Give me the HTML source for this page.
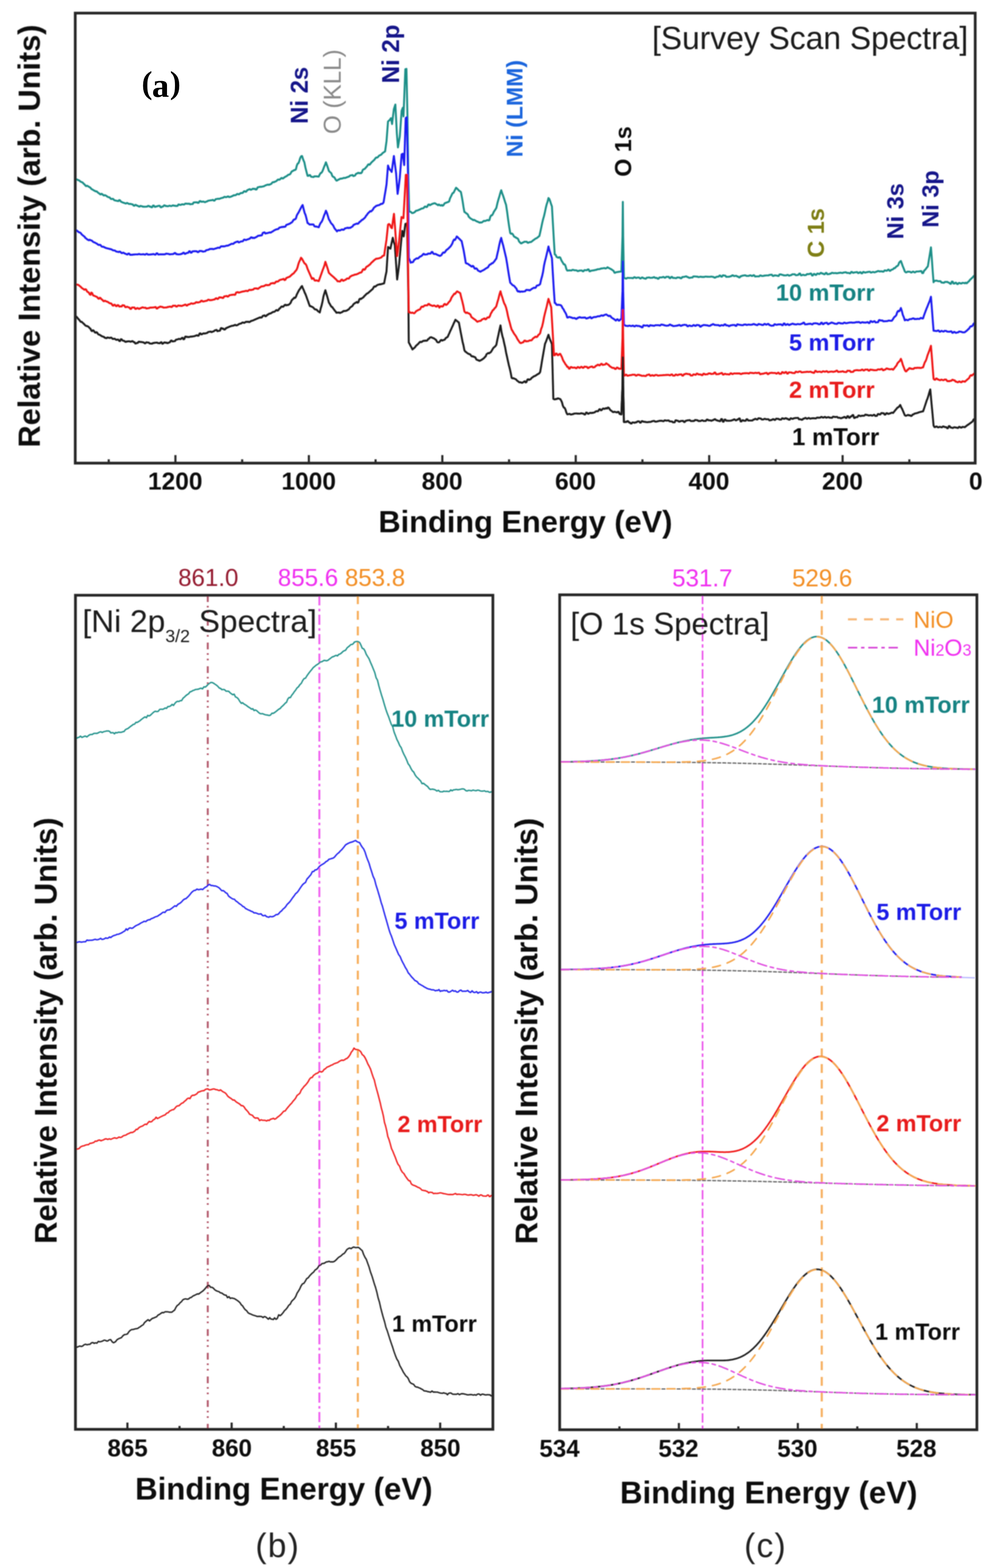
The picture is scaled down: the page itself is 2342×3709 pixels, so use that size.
<!DOCTYPE html>
<html><head><meta charset="utf-8"><title>XPS spectra</title>
<style>html,body{margin:0;padding:0;background:#fff;width:2342px;height:3709px;overflow:hidden}</style>
</head><body>
<svg width="2342" height="3709" viewBox="0 0 2342 3709" style="display:block">
<rect width="2342" height="3709" fill="#ffffff"/>
<defs><filter id="soft" x="0" y="0" width="2342" height="3709" filterUnits="userSpaceOnUse"><feGaussianBlur stdDeviation="0.9"/></filter></defs>
<g filter="url(#soft)">
<path d="M180.0 424.0 L182.0 424.5 L184.0 425.7 L186.0 426.2 L188.0 427.4 L190.0 429.2 L192.0 430.4 L194.0 431.0 L196.0 432.2 L198.0 434.8 L200.0 436.1 L202.0 439.0 L204.0 440.3 L206.0 439.2 L208.0 440.4 L210.0 441.7 L212.0 442.8 L214.0 444.1 L216.0 446.8 L218.0 448.0 L220.0 449.1 L222.0 450.4 L224.0 451.3 L226.0 452.6 L228.0 452.5 L230.0 453.8 L232.0 456.0 L234.0 457.0 L236.0 458.9 L238.0 459.9 L240.0 458.3 L242.0 459.3 L244.0 461.4 L246.0 462.4 L248.0 461.5 L250.0 462.5 L252.0 463.5 L254.0 465.3 L256.0 466.3 L258.0 466.6 L260.0 467.6 L262.0 470.3 L264.0 470.9 L266.0 470.2 L268.0 470.8 L270.0 473.4 L272.0 474.0 L274.0 474.4 L276.0 475.0 L278.0 475.2 L280.0 475.8 L282.0 473.3 L284.0 473.9 L286.0 477.1 L288.0 477.7 L290.0 478.9 L292.0 479.5 L294.0 480.1 L296.0 480.9 L298.0 481.5 L300.0 480.0 L302.0 480.4 L304.0 482.1 L306.0 482.5 L308.0 482.2 L310.0 482.6 L312.0 483.2 L314.0 483.5 L316.0 486.3 L318.0 486.7 L320.0 484.6 L322.0 485.0 L324.0 486.4 L326.0 486.7 L328.0 488.3 L330.0 488.7 L332.0 487.1 L334.0 487.5 L336.0 487.9 L338.0 488.9 L340.0 488.8 L342.0 489.0 L344.0 489.0 L346.0 488.8 L348.0 488.8 L350.0 487.0 L352.0 487.0 L354.0 488.6 L356.0 488.5 L358.0 490.1 L360.0 490.1 L362.0 486.2 L364.0 486.2 L366.0 489.2 L368.0 489.1 L370.0 488.1 L372.0 488.1 L374.0 487.0 L376.0 486.9 L378.0 486.9 L380.0 490.2 L382.0 490.2 L384.0 488.5 L386.0 488.4 L388.0 485.8 L390.0 485.8 L392.0 487.4 L394.0 487.3 L396.0 487.9 L398.0 487.8 L400.0 486.8 L402.0 486.6 L404.0 487.5 L406.0 487.3 L408.0 486.1 L410.0 485.9 L412.0 486.7 L414.0 486.5 L416.0 487.3 L418.0 487.1 L420.0 486.9 L422.0 483.9 L424.0 483.7 L426.0 484.7 L428.0 484.5 L430.0 483.4 L432.0 483.2 L434.0 483.8 L436.0 483.6 L438.0 481.7 L440.0 481.5 L442.0 482.0 L444.0 481.8 L446.0 482.1 L448.0 481.9 L450.0 483.2 L452.0 482.8 L454.0 482.8 L456.0 482.5 L458.0 479.0 L460.0 478.7 L462.0 478.4 L464.0 478.7 L466.0 478.4 L468.0 480.0 L470.0 479.6 L472.0 475.9 L474.0 475.6 L476.0 477.2 L478.0 476.9 L480.0 477.1 L482.0 476.8 L484.0 478.2 L486.0 477.9 L488.0 476.8 L490.0 476.5 L492.0 474.9 L494.0 474.5 L496.0 474.2 L498.0 473.8 L500.0 473.7 L502.0 473.2 L504.0 472.8 L506.0 474.7 L508.0 474.2 L510.0 471.2 L512.0 470.8 L514.0 470.5 L516.0 470.1 L518.0 470.5 L520.0 470.1 L522.0 469.0 L524.0 468.6 L526.0 468.0 L528.0 467.6 L530.0 466.0 L532.0 465.5 L534.0 466.5 L536.0 466.1 L538.0 465.1 L540.0 464.6 L542.0 466.3 L544.0 465.8 L546.0 465.4 L548.0 464.3 L550.0 463.8 L552.0 462.3 L554.1 461.7 L556.1 461.9 L558.2 461.3 L560.2 459.3 L562.3 458.7 L564.4 459.8 L566.4 459.2 L568.5 457.1 L570.5 456.5 L572.5 456.6 L574.6 456.0 L576.6 452.9 L578.7 452.2 L580.8 453.7 L582.8 453.1 L584.9 449.8 L586.9 449.1 L589.0 448.0 L591.0 447.4 L593.0 449.0 L595.1 448.4 L597.1 447.0 L599.2 446.3 L601.2 447.1 L603.2 446.5 L605.3 448.5 L607.3 447.9 L609.4 443.3 L611.4 442.7 L613.5 442.3 L615.5 441.7 L617.5 442.1 L619.6 441.5 L621.6 441.3 L623.7 440.6 L625.7 440.0 L627.8 438.5 L629.8 437.9 L631.8 437.2 L633.9 436.6 L635.9 437.2 L638.0 436.5 L640.0 435.7 L642.0 434.7 L644.1 431.7 L646.1 430.7 L648.2 430.9 L650.2 429.9 L652.3 429.0 L654.3 428.0 L656.4 425.6 L658.4 424.6 L660.5 425.3 L662.5 424.3 L664.5 421.9 L666.6 420.9 L668.6 422.3 L670.7 421.3 L672.7 419.3 L674.8 418.3 L676.8 417.1 L678.9 416.1 L680.9 414.2 L683.0 413.2 L685.0 412.8 L687.1 411.0 L689.3 406.7 L691.4 404.8 L693.6 404.1 L695.7 402.2 L697.9 402.3 L700.0 400.5 L702.0 392.2 L704.0 387.2 L706.0 386.1 L708.0 381.1 L710.2 373.7 L712.3 369.7 L714.5 369.0 L717.2 377.5 L720.0 383.9 L722.5 396.2 L725.1 406.5 L727.6 415.9 L729.6 416.0 L731.7 414.1 L733.7 414.2 L735.7 418.0 L737.8 418.2 L739.8 418.6 L741.8 418.8 L743.8 417.0 L745.9 417.2 L747.9 417.1 L749.9 417.3 L752.0 417.6 L754.0 417.8 L756.2 413.1 L758.4 409.5 L760.6 408.6 L762.8 405.0 L765.0 399.3 L767.0 394.0 L769.0 389.3 L771.0 383.9 L773.3 390.0 L775.7 397.0 L778.0 404.2 L780.0 406.5 L782.0 408.0 L784.0 410.3 L786.0 416.0 L788.0 418.3 L790.0 418.8 L792.0 421.1 L794.0 424.9 L796.0 427.3 L798.0 426.8 L800.0 425.0 L802.0 424.5 L804.0 423.1 L806.0 422.6 L808.0 422.6 L810.0 422.1 L812.0 421.3 L814.0 420.8 L816.0 421.0 L818.0 420.5 L820.0 419.5 L822.0 418.8 L824.0 418.2 L826.0 417.5 L828.0 415.4 L830.0 414.7 L832.0 414.7 L834.0 414.0 L836.0 416.5 L838.0 415.8 L840.0 415.1 L842.0 411.4 L844.0 410.7 L846.0 409.5 L848.0 408.7 L850.0 409.9 L852.0 409.1 L854.0 409.8 L856.0 407.9 L858.0 402.3 L860.0 400.4 L862.0 400.1 L864.0 398.2 L866.0 395.7 L868.0 393.8 L870.0 390.4 L872.0 388.5 L874.0 389.8 L876.0 387.9 L878.0 385.0 L880.0 383.1 L882.0 381.2 L884.0 379.4 L886.0 377.5 L888.0 374.5 L890.0 372.6 L892.1 372.8 L894.2 371.4 L896.3 368.7 L898.4 367.3 L900.5 366.5 L902.6 365.1 L904.7 362.4 L906.8 361.0 L908.9 359.5 L911.0 358.1 L914.4 333.5 L917.9 287.3 L920.2 285.5 L922.6 282.7 L924.9 279.5 L927.5 293.4 L929.6 275.4 L931.8 257.9 L935.3 247.3 L938.8 315.1 L941.4 348.8 L943.6 335.7 L945.8 322.8 L948.0 292.3 L950.1 262.0 L952.8 255.0 L954.5 275.5 L956.7 219.9 L958.9 163.6 L961.5 162.9 L964.0 280.5 L966.0 420.5 L968.0 499.3 L970.0 500.8 L972.0 501.2 L974.5 504.0 L977.0 503.8 L979.1 502.8 L981.2 501.7 L983.3 499.2 L985.4 498.2 L987.5 498.0 L989.6 496.9 L991.7 496.2 L993.8 495.1 L995.9 494.1 L998.0 493.1 L1000.0 493.0 L1002.1 492.1 L1004.2 489.3 L1006.3 488.4 L1008.5 490.0 L1010.6 489.1 L1012.7 484.5 L1014.8 483.6 L1016.9 485.4 L1019.0 484.4 L1021.1 483.0 L1023.3 482.1 L1025.4 481.6 L1027.5 480.7 L1029.6 481.0 L1031.8 482.7 L1034.0 483.8 L1036.2 485.5 L1038.3 483.7 L1040.5 485.4 L1042.7 486.3 L1044.9 484.8 L1047.1 486.6 L1049.3 485.2 L1051.5 481.3 L1053.7 479.8 L1055.9 479.7 L1058.1 478.2 L1060.3 477.9 L1062.5 476.4 L1064.5 469.3 L1066.6 465.3 L1068.7 460.8 L1070.7 456.9 L1072.8 456.1 L1074.8 452.2 L1076.9 448.0 L1078.9 444.1 L1081.2 446.0 L1083.5 448.3 L1085.8 451.0 L1088.1 452.2 L1090.4 454.5 L1092.5 465.1 L1094.5 476.6 L1096.5 489.9 L1098.6 501.4 L1100.6 502.4 L1102.7 504.4 L1104.8 505.6 L1106.8 507.7 L1108.8 512.5 L1110.9 514.6 L1113.0 516.6 L1115.0 517.9 L1117.2 519.0 L1119.4 520.8 L1121.6 520.0 L1123.8 521.2 L1126.0 522.7 L1128.2 523.8 L1130.4 524.5 L1132.6 525.6 L1134.8 526.8 L1136.9 525.9 L1139.0 526.4 L1141.1 525.5 L1143.2 523.3 L1145.3 522.4 L1147.3 523.0 L1149.4 522.1 L1151.5 521.2 L1153.6 520.3 L1155.7 521.5 L1157.8 520.6 L1159.8 512.9 L1161.9 509.6 L1164.0 509.3 L1166.0 506.1 L1168.0 501.5 L1170.1 498.2 L1172.2 495.1 L1174.2 491.8 L1176.5 481.4 L1178.8 472.8 L1181.1 465.5 L1183.4 457.0 L1185.7 450.0 L1188.0 457.2 L1190.3 463.3 L1192.6 470.5 L1194.9 477.9 L1197.2 484.6 L1199.7 501.1 L1202.1 519.5 L1204.5 536.0 L1207.0 551.0 L1209.1 553.1 L1211.2 552.3 L1213.3 554.4 L1215.4 558.5 L1217.5 560.6 L1219.5 561.0 L1221.6 563.1 L1223.7 563.5 L1225.8 565.6 L1227.9 571.2 L1230.0 573.3 L1232.0 575.6 L1234.1 575.5 L1236.1 573.7 L1238.1 573.5 L1240.2 571.8 L1242.2 571.7 L1244.2 571.9 L1246.2 571.7 L1248.3 574.3 L1250.3 574.2 L1252.3 572.8 L1254.4 572.6 L1256.4 572.4 L1258.6 570.7 L1260.8 568.9 L1262.9 567.3 L1265.1 565.8 L1267.3 564.1 L1269.5 563.5 L1271.6 561.8 L1273.8 559.9 L1276.0 558.2 L1278.2 548.5 L1280.3 539.1 L1282.5 528.2 L1284.7 518.9 L1286.8 511.6 L1289.0 502.3 L1291.1 492.1 L1293.2 483.4 L1295.4 477.1 L1297.5 468.4 L1299.5 470.7 L1301.6 476.1 L1303.7 482.9 L1305.7 488.3 L1307.9 526.8 L1310.1 565.2 L1312.3 601.8 L1314.5 602.9 L1316.7 607.9 L1318.8 608.6 L1321.0 609.7 L1323.2 608.3 L1325.4 609.4 L1327.5 614.7 L1329.5 618.4 L1331.6 621.6 L1333.7 625.3 L1335.7 625.2 L1337.8 628.9 L1339.8 636.3 L1341.9 640.0 L1343.9 640.0 L1345.9 639.6 L1348.0 639.6 L1350.0 639.8 L1352.0 639.8 L1354.0 638.3 L1356.1 638.3 L1358.1 639.3 L1360.1 639.3 L1362.1 639.5 L1364.2 639.5 L1366.2 641.2 L1368.2 641.2 L1370.2 640.1 L1372.2 640.1 L1374.3 639.7 L1376.3 639.7 L1378.3 641.7 L1380.3 641.7 L1382.4 639.0 L1384.4 639.0 L1386.4 639.2 L1388.4 639.2 L1390.5 637.3 L1392.5 637.3 L1394.5 641.7 L1396.6 641.4 L1398.6 640.3 L1400.7 640.0 L1402.7 639.7 L1404.8 639.4 L1406.8 639.1 L1408.9 638.4 L1411.0 638.1 L1413.0 637.1 L1415.1 636.8 L1417.1 636.6 L1419.2 636.3 L1421.2 635.4 L1423.3 635.1 L1425.3 634.8 L1427.4 634.5 L1429.9 634.0 L1432.3 635.1 L1434.8 634.3 L1437.2 632.2 L1439.2 633.7 L1441.3 634.3 L1443.3 635.7 L1445.4 636.5 L1447.5 637.9 L1449.5 639.3 L1451.5 640.7 L1453.6 645.1 L1455.6 645.1 L1457.7 643.7 L1459.8 643.7 L1461.8 643.1 L1463.8 643.1 L1465.9 642.5 L1468.0 642.5 L1470.0 642.5 L1472.6 558.6 L1473.4 477.6 L1474.2 558.6 L1476.0 657.7 L1478.0 657.7 L1480.0 658.9 L1482.0 658.9 L1484.0 657.3 L1486.0 657.3 L1488.0 657.5 L1490.0 657.5 L1492.0 657.5 L1494.0 657.5 L1496.0 657.9 L1498.0 657.9 L1500.0 655.7 L1502.0 655.7 L1504.0 657.4 L1506.0 657.4 L1508.0 656.5 L1510.0 656.5 L1512.0 656.5 L1514.0 658.7 L1516.0 658.7 L1518.0 656.5 L1520.0 656.4 L1522.0 658.1 L1524.0 658.1 L1526.0 659.3 L1528.0 659.3 L1530.0 656.8 L1532.0 656.8 L1534.0 656.4 L1536.0 656.3 L1538.0 657.3 L1540.0 657.3 L1542.0 657.0 L1544.0 657.0 L1546.0 655.7 L1548.0 655.6 L1550.0 657.5 L1552.0 657.4 L1554.0 657.4 L1556.0 659.4 L1558.0 659.3 L1560.0 656.4 L1562.0 656.3 L1564.0 656.3 L1566.0 656.3 L1568.0 655.2 L1570.0 655.1 L1572.0 656.9 L1574.0 656.8 L1576.0 654.8 L1578.0 654.7 L1580.0 654.9 L1582.0 654.8 L1584.0 657.9 L1586.0 657.9 L1588.0 655.0 L1590.0 655.0 L1592.0 657.5 L1594.0 657.5 L1596.0 657.4 L1598.0 658.0 L1600.0 657.9 L1602.0 656.2 L1604.0 656.2 L1606.0 656.6 L1608.0 656.5 L1610.0 658.3 L1612.0 658.3 L1614.0 655.4 L1616.0 655.4 L1618.0 654.8 L1620.0 654.8 L1622.0 653.8 L1624.0 653.7 L1626.0 655.5 L1628.0 655.5 L1630.0 657.3 L1632.0 657.3 L1634.0 656.6 L1636.0 656.5 L1638.0 656.5 L1640.0 654.0 L1642.0 653.9 L1644.0 654.0 L1646.0 654.0 L1648.0 654.4 L1650.0 654.4 L1652.0 655.4 L1654.0 655.3 L1656.0 654.6 L1658.0 654.6 L1660.0 655.1 L1662.0 655.1 L1664.0 655.1 L1666.0 655.1 L1668.0 654.3 L1670.0 654.3 L1672.0 654.6 L1674.0 654.5 L1676.0 654.8 L1678.0 654.8 L1680.0 654.7 L1682.0 654.3 L1684.0 654.3 L1686.0 655.0 L1688.0 655.0 L1690.0 656.7 L1692.0 656.7 L1694.0 655.0 L1696.0 654.9 L1698.0 654.2 L1700.0 654.2 L1702.0 651.9 L1704.0 651.8 L1706.0 654.5 L1708.0 654.4 L1710.0 651.4 L1712.0 651.3 L1714.0 652.0 L1716.0 652.0 L1718.0 654.9 L1720.0 654.8 L1722.0 654.8 L1724.0 654.6 L1726.0 654.5 L1728.0 653.4 L1730.0 653.3 L1732.0 651.3 L1734.0 651.2 L1736.0 652.9 L1738.0 652.9 L1740.0 652.5 L1742.0 652.4 L1744.0 654.1 L1746.0 654.1 L1748.0 656.1 L1750.0 656.1 L1752.0 653.4 L1754.0 653.4 L1756.0 652.0 L1758.0 652.0 L1760.0 651.4 L1762.0 651.4 L1764.0 651.4 L1766.0 652.8 L1768.0 652.7 L1770.0 652.6 L1772.0 652.5 L1774.0 651.2 L1776.0 651.2 L1778.0 652.8 L1780.0 652.8 L1782.0 651.1 L1784.0 651.0 L1786.0 653.9 L1788.0 653.9 L1790.0 653.8 L1792.0 653.8 L1794.0 653.8 L1796.0 653.7 L1798.0 651.6 L1800.0 651.6 L1802.0 652.9 L1804.0 652.8 L1806.0 652.8 L1808.0 651.9 L1810.0 651.9 L1812.0 651.5 L1814.0 651.5 L1816.0 651.5 L1818.0 651.5 L1820.0 650.2 L1822.0 650.1 L1824.0 649.9 L1826.0 649.9 L1828.0 652.7 L1830.0 652.7 L1832.0 651.4 L1834.0 651.3 L1836.0 651.8 L1838.0 651.8 L1840.0 652.8 L1842.0 652.8 L1844.0 649.2 L1846.0 649.1 L1848.0 649.1 L1850.0 650.3 L1852.0 650.2 L1854.1 651.4 L1856.1 651.3 L1858.1 651.5 L1860.1 651.4 L1862.2 650.3 L1864.2 650.2 L1866.2 652.0 L1868.2 651.9 L1870.3 650.8 L1872.3 650.7 L1874.3 648.7 L1876.3 648.7 L1878.4 648.9 L1880.4 648.9 L1882.4 651.0 L1884.4 651.0 L1886.5 650.4 L1888.5 650.4 L1890.5 647.2 L1892.6 647.1 L1894.6 651.3 L1896.6 651.2 L1898.6 650.1 L1900.7 650.0 L1902.7 650.9 L1904.7 650.8 L1906.7 650.8 L1908.8 648.4 L1910.8 648.4 L1912.8 648.4 L1914.8 648.3 L1916.9 647.1 L1918.9 647.1 L1920.9 651.7 L1922.9 651.7 L1925.0 648.1 L1927.0 648.0 L1929.0 650.2 L1931.0 650.1 L1933.0 647.2 L1935.1 647.1 L1937.1 648.1 L1939.1 648.0 L1941.1 645.6 L1943.1 645.5 L1945.1 647.1 L1947.1 647.0 L1949.2 648.7 L1951.2 648.7 L1953.2 645.7 L1955.2 645.6 L1957.2 648.6 L1959.2 648.5 L1961.2 648.5 L1963.3 647.4 L1965.3 647.4 L1967.3 645.5 L1969.3 645.4 L1971.3 646.1 L1973.3 646.0 L1975.3 646.0 L1977.4 645.9 L1979.4 646.4 L1981.4 646.3 L1983.4 645.6 L1985.4 645.6 L1987.4 645.1 L1989.4 645.1 L1991.5 645.7 L1993.5 645.6 L1995.5 644.6 L1997.5 644.5 L1999.5 644.1 L2001.5 644.1 L2003.6 645.6 L2005.6 645.5 L2007.6 645.5 L2009.6 646.6 L2011.6 646.5 L2013.6 643.3 L2015.6 643.3 L2017.7 645.2 L2019.7 645.1 L2021.7 644.2 L2023.7 644.2 L2025.7 643.7 L2027.7 643.6 L2029.7 645.9 L2031.8 645.8 L2033.8 644.0 L2035.8 643.9 L2037.8 646.5 L2039.8 646.4 L2041.8 643.4 L2043.8 643.3 L2045.9 644.8 L2047.9 644.7 L2049.9 643.8 L2051.9 643.8 L2053.9 643.0 L2055.9 643.0 L2057.9 642.9 L2060.0 644.6 L2062.0 644.5 L2064.0 643.5 L2066.0 643.4 L2068.0 644.2 L2070.1 644.0 L2072.1 642.9 L2074.1 642.7 L2076.2 641.2 L2078.2 641.0 L2080.2 642.1 L2082.2 641.9 L2084.3 641.9 L2086.3 641.7 L2088.3 642.6 L2090.4 642.4 L2092.4 639.8 L2094.4 639.6 L2096.5 640.5 L2098.5 640.3 L2100.5 638.0 L2102.5 637.8 L2104.6 640.6 L2106.6 640.4 L2108.6 638.0 L2110.7 637.8 L2112.7 636.7 L2114.8 634.4 L2116.8 634.4 L2118.9 632.2 L2120.9 629.9 L2123.0 629.2 L2125.0 627.0 L2127.1 621.3 L2129.1 619.1 L2131.2 617.4 L2133.5 623.6 L2135.8 630.2 L2138.2 635.9 L2140.5 642.1 L2142.6 644.1 L2144.6 644.1 L2146.7 642.6 L2148.7 642.6 L2150.8 642.7 L2152.8 642.7 L2154.9 644.4 L2157.0 644.4 L2159.0 642.6 L2161.1 642.6 L2163.1 644.2 L2165.2 644.2 L2167.2 642.3 L2169.3 642.3 L2171.4 642.3 L2173.4 642.0 L2175.5 642.0 L2177.5 641.2 L2179.6 641.2 L2181.6 646.0 L2183.7 646.0 L2186.0 640.5 L2188.2 638.5 L2190.5 635.8 L2192.7 632.7 L2195.0 630.0 L2197.4 615.2 L2199.9 600.1 L2202.3 585.0 L2204.4 611.7 L2206.4 640.9 L2208.5 667.7 L2210.6 664.1 L2212.6 664.3 L2214.7 663.8 L2216.7 664.1 L2218.8 665.0 L2220.8 665.2 L2222.9 665.0 L2225.0 665.2 L2227.0 668.1 L2229.1 668.4 L2231.1 668.7 L2233.2 668.9 L2235.2 666.8 L2237.3 667.0 L2239.4 666.7 L2241.4 666.9 L2243.5 668.5 L2245.5 668.7 L2247.6 671.2 L2249.6 671.4 L2251.7 666.1 L2253.8 666.2 L2255.8 670.7 L2257.9 670.8 L2259.9 668.8 L2262.0 668.9 L2264.1 671.8 L2266.1 671.9 L2268.2 669.3 L2270.2 669.4 L2272.3 670.5 L2274.4 670.6 L2276.4 669.1 L2278.5 669.2 L2280.5 669.3 L2282.6 670.1 L2284.6 668.6 L2286.7 670.1 L2288.7 668.6 L2290.7 666.3 L2292.8 664.7 L2294.8 661.6 L2296.9 660.1 L2298.9 657.9 L2300.9 656.4 L2303.0 653.5 L2305.0 651.9" fill="none" stroke="#1f8f88" stroke-width="4.6" stroke-linejoin="round" stroke-linecap="round" />
<path d="M180.5 544.6 L182.7 546.2 L184.8 547.9 L187.0 549.6 L189.2 550.0 L191.3 551.7 L193.5 554.8 L195.7 556.5 L197.8 558.2 L200.0 559.9 L202.0 562.9 L204.0 564.1 L206.0 566.0 L208.0 567.2 L210.0 568.4 L212.0 567.0 L214.0 568.2 L216.0 568.6 L218.0 569.8 L220.0 571.9 L222.0 573.1 L224.0 573.6 L226.0 574.8 L228.0 575.8 L230.0 577.0 L232.0 578.7 L234.0 579.5 L236.0 579.0 L238.0 579.8 L240.0 582.8 L242.0 583.6 L244.0 583.5 L246.0 584.3 L248.0 585.5 L250.0 586.3 L252.0 587.1 L254.0 587.4 L256.0 588.2 L258.0 588.3 L260.0 589.1 L262.1 589.4 L264.1 590.0 L266.2 591.6 L268.3 592.2 L270.4 592.4 L272.4 593.0 L274.5 594.7 L276.6 595.3 L278.7 595.6 L280.8 596.2 L282.8 595.1 L284.9 595.7 L287.0 598.2 L289.1 598.8 L291.1 597.6 L293.2 598.3 L295.3 599.8 L297.4 600.4 L299.4 601.5 L301.5 602.1 L303.5 599.8 L305.5 599.8 L307.6 602.6 L309.6 602.5 L311.6 602.6 L313.6 602.6 L315.6 602.1 L317.7 602.1 L319.7 601.8 L321.7 601.7 L323.7 601.8 L325.8 601.8 L327.8 601.0 L329.8 600.9 L331.8 601.8 L333.8 601.8 L335.9 601.8 L337.9 601.4 L339.9 601.4 L341.9 602.2 L343.9 602.2 L346.0 600.5 L348.0 600.5 L350.0 602.3 L352.0 602.3 L354.0 602.1 L356.1 602.0 L358.1 601.6 L360.1 601.6 L362.1 601.1 L364.2 601.1 L366.2 602.3 L368.2 602.3 L370.2 599.3 L372.3 599.3 L374.3 602.0 L376.3 602.0 L378.3 601.6 L380.4 601.6 L382.4 601.6 L384.4 601.5 L386.4 601.6 L388.5 601.6 L390.5 601.5 L392.5 600.1 L394.5 600.1 L396.6 600.5 L398.6 600.5 L400.6 601.6 L402.6 601.6 L404.7 601.2 L406.7 601.2 L408.7 600.9 L410.7 600.8 L412.8 598.5 L414.8 598.5 L416.8 601.1 L418.8 601.0 L420.9 601.8 L422.9 601.8 L424.9 601.5 L426.9 601.5 L429.0 600.4 L431.0 600.4 L433.0 598.0 L435.0 597.7 L437.1 600.6 L439.1 600.3 L441.1 598.6 L443.2 598.3 L445.2 598.0 L447.2 594.6 L449.2 594.3 L451.3 597.8 L453.3 597.5 L455.3 594.7 L457.4 594.4 L459.4 594.4 L461.4 594.1 L463.5 594.6 L465.5 594.3 L467.5 596.5 L469.5 596.2 L471.6 593.8 L473.6 593.5 L475.6 594.0 L477.7 593.7 L479.7 595.3 L481.7 595.0 L483.8 594.5 L485.8 594.2 L487.8 591.7 L489.8 591.4 L491.9 590.9 L493.9 590.6 L495.9 589.0 L498.0 588.7 L500.0 589.1 L502.0 588.6 L504.0 589.5 L506.1 588.9 L508.1 588.4 L510.1 587.8 L512.1 587.3 L514.2 586.4 L516.2 585.8 L518.2 586.4 L520.2 585.9 L522.2 583.1 L524.3 582.5 L526.3 582.9 L528.3 582.4 L530.3 582.9 L532.4 582.3 L534.4 581.6 L536.4 581.0 L538.4 581.1 L540.4 580.6 L542.5 579.2 L544.5 578.6 L546.5 577.2 L548.5 576.6 L550.6 577.0 L552.6 576.4 L554.6 574.1 L556.6 573.6 L558.6 572.2 L560.7 571.7 L562.7 571.1 L564.7 573.5 L566.7 572.9 L568.8 571.6 L570.8 571.0 L572.8 571.0 L574.8 570.4 L576.8 567.3 L578.9 566.7 L580.9 567.9 L582.9 567.4 L584.9 566.5 L587.0 566.0 L589.0 565.1 L591.0 564.6 L593.0 562.0 L595.1 561.3 L597.1 563.1 L599.2 562.3 L601.2 563.2 L603.2 562.4 L605.3 561.0 L607.3 560.3 L609.4 558.3 L611.4 557.5 L613.5 557.6 L615.5 556.8 L617.5 557.1 L619.6 556.4 L621.6 551.0 L623.7 550.3 L625.7 549.6 L627.8 552.3 L629.8 551.5 L631.8 551.7 L633.9 550.9 L635.9 550.4 L638.0 549.6 L640.0 550.2 L642.1 549.3 L644.1 547.7 L646.2 546.9 L648.3 545.0 L650.3 544.1 L652.4 543.2 L654.5 542.3 L656.5 542.1 L658.6 541.3 L660.7 538.7 L662.8 537.8 L664.8 537.6 L666.9 536.7 L669.0 537.1 L671.0 536.2 L673.1 536.7 L675.2 535.9 L677.2 532.2 L679.3 531.4 L681.4 530.7 L683.4 529.8 L685.5 529.3 L687.6 527.3 L689.6 526.7 L691.7 524.7 L693.8 521.0 L695.9 519.0 L697.9 518.9 L700.0 516.9 L702.0 509.9 L704.0 506.0 L706.0 503.1 L708.0 499.3 L710.0 495.4 L712.0 491.5 L714.0 487.6 L716.0 485.0 L718.3 494.4 L720.6 503.4 L723.0 509.0 L725.3 518.0 L727.6 527.8 L729.6 528.4 L731.7 530.7 L733.7 531.3 L735.7 530.6 L737.8 531.2 L739.8 530.7 L741.8 531.3 L743.8 535.3 L745.9 535.9 L747.9 535.8 L749.9 536.4 L752.0 537.0 L754.0 537.6 L756.2 532.0 L758.4 527.6 L760.6 525.1 L762.8 520.7 L765.0 514.7 L767.0 508.7 L769.0 504.4 L771.0 498.4 L773.3 503.5 L775.7 511.1 L778.0 518.9 L780.1 521.9 L782.2 526.3 L784.3 529.3 L786.4 531.1 L788.6 534.1 L790.7 538.9 L792.8 541.9 L794.9 544.3 L797.0 547.3 L799.1 545.2 L801.2 544.5 L803.3 545.2 L805.4 544.5 L807.5 543.4 L809.5 542.7 L811.6 543.7 L813.7 543.1 L815.8 540.5 L817.9 539.8 L820.0 539.4 L822.0 538.5 L824.0 539.6 L826.0 538.7 L828.0 539.1 L830.0 538.1 L832.0 536.8 L834.0 535.8 L836.0 532.4 L838.0 531.4 L840.0 530.4 L842.0 529.7 L844.0 528.7 L846.0 529.5 L848.0 528.5 L850.0 525.4 L852.0 524.4 L854.0 522.3 L856.0 520.3 L858.0 519.7 L860.0 517.7 L862.0 516.1 L864.0 514.0 L866.0 510.3 L868.0 508.3 L870.0 505.2 L872.0 503.2 L874.0 501.4 L876.0 499.4 L878.0 500.1 L880.0 498.0 L882.0 496.0 L884.0 492.1 L886.0 490.1 L888.0 488.8 L890.0 486.8 L892.2 486.4 L894.4 485.5 L896.5 485.2 L898.7 484.3 L900.9 482.2 L903.0 482.4 L905.2 481.5 L907.4 478.8 L909.7 464.3 L912.1 450.5 L914.4 435.9 L917.9 391.5 L920.1 397.7 L922.2 401.2 L924.4 403.2 L926.6 406.7 L929.2 387.4 L931.8 369.0 L934.4 389.6 L937.0 409.9 L940.6 458.7 L943.2 441.6 L945.8 420.3 L948.0 392.4 L950.1 365.3 L952.8 363.7 L956.2 390.5 L959.7 279.3 L962.5 277.2 L965.0 402.7 L967.0 609.9 L969.2 615.1 L971.4 621.4 L973.5 620.1 L975.5 620.6 L977.6 619.3 L979.7 615.0 L981.8 613.7 L983.9 612.2 L985.9 610.9 L988.0 611.7 L990.1 610.4 L992.1 608.1 L994.2 606.8 L996.3 605.8 L998.4 604.5 L1000.5 601.6 L1002.5 600.3 L1004.6 602.2 L1006.6 602.1 L1008.7 601.7 L1010.7 601.6 L1012.8 599.9 L1014.8 599.8 L1016.9 599.9 L1018.9 599.7 L1021.0 596.1 L1023.0 596.0 L1025.2 600.1 L1027.4 600.9 L1029.6 600.5 L1031.8 601.2 L1033.9 602.7 L1036.1 603.4 L1038.3 604.5 L1040.5 605.2 L1042.7 604.6 L1044.8 602.6 L1046.9 598.9 L1049.0 597.0 L1051.1 597.8 L1053.2 595.8 L1055.2 592.5 L1057.3 590.5 L1059.4 589.2 L1061.5 587.2 L1063.6 584.9 L1065.7 583.0 L1067.8 579.8 L1069.9 576.3 L1072.0 570.2 L1074.2 566.6 L1076.3 567.7 L1078.4 564.1 L1080.5 559.3 L1082.8 561.0 L1085.1 563.8 L1087.4 565.5 L1089.7 568.3 L1092.0 570.0 L1094.5 581.4 L1097.0 593.0 L1099.4 607.0 L1101.9 622.1 L1104.0 623.2 L1106.0 623.8 L1108.0 624.8 L1110.1 626.7 L1112.2 627.8 L1114.2 629.6 L1116.2 630.6 L1118.3 628.9 L1120.3 630.2 L1122.3 634.5 L1124.3 635.8 L1126.3 634.6 L1128.4 635.9 L1130.4 639.6 L1132.4 640.8 L1134.4 641.6 L1136.4 642.9 L1138.4 641.5 L1140.4 640.4 L1142.4 639.6 L1144.4 638.5 L1146.5 637.3 L1148.5 635.6 L1150.5 634.5 L1152.5 633.3 L1154.5 632.2 L1156.7 628.3 L1158.9 625.7 L1161.1 625.3 L1163.3 622.7 L1165.4 622.6 L1167.6 620.2 L1169.8 617.7 L1172.0 614.3 L1174.2 611.7 L1176.5 601.1 L1178.8 591.2 L1181.1 579.6 L1183.4 569.8 L1185.7 562.7 L1188.0 572.5 L1190.3 580.4 L1192.6 590.2 L1194.9 600.1 L1197.2 609.6 L1199.7 624.4 L1202.1 639.8 L1204.5 654.6 L1207.0 668.7 L1209.1 670.7 L1211.2 673.1 L1213.3 675.0 L1215.4 675.6 L1217.5 677.6 L1219.5 680.4 L1221.6 682.4 L1223.7 687.8 L1225.8 689.7 L1227.9 688.6 L1230.0 690.5 L1232.1 689.8 L1234.2 689.4 L1236.3 690.0 L1238.4 689.5 L1240.5 689.3 L1242.5 688.8 L1244.6 686.0 L1246.7 685.6 L1248.8 686.3 L1250.9 685.9 L1253.0 686.9 L1255.1 685.8 L1257.1 683.9 L1259.2 682.8 L1261.3 681.5 L1263.3 680.4 L1265.4 681.2 L1267.5 680.1 L1269.5 676.1 L1271.6 675.0 L1273.7 674.9 L1275.7 673.8 L1277.8 671.9 L1280.1 661.4 L1282.4 653.5 L1284.7 643.0 L1287.0 628.0 L1289.3 617.5 L1291.3 610.1 L1293.4 601.0 L1295.5 592.2 L1297.5 583.1 L1299.5 591.2 L1301.6 597.8 L1303.7 604.2 L1305.7 610.8 L1307.9 648.0 L1310.1 684.2 L1312.3 716.6 L1314.3 717.2 L1316.4 720.8 L1318.5 721.4 L1320.5 720.7 L1322.5 721.3 L1324.6 721.4 L1326.7 722.0 L1328.7 724.2 L1330.9 728.9 L1333.1 731.6 L1335.3 736.3 L1337.5 739.5 L1339.7 744.1 L1341.9 751.0 L1343.9 751.1 L1345.9 749.7 L1348.0 749.7 L1350.0 750.9 L1352.0 750.9 L1354.0 752.3 L1356.1 752.4 L1358.1 752.4 L1360.1 752.4 L1362.1 754.1 L1364.2 754.2 L1366.2 751.9 L1368.2 752.0 L1370.2 750.3 L1372.2 750.4 L1374.3 751.4 L1376.3 751.5 L1378.3 751.3 L1380.3 751.4 L1382.4 751.1 L1384.4 751.1 L1386.4 753.3 L1388.4 753.4 L1390.5 752.0 L1392.5 752.1 L1394.5 750.4 L1396.6 749.9 L1398.7 752.9 L1400.7 752.4 L1402.8 750.8 L1404.9 750.3 L1407.0 749.8 L1409.1 749.9 L1411.1 749.4 L1413.2 748.5 L1415.3 748.0 L1417.4 748.2 L1419.4 747.7 L1421.5 746.4 L1423.6 745.9 L1425.7 746.9 L1427.8 746.4 L1429.8 744.9 L1431.9 744.4 L1434.0 743.8 L1436.1 745.1 L1438.2 746.5 L1440.3 747.8 L1442.4 746.8 L1444.5 748.1 L1446.5 751.1 L1448.6 752.4 L1450.7 753.7 L1452.8 755.0 L1454.9 756.9 L1457.0 758.3 L1459.2 755.7 L1461.3 755.2 L1463.5 758.5 L1465.7 758.0 L1467.8 755.5 L1470.0 754.9 L1472.6 688.4 L1473.4 618.4 L1474.2 688.4 L1476.0 769.0 L1478.0 769.0 L1480.0 770.8 L1482.0 770.8 L1484.0 771.1 L1486.0 771.1 L1488.0 770.3 L1490.0 770.3 L1492.0 771.3 L1494.0 771.3 L1496.0 770.4 L1498.0 770.4 L1500.0 771.9 L1502.0 771.9 L1504.0 770.2 L1506.0 770.2 L1508.0 771.1 L1510.0 771.0 L1512.0 771.0 L1514.0 772.3 L1516.0 772.3 L1518.0 774.3 L1520.0 774.3 L1522.0 769.6 L1524.0 769.6 L1526.0 770.3 L1528.0 770.3 L1530.0 769.8 L1532.0 769.7 L1534.0 771.8 L1536.0 771.8 L1538.0 769.3 L1540.0 769.3 L1542.0 770.1 L1544.0 770.1 L1546.0 770.6 L1548.0 770.6 L1550.0 769.4 L1552.0 769.3 L1554.0 769.3 L1556.0 769.3 L1558.0 769.3 L1560.0 769.9 L1562.0 769.9 L1564.0 767.7 L1566.0 767.7 L1568.0 768.5 L1570.0 768.5 L1572.0 769.8 L1574.0 769.8 L1576.0 770.5 L1578.0 770.5 L1580.0 770.0 L1582.0 770.0 L1584.0 767.9 L1586.0 767.9 L1588.0 769.6 L1590.0 769.6 L1592.0 771.2 L1594.0 771.2 L1596.0 771.1 L1598.0 770.8 L1600.0 770.8 L1602.0 769.9 L1604.0 769.9 L1606.0 768.8 L1608.0 768.8 L1610.0 770.8 L1612.0 770.7 L1614.0 769.1 L1616.0 769.1 L1618.0 768.3 L1620.0 768.3 L1622.0 768.8 L1624.0 768.7 L1626.0 771.6 L1628.0 771.6 L1630.0 770.0 L1632.0 770.0 L1634.0 771.2 L1636.0 771.2 L1638.0 771.1 L1640.0 769.0 L1642.0 769.0 L1644.0 770.8 L1646.0 770.8 L1648.0 768.7 L1650.0 768.7 L1652.0 769.3 L1654.0 769.2 L1656.0 772.6 L1658.0 772.6 L1660.0 770.4 L1662.0 770.3 L1664.0 768.7 L1666.0 768.7 L1668.0 769.2 L1670.0 769.1 L1672.0 769.7 L1674.0 769.6 L1676.0 770.8 L1678.0 770.7 L1680.0 770.7 L1682.0 768.5 L1684.0 768.5 L1686.0 766.8 L1688.0 766.8 L1690.0 768.7 L1692.0 768.6 L1694.0 769.0 L1696.0 769.0 L1698.0 769.1 L1700.0 769.1 L1702.0 770.6 L1704.0 770.6 L1706.0 769.3 L1708.0 769.2 L1710.0 769.9 L1712.0 769.8 L1714.0 767.3 L1716.0 767.3 L1718.0 769.8 L1720.0 769.8 L1722.0 769.8 L1724.0 771.4 L1726.0 771.3 L1728.0 769.6 L1730.0 769.6 L1732.0 768.9 L1734.0 768.9 L1736.0 768.7 L1738.0 768.7 L1740.0 770.8 L1742.0 770.8 L1744.0 767.2 L1746.0 767.2 L1748.0 768.2 L1750.0 768.2 L1752.0 768.9 L1754.0 768.9 L1756.0 769.2 L1758.0 769.2 L1760.0 767.7 L1762.0 767.6 L1764.0 767.6 L1766.0 768.6 L1768.0 768.5 L1770.0 767.8 L1772.0 767.7 L1774.0 768.2 L1776.0 768.2 L1778.0 767.9 L1780.0 767.8 L1782.0 766.5 L1784.0 766.5 L1786.0 767.9 L1788.0 767.9 L1790.0 769.0 L1792.0 769.0 L1794.0 766.6 L1796.0 766.6 L1798.0 767.5 L1800.0 767.5 L1802.0 768.6 L1804.0 768.6 L1806.0 768.6 L1808.0 766.3 L1810.0 766.3 L1812.0 767.9 L1814.0 767.8 L1816.0 766.2 L1818.0 766.2 L1820.0 769.0 L1822.0 769.0 L1824.0 770.5 L1826.0 770.5 L1828.0 770.1 L1830.0 770.1 L1832.0 767.1 L1834.0 767.1 L1836.0 768.3 L1838.0 768.3 L1840.0 767.5 L1842.0 767.4 L1844.0 767.4 L1846.0 767.4 L1848.0 767.4 L1850.0 769.2 L1852.0 769.2 L1854.0 765.4 L1856.0 765.4 L1858.0 768.4 L1860.0 768.4 L1862.0 766.9 L1864.0 766.8 L1866.1 768.7 L1868.1 768.7 L1870.1 767.0 L1872.1 767.0 L1874.1 765.8 L1876.1 765.8 L1878.1 767.0 L1880.1 766.9 L1882.1 767.5 L1884.1 767.5 L1886.1 766.5 L1888.1 766.5 L1890.1 767.0 L1892.1 767.0 L1894.1 766.9 L1896.1 765.6 L1898.2 765.5 L1900.2 763.4 L1902.2 763.3 L1904.2 767.2 L1906.2 767.2 L1908.2 766.9 L1910.2 766.9 L1912.2 766.1 L1914.2 766.1 L1916.2 765.9 L1918.2 765.9 L1920.2 767.1 L1922.2 767.1 L1924.2 765.1 L1926.2 765.0 L1928.3 764.7 L1930.3 764.6 L1932.3 765.3 L1934.3 765.2 L1936.3 767.0 L1938.3 766.9 L1940.3 766.9 L1942.3 763.5 L1944.3 763.4 L1946.3 766.8 L1948.3 766.7 L1950.3 764.3 L1952.3 764.2 L1954.3 763.6 L1956.3 763.6 L1958.4 766.6 L1960.4 766.6 L1962.4 764.7 L1964.4 764.7 L1966.4 763.1 L1968.4 763.1 L1970.4 764.2 L1972.4 764.2 L1974.4 765.8 L1976.4 765.8 L1978.4 766.1 L1980.4 766.0 L1982.4 763.9 L1984.4 763.9 L1986.4 763.8 L1988.4 764.9 L1990.5 764.8 L1992.5 765.2 L1994.5 765.1 L1996.5 763.3 L1998.5 763.3 L2000.5 764.5 L2002.5 764.5 L2004.5 764.0 L2006.5 763.8 L2008.5 763.1 L2010.6 763.0 L2012.6 762.9 L2014.6 762.8 L2016.6 763.4 L2018.6 763.3 L2020.7 763.1 L2022.7 763.0 L2024.7 762.1 L2026.7 762.0 L2028.8 762.1 L2030.8 761.9 L2032.8 761.8 L2034.8 763.7 L2036.8 763.6 L2038.9 762.3 L2040.9 762.2 L2042.9 763.0 L2044.9 762.8 L2046.9 763.1 L2049.0 763.0 L2051.0 762.1 L2053.0 762.0 L2055.0 764.1 L2057.1 764.0 L2059.1 759.8 L2061.1 759.7 L2063.1 761.7 L2065.1 761.6 L2067.2 760.0 L2069.2 759.9 L2071.2 762.6 L2073.2 762.5 L2075.2 762.2 L2077.3 762.1 L2079.3 757.2 L2081.3 757.1 L2083.3 758.2 L2085.3 758.1 L2087.4 758.0 L2089.4 760.0 L2091.4 759.9 L2093.4 759.9 L2095.5 759.8 L2097.5 759.6 L2099.5 759.5 L2101.5 758.4 L2103.5 758.3 L2105.6 758.8 L2107.6 758.7 L2109.6 758.8 L2111.8 756.0 L2113.9 752.3 L2116.1 749.5 L2118.2 748.1 L2120.4 745.3 L2122.6 738.3 L2124.7 735.5 L2126.9 736.4 L2129.0 733.6 L2131.2 728.7 L2133.5 735.7 L2135.8 745.2 L2138.2 750.7 L2140.5 757.7 L2142.6 756.5 L2144.6 756.2 L2146.7 757.6 L2148.7 757.3 L2150.8 755.3 L2152.8 755.0 L2154.9 754.7 L2157.0 754.4 L2159.0 753.3 L2161.1 753.0 L2163.1 754.7 L2165.2 754.4 L2167.2 754.7 L2169.3 754.4 L2171.4 754.1 L2173.4 754.5 L2175.5 754.2 L2177.5 752.4 L2179.6 752.1 L2181.6 753.4 L2183.7 753.1 L2185.8 746.2 L2187.8 740.7 L2189.9 735.1 L2192.0 729.6 L2194.0 725.0 L2196.1 719.5 L2198.2 714.7 L2200.2 709.2 L2202.3 701.9 L2204.4 728.6 L2206.4 755.5 L2208.5 782.3 L2210.5 782.5 L2212.5 782.6 L2214.5 783.0 L2216.5 783.0 L2218.5 781.8 L2220.5 781.9 L2222.5 784.5 L2224.5 784.6 L2226.5 782.8 L2228.5 782.9 L2230.5 784.1 L2232.5 784.2 L2234.5 782.6 L2236.5 782.7 L2238.5 782.8 L2240.5 784.4 L2242.5 784.5 L2244.5 784.6 L2246.6 784.7 L2248.6 783.7 L2250.6 783.8 L2252.6 787.1 L2254.6 787.2 L2256.6 785.1 L2258.6 785.2 L2260.6 787.1 L2262.6 787.2 L2264.6 786.2 L2266.6 786.3 L2268.6 784.3 L2270.6 784.3 L2272.6 784.8 L2274.6 784.9 L2276.6 786.0 L2278.6 786.1 L2280.6 786.2 L2282.6 785.8 L2284.6 784.1 L2286.7 782.4 L2288.7 780.7 L2290.7 778.6 L2292.8 776.9 L2294.8 773.3 L2296.9 771.6 L2298.9 772.0 L2300.9 770.3 L2303.0 766.0 L2305.0 764.3" fill="none" stroke="#1f1ff0" stroke-width="4.6" stroke-linejoin="round" stroke-linecap="round" />
<path d="M180.5 748.9 L182.7 751.1 L184.8 754.0 L187.0 756.2 L189.2 759.1 L191.3 761.4 L193.5 761.4 L195.7 763.6 L197.8 765.5 L200.0 767.7 L202.0 769.9 L204.0 771.1 L206.0 771.1 L208.0 772.3 L210.0 773.6 L212.0 776.2 L214.0 777.5 L216.0 782.1 L218.0 783.3 L220.0 781.1 L222.0 782.4 L224.0 785.8 L226.0 787.1 L228.0 785.7 L230.0 787.0 L232.0 790.4 L234.0 791.6 L236.0 792.1 L238.0 793.3 L240.0 794.9 L242.0 795.4 L244.0 796.6 L246.0 797.0 L248.0 799.0 L250.0 799.4 L252.0 799.9 L254.0 798.3 L256.0 798.7 L258.0 799.1 L260.0 799.5 L262.0 798.5 L264.0 798.9 L266.0 801.4 L268.0 801.8 L270.0 801.2 L272.0 801.6 L274.0 803.4 L276.0 803.9 L278.0 803.2 L280.0 803.6 L282.0 806.4 L284.0 806.8 L286.0 802.4 L288.0 802.8 L290.0 805.4 L292.0 805.9 L294.0 806.3 L296.0 808.3 L298.0 808.7 L300.0 807.5 L302.0 807.7 L304.0 807.2 L306.0 807.3 L308.0 808.2 L310.0 808.3 L312.0 807.0 L314.0 807.1 L316.0 809.2 L318.0 809.3 L320.0 812.4 L322.0 812.5 L324.0 811.0 L326.0 811.1 L328.0 808.3 L330.0 808.4 L332.0 808.9 L334.0 809.0 L336.0 809.1 L338.0 809.8 L340.0 810.0 L342.0 811.9 L344.0 812.1 L346.0 809.8 L348.0 809.9 L350.0 810.2 L352.0 810.4 L354.0 812.5 L356.0 812.7 L358.0 812.7 L360.0 812.9 L362.0 811.4 L364.0 811.5 L366.0 810.7 L368.0 810.8 L370.0 810.4 L372.0 810.5 L374.0 811.7 L376.0 811.8 L378.0 812.0 L380.0 810.1 L382.0 809.6 L384.0 813.1 L386.0 812.6 L388.0 810.3 L390.0 809.9 L392.0 810.9 L394.0 810.4 L396.0 811.7 L398.0 811.3 L400.0 809.9 L402.0 809.5 L404.0 806.0 L406.0 805.5 L408.0 807.7 L410.0 807.2 L412.0 807.1 L414.0 806.7 L416.0 803.7 L418.0 803.3 L420.0 802.8 L422.0 802.1 L424.0 801.6 L426.0 802.3 L428.0 801.8 L430.0 799.4 L432.0 799.0 L434.0 802.5 L436.0 802.0 L438.0 796.5 L440.0 796.1 L442.0 797.3 L444.0 796.8 L446.0 797.5 L448.0 797.0 L450.0 796.6 L452.0 796.1 L454.0 796.2 L456.0 795.7 L458.0 795.4 L460.0 795.0 L462.0 794.5 L464.0 793.4 L466.0 792.9 L468.0 794.2 L470.0 793.8 L472.0 789.1 L474.0 788.6 L476.0 790.9 L478.0 790.5 L480.0 789.1 L482.0 788.5 L484.0 789.1 L486.1 788.5 L488.1 788.1 L490.1 787.6 L492.1 785.5 L494.1 785.0 L496.1 784.8 L498.2 784.3 L500.2 785.6 L502.2 785.0 L504.2 783.9 L506.2 783.4 L508.3 781.5 L510.3 780.9 L512.3 780.4 L514.3 783.4 L516.3 782.8 L518.3 782.6 L520.4 782.1 L522.4 776.6 L524.4 776.1 L526.4 777.8 L528.4 777.3 L530.5 779.6 L532.5 779.1 L534.5 776.3 L536.5 775.7 L538.5 774.5 L540.5 773.9 L542.6 772.8 L544.6 772.3 L546.6 771.3 L548.6 770.8 L550.6 770.6 L552.7 770.1 L554.7 769.1 L556.7 768.6 L558.7 769.7 L560.7 769.2 L562.7 768.6 L564.8 766.6 L566.8 766.0 L568.8 765.4 L570.8 764.9 L572.8 763.3 L574.9 762.8 L576.9 763.8 L578.9 763.2 L580.9 761.6 L582.9 761.0 L584.9 761.4 L587.0 760.9 L589.0 761.9 L591.0 761.4 L593.0 759.7 L595.1 759.0 L597.1 758.4 L599.2 757.7 L601.2 756.7 L603.2 756.0 L605.3 754.8 L607.3 754.1 L609.4 753.1 L611.4 752.3 L613.5 751.3 L615.5 750.6 L617.5 751.2 L619.6 750.5 L621.6 747.3 L623.7 746.6 L625.7 745.8 L627.8 748.2 L629.8 747.5 L631.8 745.0 L633.9 744.3 L635.9 742.5 L638.0 741.8 L640.0 741.4 L642.1 740.3 L644.1 738.9 L646.2 737.8 L648.3 737.8 L650.3 736.8 L652.4 734.5 L654.5 733.4 L656.5 734.8 L658.6 733.7 L660.7 730.1 L662.8 729.0 L664.8 726.0 L666.9 724.9 L669.0 725.8 L671.0 724.7 L673.1 721.9 L675.2 720.8 L677.2 722.3 L679.3 721.2 L681.4 721.6 L683.4 720.5 L685.5 718.8 L687.6 716.3 L689.6 711.1 L691.7 708.5 L693.8 706.7 L695.9 704.2 L697.9 704.9 L700.0 702.3 L702.1 696.6 L704.1 692.8 L706.2 688.6 L708.3 684.9 L710.4 682.4 L712.4 678.7 L714.5 676.7 L716.6 682.2 L718.6 686.3 L720.7 691.9 L722.7 695.9 L724.8 701.5 L726.8 707.3 L728.9 712.8 L730.9 718.7 L733.0 724.3 L735.1 724.1 L737.3 725.5 L739.4 726.4 L741.5 727.8 L743.7 730.6 L745.8 732.0 L748.0 732.1 L750.1 733.5 L752.2 736.1 L754.4 737.5 L756.5 739.1 L758.7 729.5 L760.8 722.7 L763.0 713.0 L765.2 701.1 L767.5 693.4 L769.7 686.5 L771.8 693.6 L773.9 700.6 L775.9 707.7 L778.0 715.6 L780.0 718.6 L782.0 722.4 L784.0 725.4 L786.0 726.4 L788.0 729.4 L790.0 731.9 L792.0 734.9 L794.0 736.9 L796.0 739.9 L798.0 739.3 L800.0 739.6 L802.0 739.0 L804.0 740.4 L806.0 739.8 L808.0 738.6 L810.0 738.0 L812.0 736.0 L814.0 735.4 L816.0 735.7 L818.0 735.1 L820.0 735.0 L822.0 733.4 L824.0 732.4 L826.0 730.8 L828.0 727.8 L830.0 726.2 L832.0 725.0 L834.0 723.4 L836.0 719.8 L838.0 718.2 L840.0 716.6 L842.0 715.8 L844.0 714.2 L846.0 716.2 L848.0 714.6 L850.0 708.1 L852.0 706.5 L854.0 707.3 L856.0 705.5 L858.0 704.5 L860.0 702.8 L862.0 700.3 L864.0 698.5 L866.0 696.2 L868.0 694.5 L870.0 693.7 L872.0 692.0 L874.0 690.3 L876.0 688.6 L878.0 686.7 L880.0 685.0 L882.0 683.2 L884.0 679.2 L886.0 677.4 L888.0 677.9 L890.0 676.2 L892.1 674.5 L894.2 673.6 L896.2 673.2 L898.3 672.4 L900.4 672.6 L902.5 671.8 L904.5 671.5 L906.6 670.7 L908.7 670.2 L911.5 655.3 L914.3 642.2 L918.0 584.2 L920.8 586.4 L923.6 588.2 L926.4 575.1 L929.2 562.4 L931.6 572.1 L934.0 579.8 L936.8 620.5 L939.5 661.2 L941.9 643.8 L944.2 625.1 L946.7 596.1 L949.1 570.0 L951.6 546.0 L955.0 559.3 L957.0 544.3 L959.0 529.5 L961.0 529.5 L963.0 527.7 L966.0 697.7 L967.0 810.3 L969.2 813.8 L971.4 818.4 L973.5 821.9 L975.7 826.6 L977.7 824.8 L979.8 823.2 L981.8 821.4 L983.8 818.3 L985.9 816.5 L987.9 814.6 L989.9 812.9 L992.0 810.3 L994.0 808.5 L996.1 809.3 L998.2 808.5 L1000.2 806.8 L1002.3 806.0 L1004.4 806.3 L1006.5 805.5 L1008.5 806.2 L1010.6 805.4 L1012.7 802.2 L1014.8 801.4 L1016.8 798.7 L1018.9 797.9 L1021.0 797.9 L1023.1 799.2 L1025.2 799.7 L1027.4 801.0 L1029.5 802.7 L1031.6 804.0 L1033.8 808.6 L1035.9 809.9 L1038.0 809.8 L1040.1 808.6 L1042.1 805.2 L1044.2 804.0 L1046.2 805.7 L1048.3 804.5 L1050.3 804.1 L1052.4 803.0 L1054.4 799.7 L1056.5 798.5 L1059.2 796.6 L1061.2 791.9 L1063.2 787.6 L1065.2 782.8 L1067.2 778.9 L1069.3 774.1 L1071.3 769.9 L1073.3 765.1 L1075.3 761.1 L1077.3 756.3 L1079.3 758.0 L1081.4 759.6 L1083.5 761.3 L1085.5 762.8 L1087.7 774.4 L1089.9 786.1 L1092.0 796.7 L1094.2 808.2 L1096.4 816.9 L1098.6 828.4 L1100.6 831.5 L1102.6 832.8 L1104.6 834.6 L1106.6 835.9 L1108.7 837.2 L1110.7 837.6 L1112.7 838.8 L1114.7 841.8 L1116.7 843.1 L1118.7 842.7 L1120.7 844.0 L1122.7 844.5 L1124.7 845.8 L1126.8 850.2 L1128.8 851.4 L1130.8 851.7 L1132.8 853.0 L1134.8 853.7 L1136.8 852.2 L1138.8 851.6 L1140.8 850.0 L1142.9 848.7 L1144.9 847.2 L1146.9 844.7 L1148.9 843.2 L1150.9 838.0 L1152.9 836.5 L1155.0 835.0 L1157.0 835.8 L1159.0 834.2 L1161.0 833.0 L1163.2 829.7 L1165.4 825.8 L1167.6 822.5 L1169.8 820.8 L1172.0 818.8 L1174.2 815.5 L1176.7 802.7 L1179.1 792.0 L1181.5 780.4 L1184.0 769.7 L1186.2 784.2 L1188.4 794.6 L1190.6 801.8 L1192.8 812.2 L1195.0 821.6 L1197.2 833.9 L1199.4 843.8 L1201.6 853.9 L1203.8 863.8 L1206.0 872.2 L1208.2 882.0 L1210.4 893.8 L1212.5 895.0 L1214.6 894.6 L1216.7 895.8 L1218.8 896.4 L1220.9 897.6 L1222.9 900.2 L1225.0 901.4 L1227.1 903.4 L1229.2 904.6 L1231.3 904.0 L1233.4 905.2 L1235.4 905.4 L1237.4 904.4 L1239.5 902.8 L1241.5 901.8 L1243.5 904.6 L1245.5 903.6 L1247.6 898.0 L1249.6 897.0 L1251.6 898.7 L1253.6 897.6 L1255.7 896.6 L1257.7 893.7 L1259.7 892.7 L1261.7 891.2 L1263.7 889.7 L1265.7 889.4 L1267.7 887.9 L1269.8 886.7 L1271.8 885.2 L1273.8 884.3 L1275.8 882.8 L1277.8 880.1 L1280.1 867.0 L1282.4 852.6 L1284.7 839.5 L1287.0 826.4 L1289.3 813.3 L1291.3 808.9 L1293.4 803.2 L1295.5 797.5 L1297.5 791.8 L1299.5 798.6 L1301.6 804.3 L1303.7 808.8 L1305.7 814.5 L1309.0 943.4 L1311.0 944.4 L1313.1 944.8 L1315.2 943.5 L1317.2 943.9 L1319.2 942.2 L1321.3 942.6 L1323.4 943.4 L1325.4 943.9 L1327.5 947.6 L1329.5 951.8 L1331.6 959.8 L1333.7 963.9 L1335.7 964.9 L1337.8 969.0 L1339.8 975.8 L1341.9 979.9 L1343.9 979.9 L1345.9 979.1 L1348.0 979.1 L1350.0 980.5 L1352.0 980.5 L1354.0 979.6 L1356.1 979.6 L1358.1 978.2 L1360.1 978.2 L1362.1 978.0 L1364.2 978.0 L1366.2 978.4 L1368.2 978.4 L1370.2 978.5 L1372.2 978.5 L1374.3 977.6 L1376.3 977.6 L1378.3 978.3 L1380.3 978.3 L1382.4 980.4 L1384.4 980.4 L1386.4 976.1 L1388.4 976.1 L1390.5 978.6 L1392.5 978.6 L1394.5 977.1 L1396.6 976.4 L1398.7 977.1 L1400.7 976.4 L1402.8 976.6 L1404.9 975.9 L1407.0 975.2 L1409.1 973.3 L1411.1 972.6 L1413.2 973.0 L1415.3 972.3 L1417.4 968.5 L1419.4 967.8 L1421.5 970.6 L1423.6 969.9 L1425.7 967.0 L1427.8 966.3 L1429.8 967.2 L1431.9 966.5 L1434.0 965.2 L1436.2 966.4 L1438.3 963.9 L1440.5 965.0 L1442.7 968.5 L1444.8 970.9 L1447.0 972.0 L1449.1 974.3 L1451.2 974.9 L1453.3 973.9 L1455.4 974.5 L1457.5 975.0 L1459.5 975.6 L1461.6 974.1 L1463.7 974.7 L1465.8 979.0 L1467.9 979.6 L1470.0 980.2 L1472.6 912.3 L1473.4 845.3 L1474.2 912.3 L1476.0 998.3 L1478.0 998.3 L1480.0 998.0 L1482.0 998.0 L1484.0 996.2 L1486.0 996.2 L1488.0 999.4 L1490.0 999.4 L1492.0 1001.8 L1494.0 1001.8 L1496.0 999.2 L1498.0 999.2 L1500.0 999.9 L1502.0 999.9 L1504.0 998.9 L1506.0 998.9 L1508.0 996.9 L1510.0 996.8 L1512.0 996.8 L1514.0 999.8 L1516.0 999.7 L1518.0 996.3 L1520.0 996.3 L1522.0 997.6 L1524.0 997.5 L1526.0 998.1 L1528.0 998.1 L1530.0 998.8 L1532.0 998.8 L1534.0 998.2 L1536.0 998.1 L1538.0 998.0 L1540.0 998.0 L1542.0 996.5 L1544.0 996.4 L1546.0 995.7 L1548.0 995.7 L1550.0 997.4 L1552.0 997.3 L1554.0 997.3 L1556.0 996.2 L1558.0 996.2 L1560.0 995.4 L1562.0 995.3 L1564.0 995.4 L1566.0 995.3 L1568.0 996.3 L1570.0 996.2 L1572.0 994.4 L1574.0 994.4 L1576.0 995.0 L1578.0 995.0 L1580.0 994.6 L1582.0 994.5 L1584.0 996.8 L1586.0 996.8 L1588.0 997.0 L1590.0 997.0 L1592.0 999.0 L1594.0 999.0 L1596.0 999.0 L1598.0 994.4 L1600.0 994.3 L1602.0 995.3 L1604.0 995.3 L1606.0 997.3 L1608.0 997.3 L1610.0 995.8 L1612.0 995.7 L1614.0 995.6 L1616.0 995.5 L1618.0 998.1 L1620.0 998.1 L1622.0 995.4 L1624.0 995.3 L1626.0 994.2 L1628.0 994.2 L1630.0 994.0 L1632.0 993.9 L1634.0 996.0 L1636.0 996.0 L1638.0 995.9 L1640.0 995.9 L1642.0 995.8 L1644.0 993.6 L1646.0 993.6 L1648.0 994.0 L1650.0 994.0 L1652.0 995.9 L1654.0 995.9 L1656.0 995.9 L1658.0 995.8 L1660.0 994.2 L1662.0 994.2 L1664.0 995.8 L1666.0 995.7 L1668.0 995.6 L1670.0 995.6 L1672.0 992.5 L1674.0 992.5 L1676.0 994.3 L1678.0 994.3 L1680.0 994.2 L1682.0 995.1 L1684.0 995.1 L1686.0 993.8 L1688.0 993.7 L1690.0 991.7 L1692.0 991.6 L1694.0 994.0 L1696.0 994.0 L1698.0 995.3 L1700.0 995.2 L1702.0 996.3 L1704.0 996.2 L1706.0 991.3 L1708.0 991.2 L1710.0 997.4 L1712.0 997.4 L1714.0 992.5 L1716.0 992.5 L1718.0 995.1 L1720.0 995.1 L1722.0 995.0 L1724.0 995.4 L1726.0 995.3 L1728.0 995.0 L1730.0 994.9 L1732.0 993.8 L1734.0 993.7 L1736.0 992.0 L1738.0 992.0 L1740.0 994.2 L1742.0 994.2 L1744.0 992.4 L1746.0 992.4 L1748.0 990.0 L1750.0 989.9 L1752.0 996.9 L1754.0 996.8 L1756.0 994.0 L1758.0 994.0 L1760.0 995.4 L1762.0 995.3 L1764.0 995.3 L1766.0 991.7 L1768.0 991.7 L1770.0 994.7 L1772.0 994.7 L1774.0 994.8 L1776.0 994.8 L1778.0 994.7 L1780.0 994.6 L1782.0 992.6 L1784.0 992.5 L1786.0 990.9 L1788.0 990.9 L1790.0 992.2 L1792.0 992.1 L1794.0 989.5 L1796.0 989.4 L1798.0 990.0 L1800.0 990.0 L1802.0 992.3 L1804.0 992.3 L1806.0 992.2 L1808.0 990.8 L1810.0 990.7 L1812.0 991.8 L1814.0 991.7 L1816.0 991.7 L1818.0 991.7 L1820.0 994.3 L1822.0 994.3 L1824.0 993.4 L1826.0 993.4 L1828.0 991.6 L1830.0 991.5 L1832.0 993.1 L1834.0 993.1 L1836.0 990.5 L1838.0 990.4 L1840.0 991.0 L1842.0 990.9 L1844.0 992.5 L1846.0 992.5 L1848.0 992.4 L1850.0 989.6 L1852.0 989.5 L1854.0 990.7 L1856.0 990.7 L1858.0 989.2 L1860.0 989.2 L1862.0 991.0 L1864.0 990.9 L1866.1 992.8 L1868.1 992.8 L1870.1 989.6 L1872.1 989.6 L1874.1 990.8 L1876.1 990.7 L1878.1 989.2 L1880.1 989.1 L1882.1 988.7 L1884.1 988.7 L1886.1 988.5 L1888.1 988.5 L1890.1 991.9 L1892.1 991.8 L1894.1 991.8 L1896.1 992.9 L1898.2 992.8 L1900.2 990.3 L1902.2 990.3 L1904.2 988.7 L1906.2 988.6 L1908.2 990.4 L1910.2 990.3 L1912.2 988.9 L1914.2 988.9 L1916.2 990.3 L1918.2 990.2 L1920.2 989.5 L1922.2 989.4 L1924.2 989.4 L1926.2 989.3 L1928.3 989.7 L1930.3 989.6 L1932.3 988.0 L1934.3 987.9 L1936.3 988.1 L1938.3 988.0 L1940.3 988.0 L1942.3 986.2 L1944.3 986.2 L1946.3 987.8 L1948.3 987.7 L1950.3 986.4 L1952.3 986.3 L1954.3 987.9 L1956.3 987.8 L1958.4 986.7 L1960.4 986.7 L1962.4 988.0 L1964.4 987.9 L1966.4 988.3 L1968.4 988.3 L1970.4 985.8 L1972.4 985.7 L1974.4 986.4 L1976.4 986.4 L1978.4 986.2 L1980.4 986.1 L1982.4 988.2 L1984.4 988.2 L1986.4 988.1 L1988.4 989.3 L1990.5 989.2 L1992.5 988.1 L1994.5 988.0 L1996.5 986.4 L1998.5 986.3 L2000.5 988.6 L2002.5 988.6 L2004.5 984.6 L2006.5 984.5 L2008.5 988.2 L2010.5 988.0 L2012.5 985.1 L2014.5 984.9 L2016.5 982.0 L2018.5 981.8 L2020.5 988.7 L2022.5 988.5 L2024.5 986.9 L2026.5 986.8 L2028.5 986.6 L2030.5 983.0 L2032.6 982.8 L2034.6 984.2 L2036.6 984.1 L2038.6 983.4 L2040.6 983.2 L2042.6 983.5 L2044.6 983.3 L2046.6 981.1 L2048.6 980.9 L2050.6 981.8 L2052.6 981.6 L2054.6 982.9 L2056.6 982.7 L2058.6 982.2 L2060.6 982.1 L2062.6 983.2 L2064.6 983.0 L2066.6 981.4 L2068.6 981.2 L2070.6 984.0 L2072.6 983.8 L2074.6 983.6 L2076.6 979.5 L2078.6 979.3 L2080.6 980.4 L2082.6 980.2 L2084.6 977.2 L2086.7 977.0 L2088.7 977.7 L2090.7 977.6 L2092.7 980.7 L2094.7 980.6 L2096.7 977.5 L2098.7 977.3 L2100.7 979.0 L2102.7 978.9 L2104.7 977.9 L2106.7 977.7 L2108.7 976.3 L2110.7 976.1 L2112.7 976.8 L2114.8 974.3 L2116.9 971.6 L2119.1 969.1 L2121.2 966.6 L2123.3 964.1 L2125.4 963.2 L2127.6 960.7 L2129.7 958.0 L2131.9 963.3 L2134.0 967.0 L2136.2 972.2 L2138.3 977.1 L2140.5 982.3 L2142.6 983.4 L2144.6 983.0 L2146.7 982.0 L2148.7 981.6 L2150.8 982.6 L2152.8 982.2 L2154.9 983.9 L2157.0 983.4 L2159.0 980.6 L2161.1 980.2 L2163.1 978.6 L2165.2 978.1 L2167.2 977.5 L2169.3 977.1 L2171.4 976.6 L2173.4 975.3 L2175.5 974.9 L2177.5 974.3 L2179.6 973.9 L2181.6 973.3 L2183.7 972.9 L2185.8 967.1 L2187.9 960.6 L2190.1 954.0 L2192.2 947.4 L2194.3 942.4 L2196.4 935.8 L2198.6 927.7 L2200.7 921.2 L2203.3 950.2 L2205.9 977.6 L2208.5 1006.4 L2210.5 1010.2 L2212.5 1010.3 L2214.5 1008.9 L2216.5 1009.0 L2218.5 1010.8 L2220.5 1010.9 L2222.5 1009.7 L2224.5 1009.7 L2226.5 1010.7 L2228.5 1010.8 L2230.5 1008.7 L2232.5 1008.7 L2234.5 1010.1 L2236.5 1010.2 L2238.5 1010.3 L2240.5 1012.9 L2242.5 1013.0 L2244.5 1008.0 L2246.6 1008.1 L2248.6 1011.3 L2250.6 1011.4 L2252.6 1012.2 L2254.6 1012.3 L2256.6 1010.7 L2258.6 1010.8 L2260.6 1011.3 L2262.6 1011.4 L2264.6 1012.2 L2266.6 1012.3 L2268.6 1009.8 L2270.6 1009.9 L2272.6 1011.4 L2274.6 1011.5 L2276.6 1009.9 L2278.6 1010.0 L2280.6 1010.1 L2282.6 1010.4 L2284.6 1008.7 L2286.7 1007.1 L2288.7 1005.4 L2290.7 1004.4 L2292.8 1002.7 L2294.8 1001.4 L2296.9 999.7 L2298.9 998.4 L2300.9 996.8 L2303.0 992.6 L2305.0 990.9" fill="none" stroke="#1a1a1a" stroke-width="4.6" stroke-linejoin="round" stroke-linecap="round" />
<path d="M180.5 672.5 L182.7 673.5 L184.8 673.6 L187.0 675.2 L189.2 677.1 L191.3 678.7 L193.5 681.1 L195.7 682.6 L197.8 684.0 L200.0 685.5 L202.0 684.0 L204.0 685.2 L206.0 689.6 L208.0 690.8 L210.0 692.0 L212.0 696.1 L214.0 697.3 L216.0 692.1 L218.0 693.3 L220.0 698.3 L222.0 699.5 L224.0 699.9 L226.0 701.1 L228.0 701.7 L230.0 702.9 L232.0 705.8 L234.0 706.7 L236.0 704.3 L238.0 705.2 L240.0 708.0 L242.0 708.9 L244.0 711.6 L246.0 712.6 L248.0 711.3 L250.0 712.2 L252.0 713.2 L254.0 713.8 L256.0 714.8 L258.0 716.5 L260.0 717.4 L262.0 717.6 L264.0 718.6 L266.0 722.2 L268.0 723.1 L270.0 720.8 L272.0 721.1 L274.0 723.8 L276.0 724.2 L278.0 721.7 L280.0 722.0 L282.0 724.9 L284.0 725.2 L286.0 724.5 L288.0 724.9 L290.0 721.9 L292.0 722.2 L294.0 722.5 L296.0 726.3 L298.0 726.7 L300.0 725.6 L302.0 725.9 L304.0 727.1 L306.0 727.4 L308.0 730.4 L310.0 730.7 L312.0 727.5 L314.0 727.4 L316.0 727.5 L318.0 727.4 L320.1 730.7 L322.1 730.6 L324.1 728.8 L326.1 728.7 L328.1 730.5 L330.1 730.5 L332.1 728.8 L334.2 728.7 L336.2 727.1 L338.2 727.0 L340.2 728.0 L342.2 728.0 L344.2 727.9 L346.3 729.6 L348.3 729.5 L350.3 729.0 L352.3 729.0 L354.3 727.7 L356.3 727.6 L358.3 727.6 L360.4 727.5 L362.4 727.3 L364.4 727.2 L366.4 726.5 L368.4 726.4 L370.4 729.7 L372.4 729.7 L374.5 727.0 L376.5 727.0 L378.5 725.4 L380.5 725.3 L382.5 726.1 L384.5 726.1 L386.6 727.6 L388.6 727.5 L390.6 727.5 L392.6 727.3 L394.6 727.2 L396.6 726.1 L398.6 726.1 L400.7 725.3 L402.7 725.2 L404.7 726.1 L406.7 726.0 L408.7 723.4 L410.8 723.1 L412.8 723.2 L414.8 722.9 L416.8 725.3 L418.9 725.0 L420.9 722.9 L422.9 722.6 L425.0 723.4 L427.0 723.0 L429.0 723.8 L431.0 723.5 L433.1 722.3 L435.1 722.0 L437.1 720.8 L439.2 720.5 L441.2 722.9 L443.2 722.6 L445.2 720.3 L447.3 719.9 L449.3 719.6 L451.3 717.9 L453.4 717.5 L455.4 718.6 L457.4 718.3 L459.4 717.5 L461.5 717.2 L463.5 715.1 L465.5 714.8 L467.5 715.7 L469.6 715.3 L471.6 714.6 L473.6 714.3 L475.7 711.5 L477.7 711.2 L479.7 713.2 L481.7 712.9 L483.8 712.4 L485.8 712.1 L487.8 711.5 L489.9 711.2 L491.9 709.2 L493.9 708.8 L495.9 710.2 L498.0 709.9 L500.0 709.9 L502.0 709.4 L504.0 709.1 L506.1 708.6 L508.1 708.1 L510.1 705.9 L512.1 705.4 L514.2 707.2 L516.2 706.7 L518.2 703.7 L520.2 703.2 L522.2 704.0 L524.3 703.5 L526.3 705.0 L528.3 704.5 L530.3 701.3 L532.4 700.8 L534.4 700.5 L536.4 700.0 L538.4 701.6 L540.4 701.1 L542.5 698.6 L544.5 698.1 L546.5 697.7 L548.5 697.2 L550.6 697.4 L552.6 696.8 L554.6 697.4 L556.6 696.9 L558.6 692.0 L560.7 691.5 L562.7 691.0 L564.7 692.3 L566.7 691.8 L568.8 691.1 L570.8 690.5 L572.8 689.9 L574.8 689.4 L576.8 689.2 L578.9 688.7 L580.9 688.2 L582.9 687.7 L584.9 688.7 L587.0 688.1 L589.0 686.0 L591.0 685.5 L593.0 686.3 L595.1 685.6 L597.1 685.4 L599.2 684.8 L601.2 682.7 L603.2 682.1 L605.3 682.6 L607.3 682.0 L609.4 683.4 L611.4 682.8 L613.5 680.4 L615.5 679.8 L617.5 677.9 L619.6 677.3 L621.6 677.4 L623.7 676.8 L625.7 676.2 L627.8 674.5 L629.8 673.8 L631.8 674.8 L633.9 674.2 L635.9 674.4 L638.0 673.8 L640.0 670.9 L642.1 670.1 L644.1 670.2 L646.2 669.4 L648.3 670.4 L650.3 669.6 L652.4 666.7 L654.5 665.9 L656.5 666.1 L658.6 665.3 L660.7 662.9 L662.8 662.1 L664.8 661.6 L666.9 660.9 L669.0 660.5 L671.0 659.7 L673.1 662.5 L675.2 661.7 L677.2 657.6 L679.3 656.8 L681.4 655.9 L683.4 655.1 L685.5 654.3 L687.6 652.1 L689.6 650.5 L691.7 648.4 L693.8 647.3 L695.9 645.1 L697.9 642.4 L700.0 640.2 L702.0 637.3 L704.0 631.9 L706.0 624.2 L708.0 618.8 L710.0 615.0 L712.0 609.7 L714.2 611.9 L716.3 615.6 L718.5 619.7 L720.7 623.4 L722.8 624.4 L725.0 628.1 L727.2 634.8 L729.3 639.8 L731.5 644.9 L733.7 649.9 L735.8 654.7 L738.0 659.7 L740.0 657.9 L742.0 658.6 L744.0 663.2 L746.0 663.9 L748.0 663.0 L750.0 663.7 L752.0 664.3 L754.0 665.0 L756.2 658.9 L758.5 652.5 L760.8 646.1 L763.0 639.7 L765.2 634.2 L767.5 627.9 L769.7 619.3 L771.8 625.3 L773.9 631.8 L775.9 637.8 L778.0 645.4 L780.1 647.4 L782.1 649.3 L784.2 651.4 L786.2 652.8 L788.3 654.8 L790.4 656.6 L792.4 658.7 L794.5 660.4 L796.5 662.5 L798.6 665.5 L800.7 665.0 L802.9 666.0 L805.0 665.5 L807.2 662.0 L809.3 661.4 L811.4 664.2 L813.6 663.7 L815.7 662.2 L817.9 661.7 L820.0 659.4 L822.0 658.5 L824.0 659.2 L826.0 658.3 L828.0 654.5 L830.0 653.6 L832.0 652.3 L834.0 651.4 L836.0 651.1 L838.0 650.2 L840.0 649.3 L842.0 649.5 L844.0 648.6 L846.0 647.8 L848.0 646.9 L850.0 645.7 L852.0 644.8 L854.0 644.7 L856.0 643.0 L858.0 638.3 L860.0 636.6 L862.0 638.2 L864.0 636.5 L866.0 632.2 L868.0 630.5 L870.0 629.7 L872.0 627.9 L874.0 626.5 L876.0 624.8 L878.0 622.0 L880.0 620.3 L882.0 618.5 L884.0 616.5 L886.0 614.7 L888.0 613.4 L890.0 611.7 L892.1 612.1 L894.2 611.3 L896.2 611.2 L898.3 610.4 L900.4 609.5 L902.5 608.7 L904.5 605.8 L906.6 605.0 L908.7 604.4 L911.5 585.5 L914.3 566.8 L918.0 531.3 L920.3 529.9 L922.6 531.8 L925.0 537.9 L927.3 539.8 L929.6 521.7 L932.0 505.8 L934.4 536.2 L936.7 568.4 L939.5 605.8 L941.9 588.0 L944.2 569.3 L947.0 540.4 L949.8 513.4 L952.1 515.3 L954.4 516.0 L958.0 451.6 L960.0 413.6 L963.0 413.6 L965.0 601.6 L967.0 737.9 L969.1 737.9 L971.1 740.0 L973.2 740.1 L975.4 739.3 L977.5 740.3 L979.7 741.1 L981.8 739.5 L983.9 736.6 L985.9 735.1 L988.0 734.3 L990.1 732.7 L992.2 732.5 L994.2 730.9 L996.3 726.6 L998.4 725.0 L1000.5 726.0 L1002.5 724.4 L1004.6 722.5 L1006.8 722.4 L1008.9 722.3 L1011.1 722.3 L1013.2 719.1 L1015.4 719.1 L1017.5 721.8 L1019.7 721.8 L1021.9 723.3 L1024.1 723.8 L1026.3 722.5 L1028.5 723.1 L1030.6 724.7 L1032.8 725.3 L1035.0 722.6 L1037.2 723.2 L1039.4 727.7 L1041.6 725.0 L1043.8 724.1 L1046.0 725.2 L1048.2 724.3 L1050.4 719.8 L1052.6 718.9 L1054.8 721.3 L1057.0 720.4 L1059.2 718.3 L1061.4 715.0 L1063.6 713.1 L1065.8 709.8 L1068.0 704.2 L1070.1 701.0 L1072.3 698.1 L1074.5 694.8 L1076.7 695.2 L1078.9 691.9 L1081.4 689.2 L1083.8 690.6 L1086.3 691.8 L1088.8 693.6 L1091.2 703.9 L1093.7 713.2 L1096.1 723.4 L1098.6 736.5 L1100.7 738.9 L1102.7 740.5 L1104.8 739.0 L1106.8 740.7 L1108.9 741.0 L1110.9 742.6 L1113.0 744.3 L1115.0 749.7 L1117.1 751.3 L1119.2 752.9 L1121.2 754.5 L1123.3 755.8 L1125.3 757.4 L1127.4 759.5 L1129.4 761.2 L1131.5 760.2 L1133.6 759.3 L1135.7 759.3 L1137.8 758.4 L1139.9 755.9 L1142.0 755.0 L1144.0 754.1 L1146.1 753.2 L1148.2 755.4 L1150.3 754.6 L1152.4 751.5 L1154.5 750.6 L1156.7 751.2 L1158.9 747.9 L1161.1 741.7 L1163.3 738.4 L1165.4 734.2 L1167.6 732.8 L1169.8 729.5 L1172.0 727.5 L1174.2 724.2 L1176.7 714.7 L1179.1 706.9 L1181.5 696.8 L1184.0 689.0 L1186.2 697.4 L1188.4 703.7 L1190.6 711.3 L1192.8 717.7 L1195.0 721.5 L1197.2 727.5 L1199.4 736.2 L1201.6 747.3 L1203.8 756.1 L1206.0 763.7 L1208.2 772.4 L1210.4 779.6 L1212.6 782.9 L1214.8 787.1 L1216.9 790.4 L1219.1 793.2 L1221.3 796.5 L1223.5 801.1 L1225.6 804.4 L1227.8 807.5 L1230.0 810.7 L1232.0 811.6 L1234.1 811.1 L1236.1 810.0 L1238.1 809.5 L1240.2 806.0 L1242.2 805.5 L1244.2 807.6 L1246.2 807.1 L1248.3 807.2 L1250.3 806.7 L1252.3 805.6 L1254.4 805.1 L1256.4 805.3 L1258.5 804.0 L1260.7 800.7 L1262.8 799.4 L1265.0 797.6 L1267.1 796.3 L1269.2 797.4 L1271.4 796.1 L1273.5 792.2 L1275.7 790.9 L1277.8 788.2 L1280.1 778.3 L1282.4 772.6 L1284.7 762.7 L1287.0 750.5 L1289.3 740.7 L1291.3 733.0 L1293.4 724.8 L1295.5 715.1 L1297.5 706.9 L1299.7 713.6 L1301.8 720.2 L1304.0 727.0 L1306.2 764.2 L1308.4 802.4 L1310.6 840.5 L1312.7 840.3 L1314.8 836.6 L1316.9 836.4 L1319.1 840.2 L1321.2 840.0 L1323.3 837.3 L1325.4 837.1 L1327.5 841.1 L1329.5 845.0 L1331.6 851.2 L1333.7 855.1 L1335.7 858.0 L1337.8 861.9 L1339.8 863.9 L1341.9 867.8 L1343.9 867.7 L1345.9 872.1 L1348.0 872.0 L1350.0 868.4 L1352.0 868.3 L1354.0 869.7 L1356.1 869.6 L1358.1 869.5 L1360.1 869.4 L1362.1 870.9 L1364.2 870.9 L1366.2 868.4 L1368.2 868.3 L1370.2 870.1 L1372.2 870.1 L1374.3 867.7 L1376.3 867.7 L1378.3 870.0 L1380.3 869.9 L1382.4 867.4 L1384.4 867.4 L1386.4 867.8 L1388.4 867.7 L1390.5 870.6 L1392.5 870.5 L1394.5 868.4 L1396.6 868.0 L1398.7 867.3 L1400.7 866.9 L1402.8 869.2 L1404.9 868.8 L1407.0 868.4 L1409.1 865.5 L1411.1 865.1 L1413.2 863.1 L1415.3 862.7 L1417.4 864.3 L1419.4 863.9 L1421.5 861.0 L1423.6 860.6 L1425.7 863.2 L1427.8 862.7 L1429.8 862.4 L1431.9 862.0 L1434.0 859.3 L1436.0 860.7 L1438.1 862.1 L1440.2 863.5 L1442.2 866.0 L1444.2 867.4 L1446.3 868.6 L1448.4 870.1 L1450.4 870.2 L1452.6 870.4 L1454.8 872.6 L1456.9 872.7 L1459.1 869.5 L1461.3 869.7 L1463.5 871.9 L1465.6 872.1 L1467.8 872.3 L1470.0 872.5 L1472.6 799.6 L1473.4 733.6 L1474.2 799.6 L1476.0 888.4 L1478.0 888.4 L1480.0 886.4 L1482.0 886.4 L1484.0 888.8 L1486.0 888.8 L1488.0 887.8 L1490.0 887.8 L1492.0 887.2 L1494.0 887.2 L1496.0 886.2 L1498.0 886.2 L1500.0 886.5 L1502.0 886.4 L1504.0 888.4 L1506.0 888.4 L1508.0 886.6 L1510.0 886.6 L1512.0 886.5 L1514.0 887.8 L1516.0 887.8 L1518.0 889.0 L1520.0 889.0 L1522.0 888.9 L1524.0 888.9 L1526.0 889.5 L1528.0 889.5 L1530.0 887.1 L1532.0 887.0 L1534.0 886.0 L1536.0 885.9 L1538.0 888.6 L1540.0 888.6 L1542.0 887.6 L1544.0 887.6 L1546.0 888.6 L1548.0 888.6 L1550.0 887.1 L1552.0 887.0 L1554.0 887.0 L1556.0 888.5 L1558.0 888.5 L1560.0 888.0 L1562.0 887.9 L1564.0 887.7 L1566.0 887.7 L1568.0 887.4 L1570.0 887.4 L1572.0 887.2 L1574.0 887.1 L1576.0 886.9 L1578.0 886.9 L1580.0 886.8 L1582.0 886.8 L1584.0 887.7 L1586.0 887.7 L1588.0 885.7 L1590.0 885.7 L1592.0 888.5 L1594.0 888.5 L1596.0 888.5 L1598.0 886.0 L1600.0 886.0 L1602.0 887.4 L1604.0 887.3 L1606.0 885.9 L1608.0 885.9 L1610.0 885.6 L1612.0 885.6 L1614.0 888.5 L1616.0 888.5 L1618.0 885.4 L1620.0 885.4 L1622.0 884.1 L1624.0 884.0 L1626.0 884.7 L1628.0 884.7 L1630.0 885.2 L1632.0 885.1 L1634.0 888.3 L1636.0 888.3 L1638.0 888.2 L1640.0 885.7 L1642.0 885.6 L1644.0 886.5 L1646.0 886.5 L1648.0 883.9 L1650.0 883.9 L1652.0 885.6 L1654.0 885.6 L1656.0 886.0 L1658.0 885.9 L1660.0 887.4 L1662.0 887.3 L1664.0 884.0 L1666.0 884.0 L1668.0 885.7 L1670.0 885.6 L1672.0 885.2 L1674.0 885.2 L1676.0 883.4 L1678.0 883.4 L1680.0 883.3 L1682.0 884.6 L1684.0 884.6 L1686.0 884.2 L1688.0 884.2 L1690.0 881.4 L1692.0 881.4 L1694.0 885.2 L1696.0 885.1 L1698.0 885.0 L1700.0 885.0 L1702.0 883.7 L1704.0 883.6 L1706.0 882.4 L1708.0 882.4 L1710.0 886.0 L1712.0 886.0 L1714.0 884.4 L1716.0 884.3 L1718.0 885.3 L1720.0 885.2 L1722.0 885.2 L1724.0 885.7 L1726.0 885.6 L1728.0 883.1 L1730.0 883.1 L1732.0 884.7 L1734.0 884.7 L1736.0 883.3 L1738.0 883.3 L1740.0 883.5 L1742.0 883.4 L1744.0 883.4 L1746.0 883.3 L1748.0 883.4 L1750.0 883.4 L1752.0 884.8 L1754.0 884.7 L1756.0 883.4 L1758.0 883.4 L1760.0 883.0 L1762.0 882.9 L1764.0 882.9 L1766.0 882.7 L1768.0 882.7 L1770.0 883.4 L1772.0 883.4 L1774.0 881.7 L1776.0 881.7 L1778.0 882.2 L1780.0 882.1 L1782.0 882.7 L1784.0 882.7 L1786.0 882.0 L1788.0 881.9 L1790.0 882.5 L1792.0 882.4 L1794.0 881.7 L1796.0 881.7 L1798.0 885.1 L1800.0 885.0 L1802.0 884.1 L1804.0 884.1 L1806.0 884.0 L1808.0 882.9 L1810.0 882.8 L1812.0 882.1 L1814.0 882.1 L1816.0 885.0 L1818.0 884.9 L1820.0 882.5 L1822.0 882.4 L1824.0 881.9 L1826.0 881.8 L1828.0 882.3 L1830.0 882.3 L1832.0 882.2 L1834.0 882.2 L1836.0 883.6 L1838.0 883.6 L1840.0 881.7 L1842.0 881.6 L1844.0 884.3 L1846.0 884.3 L1848.0 884.3 L1850.0 880.4 L1852.0 880.3 L1854.0 882.3 L1856.0 882.3 L1858.0 880.0 L1860.0 880.0 L1862.0 883.6 L1864.0 883.6 L1866.1 880.7 L1868.1 880.7 L1870.1 881.0 L1872.1 881.0 L1874.1 882.2 L1876.1 882.2 L1878.1 882.6 L1880.1 882.5 L1882.1 879.4 L1884.1 879.4 L1886.1 880.3 L1888.1 880.3 L1890.1 878.9 L1892.1 878.8 L1894.1 878.8 L1896.1 880.8 L1898.2 880.7 L1900.2 880.4 L1902.2 880.3 L1904.2 880.0 L1906.2 879.9 L1908.2 879.4 L1910.2 879.4 L1912.2 879.8 L1914.2 879.7 L1916.2 879.2 L1918.2 879.2 L1920.2 880.8 L1922.2 880.7 L1924.2 882.0 L1926.2 881.9 L1928.3 877.4 L1930.3 877.4 L1932.3 879.7 L1934.3 879.7 L1936.3 879.2 L1938.3 879.2 L1940.3 879.1 L1942.3 880.3 L1944.3 880.2 L1946.3 878.3 L1948.3 878.3 L1950.3 879.3 L1952.3 879.3 L1954.3 878.1 L1956.3 878.0 L1958.4 880.2 L1960.4 880.2 L1962.4 879.4 L1964.4 879.3 L1966.4 879.0 L1968.4 878.9 L1970.4 879.6 L1972.4 879.5 L1974.4 878.7 L1976.4 878.6 L1978.4 876.9 L1980.4 876.9 L1982.4 879.6 L1984.4 879.6 L1986.4 879.5 L1988.4 879.1 L1990.5 879.1 L1992.5 878.4 L1994.5 878.4 L1996.5 879.8 L1998.5 879.8 L2000.5 880.1 L2002.5 880.0 L2004.5 877.0 L2006.5 876.9 L2008.5 877.2 L2010.5 877.0 L2012.5 880.0 L2014.5 879.8 L2016.5 879.6 L2018.5 879.4 L2020.5 876.5 L2022.5 876.4 L2024.5 875.7 L2026.5 875.6 L2028.5 875.5 L2030.5 876.1 L2032.6 876.0 L2034.6 876.0 L2036.6 875.9 L2038.6 874.4 L2040.6 874.3 L2042.6 876.3 L2044.6 876.1 L2046.6 874.3 L2048.6 874.2 L2050.6 874.2 L2052.6 874.1 L2054.6 876.7 L2056.6 876.6 L2058.6 874.4 L2060.6 874.3 L2062.6 875.0 L2064.6 874.9 L2066.6 875.7 L2068.6 875.5 L2070.6 875.7 L2072.6 875.6 L2074.6 875.4 L2076.6 873.8 L2078.6 873.7 L2080.6 874.1 L2082.6 874.0 L2084.6 872.7 L2086.7 872.6 L2088.7 875.8 L2090.7 875.7 L2092.7 874.2 L2094.7 874.1 L2096.7 871.7 L2098.7 871.6 L2100.7 872.9 L2102.7 872.8 L2104.7 873.6 L2106.7 873.5 L2108.7 873.1 L2110.7 872.9 L2112.7 874.6 L2114.8 872.2 L2116.8 869.2 L2118.9 866.8 L2120.9 864.4 L2123.0 859.5 L2125.0 857.1 L2127.1 855.3 L2129.1 852.9 L2131.2 848.9 L2133.5 855.1 L2135.8 863.3 L2138.2 869.3 L2140.5 875.5 L2142.6 878.5 L2144.6 878.2 L2146.7 874.6 L2148.7 874.3 L2150.8 871.1 L2152.8 870.8 L2154.9 872.4 L2157.0 872.1 L2159.0 872.8 L2161.1 872.5 L2163.1 870.5 L2165.2 870.2 L2167.2 870.4 L2169.3 870.1 L2171.4 869.8 L2173.4 870.2 L2175.5 869.9 L2177.5 870.5 L2179.6 870.2 L2181.6 869.3 L2183.7 869.0 L2185.8 862.5 L2187.8 857.0 L2189.9 853.7 L2192.0 848.2 L2194.0 841.0 L2196.1 835.5 L2198.2 830.1 L2200.2 824.6 L2202.3 817.9 L2204.4 843.7 L2206.4 870.2 L2208.5 896.0 L2210.5 898.0 L2212.5 898.2 L2214.5 895.4 L2216.5 895.6 L2218.5 897.7 L2220.5 897.9 L2222.5 899.1 L2224.5 899.3 L2226.5 898.0 L2228.5 898.2 L2230.5 899.2 L2232.5 899.3 L2234.5 897.7 L2236.5 897.9 L2238.5 898.1 L2240.5 901.4 L2242.5 901.6 L2244.5 901.4 L2246.6 901.6 L2248.6 900.7 L2250.6 900.8 L2252.6 898.4 L2254.6 898.6 L2256.6 899.7 L2258.6 899.8 L2260.6 902.6 L2262.6 902.8 L2264.6 903.9 L2266.6 904.1 L2268.6 902.4 L2270.6 902.6 L2272.6 904.0 L2274.6 904.2 L2276.6 901.9 L2278.6 902.1 L2280.6 902.2 L2282.6 903.0 L2284.6 901.0 L2286.7 899.3 L2288.7 897.3 L2290.7 895.9 L2292.8 893.9 L2294.8 889.4 L2296.9 887.4 L2298.9 888.6 L2300.9 886.7 L2303.0 885.2 L2305.0 883.2" fill="none" stroke="#f01818" stroke-width="4.6" stroke-linejoin="round" stroke-linecap="round" />
<path d="M1463.7 974.7 L1465.8 979.0 L1467.9 979.6 L1470.0 980.2 L1472.6 912.3 L1473.4 845.3 L1474.2 912.3 L1476.0 998.3 L1478.0 998.3 L1480.0 998.0 L1482.0 998.0 L1484.0 996.2" fill="none" stroke="#1a1a1a" stroke-width="4.6" stroke-linejoin="round" stroke-linecap="round" />
<rect x="178.0" y="31.0" width="2129.0" height="1064.5" fill="none" stroke="#262626" stroke-width="6.5"/>
<line x1="2151.2" y1="1095.5" x2="2151.2" y2="1086.5" stroke="#262626" stroke-width="5"/>
<line x1="1993.3" y1="1095.5" x2="1993.3" y2="1076.5" stroke="#262626" stroke-width="5"/>
<line x1="1835.5" y1="1095.5" x2="1835.5" y2="1086.5" stroke="#262626" stroke-width="5"/>
<line x1="1677.7" y1="1095.5" x2="1677.7" y2="1076.5" stroke="#262626" stroke-width="5"/>
<line x1="1519.8" y1="1095.5" x2="1519.8" y2="1086.5" stroke="#262626" stroke-width="5"/>
<line x1="1362.0" y1="1095.5" x2="1362.0" y2="1076.5" stroke="#262626" stroke-width="5"/>
<line x1="1204.2" y1="1095.5" x2="1204.2" y2="1086.5" stroke="#262626" stroke-width="5"/>
<line x1="1046.4" y1="1095.5" x2="1046.4" y2="1076.5" stroke="#262626" stroke-width="5"/>
<line x1="888.5" y1="1095.5" x2="888.5" y2="1086.5" stroke="#262626" stroke-width="5"/>
<line x1="730.7" y1="1095.5" x2="730.7" y2="1076.5" stroke="#262626" stroke-width="5"/>
<line x1="572.9" y1="1095.5" x2="572.9" y2="1086.5" stroke="#262626" stroke-width="5"/>
<line x1="415.0" y1="1095.5" x2="415.0" y2="1076.5" stroke="#262626" stroke-width="5"/>
<line x1="257.2" y1="1095.5" x2="257.2" y2="1086.5" stroke="#262626" stroke-width="5"/>
<text x="2308.5" y="1158.0" font-family="'Liberation Sans', Arial, Helvetica, sans-serif" font-size="58" font-weight="bold" fill="#111" text-anchor="middle" >0</text>
<text x="1992.8" y="1158.0" font-family="'Liberation Sans', Arial, Helvetica, sans-serif" font-size="58" font-weight="bold" fill="#111" text-anchor="middle" >200</text>
<text x="1677.2" y="1158.0" font-family="'Liberation Sans', Arial, Helvetica, sans-serif" font-size="58" font-weight="bold" fill="#111" text-anchor="middle" >400</text>
<text x="1361.5" y="1158.0" font-family="'Liberation Sans', Arial, Helvetica, sans-serif" font-size="58" font-weight="bold" fill="#111" text-anchor="middle" >600</text>
<text x="1045.9" y="1158.0" font-family="'Liberation Sans', Arial, Helvetica, sans-serif" font-size="58" font-weight="bold" fill="#111" text-anchor="middle" >800</text>
<text x="730.2" y="1158.0" font-family="'Liberation Sans', Arial, Helvetica, sans-serif" font-size="58" font-weight="bold" fill="#111" text-anchor="middle" >1000</text>
<text x="414.5" y="1158.0" font-family="'Liberation Sans', Arial, Helvetica, sans-serif" font-size="58" font-weight="bold" fill="#111" text-anchor="middle" >1200</text>
<text x="1243.0" y="1259.0" font-family="'Liberation Sans', Arial, Helvetica, sans-serif" font-size="72.8" font-weight="bold" fill="#111" text-anchor="middle" >Binding Energy (eV)</text>
<text x="94.5" y="558.3" font-family="'Liberation Sans', Arial, Helvetica, sans-serif" font-size="72.6" font-weight="bold" fill="#111" text-anchor="middle" transform="rotate(-90 94.5 558.3)" >Relative Intensity (arb. Units)</text>
<text x="2290.5" y="116.0" font-family="'Liberation Sans', Arial, Helvetica, sans-serif" font-size="75.2" font-weight="normal" fill="#1a1a1a" text-anchor="end" >[Survey Scan Spectra]</text>
<text x="727.5" y="293.0" font-family="'Liberation Sans', Arial, Helvetica, sans-serif" font-size="56.5" font-weight="bold" fill="#16168a" text-anchor="start" transform="rotate(-90 727.5 293.0)" >Ni 2s</text>
<text x="805.5" y="317.0" font-family="'Liberation Sans', Arial, Helvetica, sans-serif" font-size="57.2" font-weight="normal" fill="#8a8a8a" text-anchor="start" transform="rotate(-90 805.5 317.0)" >O (KLL)</text>
<text x="943.5" y="197.0" font-family="'Liberation Sans', Arial, Helvetica, sans-serif" font-size="56.8" font-weight="bold" fill="#16168a" text-anchor="start" transform="rotate(-90 943.5 197.0)" >Ni 2p</text>
<text x="1236.0" y="372.0" font-family="'Liberation Sans', Arial, Helvetica, sans-serif" font-size="54.5" font-weight="bold" fill="#1f66dd" text-anchor="start" transform="rotate(-90 1236.0 372.0)" >Ni (LMM)</text>
<text x="1493.0" y="418.0" font-family="'Liberation Sans', Arial, Helvetica, sans-serif" font-size="55" font-weight="bold" fill="#111" text-anchor="start" transform="rotate(-90 1493.0 418.0)" >O 1s</text>
<text x="1949.0" y="609.5" font-family="'Liberation Sans', Arial, Helvetica, sans-serif" font-size="55.5" font-weight="bold" fill="#7f7f12" text-anchor="start" transform="rotate(-90 1949.0 609.5)" >C 1s</text>
<text x="2137.0" y="566.0" font-family="'Liberation Sans', Arial, Helvetica, sans-serif" font-size="55.5" font-weight="bold" fill="#16168a" text-anchor="start" transform="rotate(-90 2137.0 566.0)" >Ni 3s</text>
<text x="2219.5" y="538.5" font-family="'Liberation Sans', Arial, Helvetica, sans-serif" font-size="55.5" font-weight="bold" fill="#16168a" text-anchor="start" transform="rotate(-90 2219.5 538.5)" >Ni 3p</text>
<text x="2069.0" y="711.3" font-family="'Liberation Sans', Arial, Helvetica, sans-serif" font-size="55.5" font-weight="bold" fill="#138383" text-anchor="end" >10 mTorr</text>
<text x="2069.0" y="829.3" font-family="'Liberation Sans', Arial, Helvetica, sans-serif" font-size="55.5" font-weight="bold" fill="#1a1ae6" text-anchor="end" >5 mTorr</text>
<text x="2069.0" y="941.0" font-family="'Liberation Sans', Arial, Helvetica, sans-serif" font-size="55.5" font-weight="bold" fill="#e81c1c" text-anchor="end" >2 mTorr</text>
<text x="2080.0" y="1053.3" font-family="'Liberation Sans', Arial, Helvetica, sans-serif" font-size="56.5" font-weight="bold" fill="#111" text-anchor="end" >1 mTorr</text>
<line x1="491.5" y1="1408" x2="491.5" y2="3381" stroke="#b45a6c" stroke-width="4.5" stroke-dasharray="16 9 4 9 4 14"/>
<line x1="755.5" y1="1408" x2="755.5" y2="3381" stroke="#f060f0" stroke-width="4.5" stroke-dasharray="24 8 6 8"/>
<line x1="846.5" y1="1408" x2="846.5" y2="3381" stroke="#f7b060" stroke-width="5" stroke-dasharray="21 16"/>
<path d="M179.9 1744.7 L181.8 1746.3 L184.2 1744.6 L187.1 1744.0 L190.3 1741.2 L193.8 1744.3 L197.5 1742.7 L201.4 1741.0 L205.4 1743.2 L209.4 1739.9 L212.1 1738.1 L215.1 1737.3 L218.2 1737.4 L221.5 1735.1 L224.9 1734.5 L228.4 1734.9 L231.8 1733.9 L235.2 1731.8 L238.6 1731.0 L241.7 1732.7 L244.8 1731.0 L247.5 1730.3 L250.0 1729.8 L252.2 1729.1 L257.3 1729.2 L260.0 1730.7 L262.0 1733.7 L265.3 1733.0 L267.9 1733.2 L270.7 1735.8 L273.6 1732.7 L276.8 1733.6 L280.2 1731.9 L284.1 1732.3 L288.3 1731.8 L290.8 1730.7 L293.5 1730.4 L296.3 1726.3 L299.2 1724.5 L302.3 1723.4 L305.4 1720.9 L308.6 1718.4 L311.9 1716.2 L315.1 1713.5 L318.4 1712.9 L321.6 1708.6 L324.7 1708.8 L327.8 1706.9 L330.9 1705.0 L333.9 1702.3 L337.0 1700.0 L340.1 1697.6 L343.3 1695.7 L346.4 1697.8 L349.5 1692.1 L352.5 1693.7 L355.6 1692.0 L358.6 1689.1 L361.5 1686.3 L364.4 1683.9 L367.2 1682.4 L370.8 1683.3 L374.3 1682.6 L377.8 1678.0 L381.1 1677.5 L384.5 1677.9 L387.7 1676.7 L390.9 1674.7 L394.0 1675.6 L397.1 1671.3 L400.1 1671.4 L403.7 1669.8 L407.1 1666.1 L410.4 1668.7 L413.7 1663.8 L416.8 1660.5 L420.0 1658.8 L423.2 1659.5 L426.4 1657.3 L429.7 1657.3 L433.0 1651.6 L436.3 1648.9 L439.5 1645.6 L442.8 1643.1 L446.1 1641.2 L449.4 1636.6 L452.7 1635.7 L456.0 1633.6 L459.4 1632.5 L462.7 1630.8 L466.1 1630.7 L469.4 1630.2 L472.7 1628.6 L475.9 1627.9 L479.0 1629.5 L482.5 1624.5 L485.8 1625.3 L489.1 1622.4 L492.3 1618.6 L495.5 1616.5 L498.7 1614.3 L502.0 1614.5 L505.3 1616.2 L508.7 1618.5 L512.0 1620.6 L515.4 1623.6 L518.7 1627.6 L521.9 1628.4 L525.0 1631.5 L528.4 1630.8 L531.6 1631.6 L534.7 1635.0 L537.8 1634.9 L541.2 1635.4 L544.8 1639.2 L547.7 1641.3 L550.7 1643.3 L553.9 1642.0 L557.1 1648.5 L560.4 1649.9 L563.8 1653.2 L567.4 1659.3 L571.0 1663.8 L573.8 1662.1 L576.6 1664.8 L579.6 1666.7 L582.6 1668.3 L585.7 1670.9 L588.9 1673.1 L592.0 1674.9 L595.1 1677.4 L598.1 1676.3 L601.1 1680.9 L604.0 1679.4 L607.4 1681.2 L610.8 1684.4 L614.1 1687.3 L617.4 1688.5 L620.6 1688.0 L623.8 1689.3 L627.0 1690.5 L630.2 1691.2 L633.5 1691.6 L636.8 1692.5 L640.0 1691.4 L643.2 1687.1 L646.4 1687.4 L649.6 1685.5 L652.9 1683.0 L656.2 1680.3 L659.6 1677.5 L663.0 1675.8 L665.9 1672.0 L668.8 1669.7 L671.8 1666.7 L674.8 1663.2 L677.8 1661.3 L680.8 1653.5 L683.9 1649.9 L686.9 1650.2 L690.0 1644.7 L693.0 1641.1 L696.0 1636.6 L699.3 1632.5 L702.7 1627.2 L706.1 1624.5 L709.4 1619.5 L712.8 1616.4 L716.2 1609.5 L719.4 1605.1 L722.7 1604.3 L725.8 1599.0 L728.8 1594.7 L732.3 1590.0 L735.4 1586.3 L738.3 1582.7 L741.1 1579.1 L744.1 1576.8 L747.3 1573.9 L750.9 1571.7 L755.1 1568.6 L757.6 1565.6 L760.3 1565.6 L763.2 1564.3 L766.1 1562.2 L769.2 1562.3 L772.4 1563.1 L775.7 1561.9 L779.0 1559.3 L782.3 1556.9 L785.6 1554.1 L788.9 1553.1 L792.1 1551.5 L795.2 1550.1 L798.3 1551.5 L801.2 1548.1 L804.5 1547.0 L807.8 1544.6 L811.2 1541.1 L814.5 1539.2 L817.7 1537.9 L821.0 1532.5 L824.1 1530.1 L827.2 1527.5 L830.1 1524.5 L833.0 1524.3 L835.7 1522.6 L838.2 1519.0 L840.6 1518.0 L844.9 1517.4 L848.4 1518.3 L851.3 1520.6 L854.0 1526.3 L856.9 1533.4 L860.3 1534.7 L863.3 1539.6 L866.4 1547.6 L869.7 1553.0 L873.0 1558.2 L876.4 1566.6 L879.9 1574.5 L883.3 1582.9 L886.6 1591.0 L889.8 1603.4 L893.0 1608.8 L896.2 1622.1 L899.3 1633.1 L902.6 1644.3 L905.9 1654.5 L909.3 1666.5 L912.9 1678.3 L915.9 1686.9 L919.1 1694.8 L922.3 1704.0 L925.6 1713.2 L928.9 1718.7 L932.3 1731.7 L935.7 1740.3 L939.1 1749.6 L942.5 1756.1 L945.8 1763.9 L949.1 1768.5 L952.4 1777.5 L955.7 1784.8 L959.0 1791.0 L962.2 1798.2 L965.5 1806.7 L968.8 1810.8 L972.1 1817.6 L975.4 1823.2 L978.7 1826.2 L982.0 1833.0 L985.3 1837.6 L988.6 1840.6 L991.9 1844.2 L995.2 1847.5 L998.4 1853.7 L1001.7 1852.7 L1005.0 1855.5 L1008.3 1858.1 L1011.6 1860.3 L1014.8 1864.7 L1018.0 1867.5 L1021.0 1866.8 L1024.1 1866.7 L1027.2 1867.6 L1030.3 1868.8 L1033.6 1871.2 L1037.0 1869.3 L1040.6 1872.6 L1044.4 1872.9 L1047.0 1873.0 L1049.7 1871.4 L1052.3 1872.0 L1055.0 1871.8 L1057.8 1871.7 L1060.6 1872.3 L1063.4 1871.9 L1066.4 1868.4 L1069.5 1870.7 L1072.6 1868.4 L1075.9 1868.1 L1079.3 1867.3 L1082.8 1868.1 L1086.5 1867.6 L1090.4 1866.7 L1093.0 1866.0 L1095.7 1866.1 L1098.7 1867.1 L1101.8 1870.1 L1105.0 1870.9 L1108.4 1869.5 L1111.8 1869.8 L1115.3 1870.6 L1118.9 1868.9 L1122.4 1869.7 L1126.0 1870.4 L1129.6 1869.0 L1133.1 1869.4 L1136.5 1871.0 L1139.9 1871.3 L1143.2 1871.1 L1146.3 1870.5 L1149.3 1872.5 L1152.2 1872.0 L1154.8 1872.2 L1157.2 1874.0 L1159.4 1874.1 L1161.3 1873.1 L1163.0 1873.2" fill="none" stroke="#1f8f88" stroke-width="3.2" stroke-linejoin="round" stroke-linecap="round" />
<path d="M179.9 2229.8 L181.6 2229.1 L183.8 2228.8 L186.3 2227.8 L189.1 2227.7 L192.1 2228.6 L195.4 2228.1 L198.8 2227.5 L202.3 2227.7 L205.8 2223.6 L209.4 2224.6 L212.9 2224.0 L216.3 2224.2 L219.6 2223.7 L222.6 2222.5 L225.7 2221.9 L228.8 2223.0 L231.9 2222.6 L235.0 2221.5 L238.0 2219.5 L241.0 2222.1 L244.0 2221.7 L247.0 2220.8 L250.0 2218.5 L253.0 2219.6 L256.0 2219.0 L259.0 2216.3 L262.0 2217.8 L265.0 2215.2 L268.1 2213.5 L271.1 2212.4 L274.1 2211.7 L277.2 2210.0 L280.2 2209.9 L283.3 2208.6 L286.3 2207.2 L289.3 2205.7 L292.4 2203.5 L295.4 2202.1 L298.5 2197.0 L301.5 2200.1 L304.6 2196.3 L307.7 2194.8 L310.9 2195.8 L314.1 2195.3 L317.3 2192.6 L320.5 2190.2 L323.7 2188.6 L326.8 2187.2 L329.8 2185.7 L332.8 2183.7 L335.7 2182.2 L338.4 2180.8 L341.0 2179.2 L344.9 2180.0 L348.3 2177.0 L351.5 2175.7 L354.5 2175.7 L357.5 2173.1 L360.5 2172.2 L363.7 2170.8 L367.2 2168.8 L370.2 2168.0 L373.4 2166.8 L376.6 2164.4 L379.9 2162.5 L383.2 2159.6 L386.6 2157.5 L390.0 2158.5 L393.4 2154.2 L396.8 2152.3 L400.1 2152.5 L403.4 2150.6 L406.8 2148.2 L410.2 2145.6 L413.6 2142.6 L417.0 2144.0 L420.3 2139.7 L423.6 2137.7 L426.8 2135.8 L430.0 2132.9 L433.0 2129.3 L436.6 2126.6 L440.0 2125.6 L443.3 2122.5 L446.6 2119.3 L449.7 2115.4 L452.9 2111.4 L456.1 2108.5 L459.3 2106.3 L462.6 2105.8 L466.0 2103.0 L469.3 2104.6 L472.7 2103.9 L476.0 2103.1 L479.3 2104.3 L482.5 2101.2 L485.6 2098.7 L489.1 2097.3 L492.5 2093.1 L495.9 2092.1 L499.1 2094.6 L502.4 2094.5 L505.5 2095.6 L508.6 2095.5 L512.0 2096.6 L515.0 2098.2 L518.0 2099.9 L521.1 2103.0 L524.5 2106.8 L528.3 2106.7 L531.1 2108.8 L534.1 2111.9 L537.3 2113.3 L540.6 2119.5 L544.0 2122.2 L547.4 2124.5 L550.9 2126.6 L554.4 2127.0 L557.9 2131.2 L561.1 2133.1 L564.3 2135.9 L567.5 2138.4 L570.8 2140.5 L574.1 2143.9 L577.5 2145.2 L580.8 2149.0 L584.2 2150.5 L587.5 2152.5 L590.8 2153.6 L594.1 2155.5 L597.6 2156.6 L601.0 2159.4 L604.5 2159.3 L607.9 2160.4 L611.3 2162.1 L614.6 2162.2 L617.8 2161.7 L620.8 2165.4 L623.6 2166.2 L627.2 2165.0 L630.4 2168.2 L633.3 2168.9 L636.0 2169.8 L638.7 2167.7 L641.6 2168.5 L644.7 2168.4 L647.6 2167.3 L650.5 2165.5 L653.4 2163.3 L656.5 2163.5 L659.6 2161.0 L662.8 2157.0 L666.2 2154.6 L669.7 2150.2 L672.7 2148.0 L675.8 2144.6 L679.0 2139.6 L682.3 2136.5 L685.6 2133.2 L689.0 2128.3 L692.4 2123.4 L695.8 2119.1 L699.2 2114.1 L702.5 2111.4 L705.8 2107.4 L709.2 2102.2 L712.6 2097.1 L716.0 2092.5 L719.4 2089.5 L722.7 2087.3 L726.0 2079.6 L729.2 2076.2 L732.4 2072.4 L735.4 2069.0 L739.0 2061.6 L742.3 2061.5 L745.5 2057.6 L748.5 2057.4 L751.6 2054.9 L754.8 2050.5 L758.1 2047.3 L761.7 2045.2 L764.8 2043.4 L768.0 2041.2 L771.3 2038.0 L774.7 2036.4 L778.1 2032.6 L781.6 2031.7 L785.0 2030.6 L788.3 2029.7 L791.5 2027.3 L794.6 2023.3 L798.2 2019.5 L801.6 2017.0 L804.9 2013.1 L808.2 2010.1 L811.3 2006.5 L814.5 2002.5 L817.7 1998.3 L820.9 1996.5 L824.2 1994.7 L827.6 1993.1 L831.0 1992.1 L834.5 1991.1 L837.8 1989.5 L841.1 1988.1 L844.2 1990.6 L847.2 1992.1 L850.8 1993.3 L854.0 1999.5 L857.1 2004.2 L860.2 2008.0 L863.4 2015.1 L867.0 2026.5 L869.9 2034.2 L872.9 2041.5 L876.1 2052.5 L879.3 2062.2 L882.6 2072.8 L886.0 2080.0 L889.6 2094.1 L893.2 2105.1 L895.9 2114.2 L898.8 2124.0 L901.7 2134.9 L904.7 2143.6 L907.7 2154.6 L910.8 2165.7 L913.9 2176.3 L916.9 2187.0 L920.0 2197.9 L923.1 2207.5 L926.1 2214.7 L929.4 2224.2 L932.8 2234.7 L936.2 2242.1 L939.6 2250.0 L943.0 2257.9 L946.3 2262.2 L949.6 2270.2 L952.8 2276.7 L956.0 2282.6 L959.0 2288.7 L962.5 2294.1 L965.7 2301.1 L968.8 2304.4 L971.7 2308.4 L974.8 2312.0 L978.0 2315.2 L981.4 2319.2 L985.3 2321.0 L987.8 2323.0 L990.4 2326.9 L993.0 2327.9 L995.6 2329.7 L998.3 2331.1 L1001.1 2332.6 L1004.0 2334.7 L1007.0 2336.1 L1010.2 2338.1 L1013.5 2339.3 L1017.1 2339.8 L1020.8 2341.4 L1024.7 2341.4 L1027.3 2342.0 L1029.9 2343.8 L1032.6 2342.6 L1035.5 2342.9 L1038.4 2340.7 L1041.4 2345.0 L1044.4 2343.7 L1047.5 2343.9 L1050.7 2342.5 L1053.9 2343.7 L1057.1 2342.9 L1060.4 2346.6 L1063.7 2346.6 L1067.0 2344.7 L1070.4 2342.2 L1073.7 2344.8 L1077.1 2343.7 L1080.4 2346.6 L1083.8 2346.6 L1087.1 2343.2 L1090.4 2341.9 L1093.4 2344.8 L1096.4 2344.5 L1099.6 2344.6 L1102.9 2344.7 L1106.3 2342.8 L1109.8 2346.0 L1113.3 2347.7 L1116.8 2343.6 L1120.3 2347.4 L1123.8 2347.6 L1127.3 2345.7 L1130.8 2349.3 L1134.2 2347.2 L1137.5 2346.6 L1140.8 2348.3 L1143.9 2348.4 L1146.9 2347.9 L1149.8 2346.7 L1152.5 2348.4 L1155.0 2348.5 L1157.4 2347.1 L1159.5 2347.2 L1161.4 2345.8 L1163.0 2345.9" fill="none" stroke="#1f1ff0" stroke-width="3.2" stroke-linejoin="round" stroke-linecap="round" />
<path d="M179.9 2719.0 L181.9 2717.8 L184.5 2717.7 L187.7 2716.2 L191.2 2712.4 L194.9 2710.9 L198.7 2710.2 L202.5 2708.5 L206.1 2707.7 L209.4 2707.6 L212.8 2704.4 L216.0 2704.3 L219.2 2703.2 L222.3 2702.2 L225.5 2699.1 L228.7 2699.7 L232.1 2697.4 L235.7 2696.6 L238.7 2698.4 L241.9 2697.2 L245.1 2696.2 L248.4 2694.2 L251.7 2693.9 L255.1 2695.3 L258.5 2693.8 L261.9 2695.1 L265.3 2693.6 L268.6 2692.1 L271.9 2691.4 L275.1 2692.8 L278.3 2691.8 L281.4 2689.5 L284.6 2690.7 L287.9 2689.8 L291.1 2687.0 L294.5 2685.8 L297.9 2685.0 L301.5 2682.4 L304.3 2681.4 L307.1 2680.0 L310.0 2678.7 L313.0 2679.0 L315.9 2677.3 L318.9 2675.4 L322.0 2671.4 L325.0 2671.7 L328.2 2667.8 L331.3 2665.8 L334.5 2664.4 L337.7 2663.2 L341.0 2660.7 L343.9 2659.1 L346.9 2660.1 L350.0 2655.9 L353.1 2652.6 L356.3 2654.0 L359.6 2652.5 L362.8 2648.8 L366.0 2647.4 L369.2 2642.6 L372.4 2645.9 L375.5 2644.3 L378.5 2642.6 L381.5 2641.1 L384.3 2639.8 L387.0 2638.4 L390.8 2637.1 L394.4 2633.0 L397.8 2632.3 L401.1 2628.3 L404.2 2626.9 L407.3 2625.0 L410.4 2624.8 L413.4 2622.1 L416.6 2618.0 L419.8 2615.9 L423.1 2615.7 L426.4 2612.8 L429.7 2609.7 L433.0 2608.7 L436.2 2605.3 L439.5 2602.9 L442.8 2599.1 L446.1 2597.4 L449.4 2598.7 L452.7 2592.7 L456.0 2590.7 L459.2 2590.8 L462.5 2589.2 L465.7 2587.3 L468.9 2583.3 L472.2 2582.6 L475.5 2581.0 L478.8 2580.2 L482.2 2579.9 L485.6 2577.2 L488.5 2576.0 L491.6 2575.6 L494.7 2577.9 L497.9 2577.8 L501.1 2576.9 L504.3 2575.8 L507.4 2576.0 L510.5 2577.5 L513.5 2577.6 L516.4 2579.0 L519.1 2579.6 L521.7 2577.9 L525.7 2581.3 L529.2 2583.3 L532.3 2584.9 L535.4 2587.8 L538.4 2592.5 L541.5 2595.2 L544.8 2597.3 L547.9 2599.4 L551.0 2602.2 L554.1 2601.8 L557.3 2605.2 L560.5 2607.7 L563.9 2609.7 L567.4 2611.9 L571.0 2615.5 L574.0 2615.3 L577.2 2617.9 L580.4 2623.2 L583.7 2626.5 L587.0 2630.2 L590.4 2635.6 L593.8 2637.0 L597.2 2638.2 L600.6 2642.7 L603.9 2644.8 L607.2 2644.4 L610.6 2644.9 L614.0 2650.8 L617.4 2648.8 L620.8 2649.8 L624.1 2650.0 L627.4 2650.1 L630.6 2651.6 L633.8 2649.6 L636.8 2650.5 L640.3 2647.3 L643.7 2646.6 L646.8 2645.2 L649.9 2647.4 L653.0 2645.9 L656.1 2642.9 L659.4 2640.6 L663.0 2637.5 L665.7 2635.0 L668.6 2631.4 L671.5 2628.4 L674.5 2628.0 L677.6 2623.6 L680.6 2619.9 L683.7 2616.3 L686.8 2612.5 L689.9 2609.6 L693.0 2605.2 L696.0 2601.9 L699.3 2597.8 L702.7 2591.2 L706.1 2588.7 L709.4 2586.1 L712.8 2578.2 L716.2 2574.1 L719.4 2569.7 L722.7 2566.8 L725.8 2563.0 L728.8 2559.0 L732.3 2552.5 L735.5 2549.1 L738.6 2548.7 L741.5 2543.9 L744.6 2541.8 L747.7 2539.4 L751.2 2538.5 L755.1 2534.9 L757.7 2534.6 L760.6 2535.8 L763.6 2534.2 L766.7 2529.7 L769.9 2528.0 L773.2 2524.5 L776.5 2523.3 L779.8 2521.8 L783.0 2519.8 L786.1 2519.0 L789.1 2516.9 L792.0 2515.6 L794.6 2514.8 L798.6 2513.5 L802.3 2510.9 L805.7 2508.9 L809.0 2507.6 L812.1 2508.4 L815.1 2506.9 L818.0 2504.6 L820.9 2503.7 L824.6 2500.0 L828.0 2495.2 L831.2 2488.5 L834.3 2485.1 L837.4 2479.2 L840.6 2482.1 L843.9 2482.7 L847.2 2483.5 L850.5 2485.1 L853.7 2488.2 L857.0 2494.7 L860.3 2497.0 L863.6 2502.0 L866.9 2508.7 L870.1 2516.5 L873.4 2522.4 L876.7 2529.3 L880.0 2539.7 L882.8 2548.1 L885.5 2554.7 L888.1 2566.0 L890.9 2576.3 L893.7 2586.4 L896.6 2597.6 L899.8 2610.0 L902.1 2620.9 L904.5 2629.3 L907.0 2640.1 L909.5 2654.8 L912.1 2663.2 L914.8 2674.5 L917.5 2688.7 L920.3 2695.7 L923.2 2705.6 L926.1 2716.7 L929.1 2722.9 L932.2 2730.6 L935.3 2738.1 L938.5 2747.0 L941.7 2754.3 L945.1 2758.3 L948.4 2767.2 L951.9 2772.9 L955.4 2775.9 L959.0 2782.1 L961.8 2786.0 L964.5 2789.7 L967.2 2792.9 L970.0 2793.1 L972.8 2800.0 L975.6 2802.6 L978.5 2803.7 L981.5 2804.8 L984.6 2806.2 L987.8 2808.2 L991.2 2809.3 L994.7 2811.5 L998.4 2815.5 L1001.0 2815.5 L1003.6 2816.4 L1006.2 2816.3 L1008.8 2817.9 L1011.4 2818.6 L1014.1 2821.7 L1016.8 2820.0 L1019.6 2820.5 L1022.4 2820.6 L1025.4 2823.4 L1028.4 2822.7 L1031.5 2823.0 L1034.8 2822.8 L1038.2 2822.3 L1041.8 2821.5 L1045.5 2822.2 L1049.3 2823.4 L1053.4 2824.0 L1057.6 2825.0 L1060.0 2825.4 L1062.6 2825.6 L1065.3 2825.4 L1068.2 2825.6 L1071.2 2825.7 L1074.2 2824.4 L1077.4 2823.2 L1080.7 2825.3 L1084.0 2824.9 L1087.4 2825.0 L1090.9 2825.5 L1094.4 2826.0 L1097.9 2825.0 L1101.5 2825.3 L1105.1 2826.6 L1108.6 2826.9 L1112.2 2826.1 L1115.8 2826.2 L1119.3 2827.6 L1122.8 2826.9 L1126.2 2826.0 L1129.6 2827.3 L1132.9 2829.6 L1136.1 2826.6 L1139.2 2826.7 L1142.2 2828.9 L1145.1 2829.2 L1147.9 2829.3 L1150.6 2829.5 L1153.1 2826.8 L1155.4 2826.8 L1157.6 2830.3 L1159.6 2830.3 L1161.4 2828.1 L1163.0 2828.1" fill="none" stroke="#f01818" stroke-width="3.2" stroke-linejoin="round" stroke-linecap="round" />
<path d="M179.9 3186.0 L181.6 3186.6 L183.8 3186.1 L186.3 3184.8 L189.1 3183.9 L192.1 3184.9 L195.4 3184.1 L198.8 3180.9 L202.3 3179.7 L205.8 3181.0 L209.4 3180.1 L212.9 3179.8 L216.3 3176.4 L219.6 3175.7 L222.6 3177.7 L225.8 3176.3 L229.2 3177.2 L232.6 3172.9 L236.0 3174.0 L239.5 3173.3 L242.9 3172.1 L246.2 3170.0 L249.4 3170.5 L252.4 3172.2 L255.2 3171.8 L257.8 3169.6 L260.1 3169.0 L262.0 3168.9 L265.7 3174.4 L268.6 3176.2 L270.8 3175.1 L273.5 3173.5 L276.5 3169.4 L279.9 3167.1 L283.4 3165.5 L287.1 3164.2 L290.8 3159.6 L294.5 3156.9 L298.1 3156.5 L301.5 3155.3 L304.9 3150.2 L308.4 3146.6 L312.0 3144.9 L315.6 3144.6 L319.2 3143.5 L322.7 3142.9 L326.0 3142.3 L329.1 3139.8 L331.9 3138.3 L334.4 3136.2 L338.9 3133.5 L341.8 3128.6 L344.2 3126.5 L347.5 3123.7 L350.4 3121.6 L353.6 3124.6 L356.9 3121.5 L360.4 3118.6 L363.8 3117.6 L367.2 3116.0 L370.5 3114.7 L373.8 3110.8 L377.1 3109.3 L380.4 3106.8 L383.7 3104.6 L387.0 3105.1 L390.3 3103.0 L393.6 3102.9 L396.9 3103.0 L400.1 3103.8 L403.4 3103.8 L406.7 3103.9 L409.9 3101.1 L413.0 3099.0 L416.1 3092.6 L419.3 3088.0 L422.7 3085.8 L426.4 3081.3 L429.4 3078.9 L432.5 3074.6 L435.8 3073.0 L439.1 3072.3 L442.5 3073.3 L446.0 3072.7 L449.4 3069.8 L452.7 3068.9 L456.1 3065.9 L459.6 3064.2 L463.1 3062.6 L466.7 3060.6 L470.1 3060.9 L473.3 3058.5 L476.3 3056.2 L479.0 3054.5 L483.1 3050.6 L486.0 3047.4 L488.8 3043.7 L492.2 3040.6 L495.0 3040.8 L498.0 3045.0 L501.2 3045.0 L504.6 3046.9 L508.2 3051.0 L511.9 3053.3 L514.9 3054.5 L518.0 3055.2 L521.3 3058.1 L524.6 3058.5 L528.0 3061.2 L531.5 3063.4 L534.9 3063.5 L538.2 3069.5 L541.5 3067.1 L544.8 3071.3 L548.1 3070.3 L551.4 3071.1 L554.6 3071.8 L557.9 3073.9 L561.2 3076.0 L564.5 3078.5 L567.7 3081.4 L570.8 3086.4 L573.8 3088.8 L576.8 3093.7 L580.0 3097.9 L583.3 3100.2 L586.9 3105.4 L590.8 3107.6 L593.5 3108.3 L596.4 3109.9 L599.5 3111.0 L602.7 3112.0 L606.0 3113.1 L609.4 3114.1 L612.8 3113.6 L616.1 3113.9 L619.3 3114.4 L622.4 3116.7 L625.3 3114.2 L627.9 3114.7 L630.2 3116.5 L634.9 3120.5 L638.1 3116.7 L640.7 3120.1 L643.4 3120.4 L646.7 3121.3 L649.6 3117.3 L652.7 3120.8 L655.9 3118.8 L659.3 3110.1 L662.7 3112.2 L666.2 3109.3 L669.7 3105.1 L672.9 3100.4 L676.2 3097.4 L679.6 3093.3 L683.1 3087.5 L686.5 3085.2 L689.8 3078.4 L693.0 3075.1 L696.0 3072.4 L699.6 3066.9 L702.8 3058.8 L705.9 3054.1 L708.9 3049.2 L712.1 3042.0 L715.7 3036.7 L718.7 3035.8 L722.0 3030.9 L725.4 3024.7 L728.9 3022.7 L732.3 3018.1 L735.7 3014.5 L739.0 3011.2 L742.0 3008.9 L745.6 3003.9 L748.8 3002.1 L751.9 2998.6 L754.9 2993.4 L758.1 2992.6 L761.7 2988.9 L764.7 2988.6 L768.0 2987.6 L771.4 2985.2 L774.9 2984.7 L778.3 2983.5 L781.7 2985.0 L785.0 2984.7 L788.0 2985.0 L791.7 2983.3 L795.1 2980.3 L798.3 2976.8 L801.4 2973.9 L804.5 2972.2 L807.7 2969.8 L810.9 2966.5 L814.1 2965.1 L817.2 2961.2 L820.4 2956.0 L823.8 2953.5 L827.5 2952.1 L830.5 2953.6 L833.6 2951.3 L836.9 2949.8 L840.2 2951.0 L843.7 2951.2 L847.1 2950.3 L850.5 2952.5 L853.8 2955.6 L857.0 2958.4 L860.2 2967.4 L863.3 2973.8 L866.5 2978.8 L869.7 2987.8 L873.0 2996.8 L876.4 3008.6 L880.0 3018.5 L882.7 3027.3 L885.6 3037.1 L888.5 3045.6 L891.5 3056.6 L894.5 3070.0 L897.6 3080.0 L900.7 3093.9 L903.7 3105.5 L906.8 3116.8 L909.9 3127.0 L912.9 3139.5 L916.2 3148.1 L919.4 3158.4 L922.6 3168.5 L925.7 3177.8 L928.9 3186.9 L932.2 3197.5 L935.4 3206.3 L938.8 3214.9 L942.2 3220.0 L945.8 3230.3 L948.6 3235.1 L951.4 3240.3 L954.2 3245.8 L957.0 3249.9 L959.9 3254.5 L962.8 3256.7 L965.8 3260.8 L968.9 3268.2 L972.0 3271.8 L975.2 3273.3 L978.4 3274.4 L981.8 3279.4 L985.3 3281.2 L988.0 3281.2 L990.9 3282.8 L993.8 3283.7 L996.8 3285.7 L999.8 3286.8 L1002.9 3289.9 L1006.0 3290.3 L1009.1 3290.7 L1012.3 3291.9 L1015.5 3292.4 L1018.7 3293.2 L1022.0 3290.3 L1025.2 3292.9 L1028.4 3292.6 L1031.5 3293.0 L1034.7 3292.9 L1037.8 3294.1 L1040.9 3295.1 L1043.9 3295.5 L1046.8 3295.7 L1049.7 3294.5 L1052.7 3295.9 L1055.6 3296.1 L1058.5 3299.3 L1061.4 3295.8 L1064.3 3295.1 L1067.3 3295.2 L1070.4 3297.7 L1073.5 3298.2 L1076.6 3298.1 L1079.9 3298.2 L1083.3 3296.4 L1086.8 3299.1 L1090.4 3297.1 L1093.1 3296.7 L1096.0 3296.9 L1099.0 3297.6 L1102.2 3298.3 L1105.5 3299.4 L1108.8 3299.4 L1112.3 3298.7 L1115.8 3298.8 L1119.4 3300.0 L1122.9 3299.1 L1126.5 3300.2 L1130.0 3297.5 L1133.5 3297.4 L1136.9 3300.3 L1140.2 3297.8 L1143.4 3297.9 L1146.5 3299.2 L1149.5 3299.6 L1152.3 3299.1 L1154.9 3299.2 L1157.3 3299.3 L1159.4 3299.4 L1161.3 3301.6 L1163.0 3301.7" fill="none" stroke="#1a1a1a" stroke-width="3.2" stroke-linejoin="round" stroke-linecap="round" />
<rect x="178.5" y="1408.0" width="987.5" height="1973.0" fill="none" stroke="#262626" stroke-width="6.5"/>
<line x1="301.4" y1="3381" x2="301.4" y2="3365" stroke="#262626" stroke-width="5"/>
<line x1="424.7" y1="3381" x2="424.7" y2="3373" stroke="#262626" stroke-width="5"/>
<line x1="548.0" y1="3381" x2="548.0" y2="3365" stroke="#262626" stroke-width="5"/>
<line x1="671.3" y1="3381" x2="671.3" y2="3373" stroke="#262626" stroke-width="5"/>
<line x1="794.6" y1="3381" x2="794.6" y2="3365" stroke="#262626" stroke-width="5"/>
<line x1="918.0" y1="3381" x2="918.0" y2="3373" stroke="#262626" stroke-width="5"/>
<line x1="1041.3" y1="3381" x2="1041.3" y2="3365" stroke="#262626" stroke-width="5"/>
<text x="301.9" y="3445.0" font-family="'Liberation Sans', Arial, Helvetica, sans-serif" font-size="57" font-weight="bold" fill="#111" text-anchor="middle" >865</text>
<text x="548.5" y="3445.0" font-family="'Liberation Sans', Arial, Helvetica, sans-serif" font-size="57" font-weight="bold" fill="#111" text-anchor="middle" >860</text>
<text x="795.1" y="3445.0" font-family="'Liberation Sans', Arial, Helvetica, sans-serif" font-size="57" font-weight="bold" fill="#111" text-anchor="middle" >855</text>
<text x="1041.8" y="3445.0" font-family="'Liberation Sans', Arial, Helvetica, sans-serif" font-size="57" font-weight="bold" fill="#111" text-anchor="middle" >850</text>
<text x="671.5" y="3547.0" font-family="'Liberation Sans', Arial, Helvetica, sans-serif" font-size="73.6" font-weight="bold" fill="#111" text-anchor="middle" >Binding Energy (eV)</text>
<text x="134.0" y="2438.0" font-family="'Liberation Sans', Arial, Helvetica, sans-serif" font-size="73.2" font-weight="bold" fill="#111" text-anchor="middle" transform="rotate(-90 134.0 2438.0)" >Relative Intensity (arb. Units)</text>
<text x="657.0" y="3683.0" font-family="'Liberation Sans', Arial, Helvetica, sans-serif" font-size="79" font-weight="normal" fill="#222" text-anchor="middle" letter-spacing="3">(b)</text>
<text x="492.7" y="1386.0" font-family="'Liberation Sans', Arial, Helvetica, sans-serif" font-size="57" font-weight="normal" fill="#951f30" text-anchor="middle" >861.0</text>
<text x="728.6" y="1386.0" font-family="'Liberation Sans', Arial, Helvetica, sans-serif" font-size="57" font-weight="normal" fill="#f030f0" text-anchor="middle" >855.6</text>
<text x="887.2" y="1386.0" font-family="'Liberation Sans', Arial, Helvetica, sans-serif" font-size="57" font-weight="normal" fill="#f39028" text-anchor="middle" >853.8</text>
<text x="195" y="1494.5" font-family="'Liberation Sans', Arial, Helvetica, sans-serif" font-size="75" fill="#1a1a1a">[Ni 2p<tspan font-size="42" dy="24">3/2</tspan><tspan dy="-24"> Spectra]</tspan></text>
<text x="1157.0" y="1719.0" font-family="'Liberation Sans', Arial, Helvetica, sans-serif" font-size="55" font-weight="bold" fill="#138383" text-anchor="end" >10 mTorr</text>
<text x="1134.0" y="2197.0" font-family="'Liberation Sans', Arial, Helvetica, sans-serif" font-size="55" font-weight="bold" fill="#1a1ae6" text-anchor="end" >5 mTorr</text>
<text x="1141.0" y="2678.0" font-family="'Liberation Sans', Arial, Helvetica, sans-serif" font-size="55" font-weight="bold" fill="#e81c1c" text-anchor="end" >2 mTorr</text>
<text x="1128.0" y="3150.0" font-family="'Liberation Sans', Arial, Helvetica, sans-serif" font-size="55" font-weight="bold" fill="#111" text-anchor="end" >1 mTorr</text>
<line x1="1662" y1="1407" x2="1662" y2="3382" stroke="#ec5cec" stroke-width="4" stroke-dasharray="22 7 8 7"/>
<line x1="1944" y1="1407" x2="1944" y2="3382" stroke="#f7b060" stroke-width="5" stroke-dasharray="21 16"/>
<path d="M1326.0 1802.1 L1328.0 1802.1 L1330.0 1802.0 L1332.0 1802.0 L1334.0 1802.0 L1336.0 1802.0 L1338.0 1801.9 L1340.0 1801.9 L1342.0 1801.9 L1344.0 1801.9 L1346.0 1801.8 L1348.0 1801.8 L1350.0 1801.8 L1352.0 1801.7 L1354.0 1801.7 L1356.0 1801.6 L1358.0 1801.6 L1360.0 1801.5 L1362.0 1801.5 L1364.0 1801.4 L1366.0 1801.4 L1368.0 1801.3 L1370.0 1801.3 L1372.0 1801.2 L1374.0 1801.1 L1376.0 1801.1 L1378.0 1801.0 L1380.0 1800.9 L1382.0 1800.8 L1384.0 1800.8 L1386.0 1800.7 L1388.0 1800.6 L1390.0 1800.5 L1392.0 1800.4 L1394.0 1800.3 L1396.0 1800.2 L1398.0 1800.1 L1400.0 1800.0 L1402.0 1799.8 L1404.0 1799.7 L1406.0 1799.6 L1408.0 1799.5 L1410.0 1799.3 L1412.0 1799.2 L1414.0 1799.0 L1416.0 1798.9 L1418.0 1798.7 L1420.0 1798.6 L1422.0 1798.4 L1424.0 1798.2 L1426.0 1798.0 L1428.0 1797.8 L1430.0 1797.6 L1432.0 1797.4 L1434.0 1797.2 L1436.0 1797.0 L1438.0 1796.8 L1440.0 1796.5 L1442.0 1796.3 L1444.0 1796.1 L1446.0 1795.8 L1448.0 1795.5 L1450.0 1795.3 L1452.0 1795.0 L1454.0 1794.7 L1456.0 1794.4 L1458.0 1794.1 L1460.0 1793.8 L1462.0 1793.5 L1464.0 1793.2 L1466.0 1792.8 L1468.0 1792.5 L1470.0 1792.1 L1472.0 1791.8 L1474.0 1791.4 L1476.0 1791.0 L1478.0 1790.6 L1480.0 1790.3 L1482.0 1789.9 L1484.0 1789.4 L1486.0 1789.0 L1488.0 1788.6 L1490.0 1788.2 L1492.0 1787.7 L1494.0 1787.3 L1496.0 1786.8 L1498.0 1786.3 L1500.0 1785.9 L1502.0 1785.4 L1504.0 1784.9 L1506.0 1784.4 L1508.0 1783.9 L1510.0 1783.4 L1512.0 1782.8 L1514.0 1782.3 L1516.0 1781.8 L1518.0 1781.2 L1520.0 1780.7 L1522.0 1780.1 L1524.0 1779.6 L1526.0 1779.0 L1528.0 1778.4 L1530.0 1777.9 L1532.0 1777.3 L1534.0 1776.7 L1536.0 1776.1 L1538.0 1775.5 L1540.0 1774.9 L1542.0 1774.3 L1544.0 1773.7 L1546.0 1773.1 L1548.0 1772.5 L1550.0 1771.9 L1552.0 1771.3 L1554.0 1770.7 L1556.0 1770.1 L1558.0 1769.4 L1560.0 1768.8 L1562.0 1768.2 L1564.0 1767.6 L1566.0 1767.0 L1568.0 1766.4 L1570.0 1765.8 L1572.0 1765.2 L1574.0 1764.6 L1576.0 1764.0 L1578.0 1763.4 L1580.0 1762.8 L1582.0 1762.3 L1584.0 1761.7 L1586.0 1761.1 L1588.0 1760.6 L1590.0 1760.0 L1592.0 1759.5 L1594.0 1758.9 L1596.0 1758.4 L1598.0 1757.9 L1600.0 1757.4 L1602.0 1756.9 L1604.0 1756.4 L1606.0 1755.9 L1608.0 1755.4 L1610.0 1754.9 L1612.0 1754.5 L1614.0 1754.0 L1616.0 1753.6 L1618.0 1753.2 L1620.0 1752.8 L1622.0 1752.4 L1624.0 1752.0 L1626.0 1751.6 L1628.0 1751.2 L1630.0 1750.9 L1632.0 1750.5 L1634.0 1750.2 L1636.0 1749.9 L1638.0 1749.6 L1640.0 1749.3 L1642.0 1749.0 L1644.0 1748.7 L1646.0 1748.4 L1648.0 1748.2 L1650.0 1747.9 L1652.0 1747.7 L1654.0 1747.5 L1656.0 1747.2 L1658.0 1747.0 L1660.0 1746.8 L1662.0 1746.6 L1664.0 1746.4 L1666.0 1746.2 L1668.0 1746.1 L1670.0 1745.9 L1672.0 1745.8 L1674.0 1745.6 L1676.0 1745.5 L1678.0 1745.4 L1680.0 1745.2 L1682.0 1745.1 L1684.0 1745.0 L1686.0 1744.9 L1688.0 1744.8 L1690.0 1744.7 L1692.0 1744.6 L1694.0 1744.4 L1696.0 1744.3 L1698.0 1744.2 L1700.0 1744.0 L1702.0 1743.8 L1704.0 1743.7 L1706.0 1743.5 L1708.0 1743.3 L1710.0 1743.0 L1712.0 1742.8 L1714.0 1742.5 L1716.0 1742.2 L1718.0 1741.9 L1720.0 1741.6 L1722.0 1741.2 L1724.0 1740.8 L1726.0 1740.3 L1728.0 1739.8 L1730.0 1739.3 L1732.0 1738.8 L1734.0 1738.2 L1736.0 1737.5 L1738.0 1736.8 L1740.0 1736.1 L1742.0 1735.3 L1744.0 1734.4 L1746.0 1733.5 L1748.0 1732.6 L1750.0 1731.6 L1752.0 1730.5 L1754.0 1729.4 L1756.0 1728.2 L1758.0 1726.9 L1760.0 1725.6 L1762.0 1724.2 L1764.0 1722.8 L1766.0 1721.3 L1768.0 1719.7 L1770.0 1718.1 L1772.0 1716.3 L1774.0 1714.6 L1776.0 1712.7 L1778.0 1710.8 L1780.0 1708.8 L1782.0 1706.7 L1784.0 1704.5 L1786.0 1702.3 L1788.0 1700.0 L1790.0 1697.7 L1792.0 1695.3 L1794.0 1692.8 L1796.0 1690.2 L1798.0 1687.5 L1800.0 1684.8 L1802.0 1682.1 L1804.0 1679.2 L1806.0 1676.3 L1808.0 1673.4 L1810.0 1670.4 L1812.0 1667.3 L1814.0 1664.1 L1816.0 1660.9 L1818.0 1657.7 L1820.0 1654.4 L1822.0 1651.1 L1824.0 1647.7 L1826.0 1644.3 L1828.0 1640.8 L1830.0 1637.3 L1832.0 1633.8 L1834.0 1630.2 L1836.0 1626.7 L1838.0 1623.1 L1840.0 1619.4 L1842.0 1615.8 L1844.0 1612.2 L1846.0 1608.5 L1848.0 1604.9 L1850.0 1601.2 L1852.0 1597.6 L1854.0 1594.0 L1856.0 1590.3 L1858.0 1586.8 L1860.0 1583.2 L1862.0 1579.6 L1864.0 1576.1 L1866.0 1572.7 L1868.0 1569.2 L1870.0 1565.9 L1872.0 1562.5 L1874.0 1559.2 L1876.0 1556.0 L1878.0 1552.9 L1880.0 1549.8 L1882.0 1546.8 L1884.0 1543.9 L1886.0 1541.0 L1888.0 1538.2 L1890.0 1535.6 L1892.0 1533.0 L1894.0 1530.5 L1896.0 1528.1 L1898.0 1525.8 L1900.0 1523.7 L1902.0 1521.6 L1904.0 1519.6 L1906.0 1517.8 L1908.0 1516.1 L1910.0 1514.5 L1912.0 1513.1 L1914.0 1511.7 L1916.0 1510.5 L1918.0 1509.5 L1920.0 1508.5 L1922.0 1507.7 L1924.0 1507.1 L1926.0 1506.5 L1928.0 1506.1 L1930.0 1505.9 L1932.0 1505.8 L1934.0 1505.8 L1936.0 1506.0 L1938.0 1506.3 L1940.0 1506.8 L1942.0 1507.4 L1944.0 1508.1 L1946.0 1509.0 L1948.0 1510.0 L1950.0 1511.1 L1952.0 1512.4 L1954.0 1513.8 L1956.0 1515.3 L1958.0 1517.0 L1960.0 1518.8 L1962.0 1520.7 L1964.0 1522.7 L1966.0 1524.9 L1968.0 1527.1 L1970.0 1529.5 L1972.0 1532.0 L1974.0 1534.6 L1976.0 1537.3 L1978.0 1540.1 L1980.0 1543.0 L1982.0 1546.0 L1984.0 1549.1 L1986.0 1552.3 L1988.0 1555.5 L1990.0 1558.9 L1992.0 1562.3 L1994.0 1565.7 L1996.0 1569.3 L1998.0 1572.9 L2000.0 1576.6 L2002.0 1580.3 L2004.0 1584.0 L2006.0 1587.9 L2008.0 1591.7 L2010.0 1595.6 L2012.0 1599.5 L2014.0 1603.5 L2016.0 1607.5 L2018.0 1611.5 L2020.0 1615.5 L2022.0 1619.5 L2024.0 1623.5 L2026.0 1627.6 L2028.0 1631.6 L2030.0 1635.7 L2032.0 1639.7 L2034.0 1643.7 L2036.0 1647.8 L2038.0 1651.8 L2040.0 1655.7 L2042.0 1659.7 L2044.0 1663.6 L2046.0 1667.5 L2048.0 1671.4 L2050.0 1675.2 L2052.0 1679.0 L2054.0 1682.8 L2056.0 1686.5 L2058.0 1690.2 L2060.0 1693.8 L2062.0 1697.4 L2064.0 1700.9 L2066.0 1704.4 L2068.0 1707.9 L2070.0 1711.2 L2072.0 1714.6 L2074.0 1717.8 L2076.0 1721.0 L2078.0 1724.2 L2080.0 1727.3 L2082.0 1730.3 L2084.0 1733.2 L2086.0 1736.1 L2088.0 1739.0 L2090.0 1741.8 L2092.0 1744.5 L2094.0 1747.1 L2096.0 1749.7 L2098.0 1752.2 L2100.0 1754.7 L2102.0 1757.1 L2104.0 1759.4 L2106.0 1761.7 L2108.0 1763.9 L2110.0 1766.1 L2112.0 1768.2 L2114.0 1770.2 L2116.0 1772.1 L2118.0 1774.1 L2120.0 1775.9 L2122.0 1777.7 L2124.0 1779.4 L2126.0 1781.1 L2128.0 1782.7 L2130.0 1784.3 L2132.0 1785.8 L2134.0 1787.3 L2136.0 1788.7 L2138.0 1790.0 L2140.0 1791.4 L2142.0 1792.6 L2144.0 1793.8 L2146.0 1795.0 L2148.0 1796.1 L2150.0 1797.2 L2152.0 1798.3 L2154.0 1799.3 L2156.0 1800.2 L2158.0 1801.2 L2160.0 1802.0 L2162.0 1802.9 L2164.0 1803.7 L2166.0 1804.5 L2168.0 1805.2 L2170.0 1805.9 L2172.0 1806.6 L2174.0 1807.3 L2176.0 1807.9 L2178.0 1808.5 L2180.0 1809.1 L2182.0 1809.6 L2184.0 1810.1 L2186.0 1810.6 L2188.0 1811.1 L2190.0 1811.5 L2192.0 1812.0 L2194.0 1812.4 L2196.0 1812.8 L2198.0 1813.1 L2200.0 1813.5 L2202.0 1813.8 L2204.0 1814.1 L2206.0 1814.4 L2208.0 1814.7 L2210.0 1815.0 L2212.0 1815.2 L2214.0 1815.5 L2216.0 1815.7 L2218.0 1815.9 L2220.0 1816.1 L2222.0 1816.3 L2224.0 1816.5 L2226.0 1816.7 L2228.0 1816.9 L2230.0 1817.0 L2232.0 1817.2 L2234.0 1817.3 L2236.0 1817.4 L2238.0 1817.6 L2240.0 1817.7 L2242.0 1817.8 L2244.0 1817.9 L2246.0 1818.0 L2248.0 1818.1 L2250.0 1818.2 L2252.0 1818.3 L2254.0 1818.4 L2256.0 1818.4 L2258.0 1818.5 L2260.0 1818.6 L2262.0 1818.6 L2264.0 1818.7 L2266.0 1818.8 L2268.0 1818.8 L2270.0 1818.9 L2272.0 1818.9 L2274.0 1819.0 L2276.0 1819.0 L2278.0 1819.1 L2280.0 1819.1 L2282.0 1819.1 L2284.0 1819.2 L2286.0 1819.2 L2288.0 1819.2 L2290.0 1819.3 L2292.0 1819.3 L2294.0 1819.3 L2296.0 1819.3 L2298.0 1819.4 L2300.0 1819.4 L2302.0 1819.4 L2304.0 1819.4 L2306.0 1819.5" fill="none" stroke="#1f8f88" stroke-width="3.8" stroke-linejoin="round" stroke-linecap="round" />
<path d="M1326.0 1802.4 L1328.0 1802.4 L1330.0 1802.4 L1332.0 1802.4 L1334.0 1802.4 L1336.0 1802.4 L1338.0 1802.4 L1340.0 1802.4 L1342.0 1802.4 L1344.0 1802.4 L1346.0 1802.4 L1348.0 1802.4 L1350.0 1802.4 L1352.0 1802.4 L1354.0 1802.4 L1356.0 1802.4 L1358.0 1802.4 L1360.0 1802.4 L1362.0 1802.4 L1364.0 1802.4 L1366.0 1802.4 L1368.0 1802.4 L1370.0 1802.4 L1372.0 1802.4 L1374.0 1802.5 L1376.0 1802.5 L1378.0 1802.5 L1380.0 1802.5 L1382.0 1802.5 L1384.0 1802.5 L1386.0 1802.5 L1388.0 1802.5 L1390.0 1802.5 L1392.0 1802.5 L1394.0 1802.5 L1396.0 1802.5 L1398.0 1802.5 L1400.0 1802.5 L1402.0 1802.5 L1404.0 1802.5 L1406.0 1802.5 L1408.0 1802.5 L1410.0 1802.5 L1412.0 1802.5 L1414.0 1802.5 L1416.0 1802.5 L1418.0 1802.5 L1420.0 1802.5 L1422.0 1802.5 L1424.0 1802.5 L1426.0 1802.5 L1428.0 1802.5 L1430.0 1802.5 L1432.0 1802.5 L1434.0 1802.5 L1436.0 1802.5 L1438.0 1802.5 L1440.0 1802.5 L1442.0 1802.5 L1444.0 1802.5 L1446.0 1802.5 L1448.0 1802.5 L1450.0 1802.5 L1452.0 1802.5 L1454.0 1802.5 L1456.0 1802.5 L1458.0 1802.5 L1460.0 1802.5 L1462.0 1802.5 L1464.0 1802.5 L1466.0 1802.6 L1468.0 1802.6 L1470.0 1802.6 L1472.0 1802.6 L1474.0 1802.6 L1476.0 1802.6 L1478.0 1802.6 L1480.0 1802.6 L1482.0 1802.6 L1484.0 1802.6 L1486.0 1802.6 L1488.0 1802.6 L1490.0 1802.6 L1492.0 1802.6 L1494.0 1802.6 L1496.0 1802.6 L1498.0 1802.6 L1500.0 1802.6 L1502.0 1802.6 L1504.0 1802.6 L1506.0 1802.6 L1508.0 1802.7 L1510.0 1802.7 L1512.0 1802.7 L1514.0 1802.7 L1516.0 1802.7 L1518.0 1802.7 L1520.0 1802.7 L1522.0 1802.7 L1524.0 1802.7 L1526.0 1802.7 L1528.0 1802.7 L1530.0 1802.7 L1532.0 1802.7 L1534.0 1802.7 L1536.0 1802.8 L1538.0 1802.8 L1540.0 1802.8 L1542.0 1802.8 L1544.0 1802.8 L1546.0 1802.8 L1548.0 1802.8 L1550.0 1802.8 L1552.0 1802.8 L1554.0 1802.8 L1556.0 1802.9 L1558.0 1802.9 L1560.0 1802.9 L1562.0 1802.9 L1564.0 1802.9 L1566.0 1802.9 L1568.0 1802.9 L1570.0 1802.9 L1572.0 1802.9 L1574.0 1803.0 L1576.0 1803.0 L1578.0 1803.0 L1580.0 1803.0 L1582.0 1803.0 L1584.0 1803.0 L1586.0 1803.0 L1588.0 1803.1 L1590.0 1803.1 L1592.0 1803.1 L1594.0 1803.1 L1596.0 1803.1 L1598.0 1803.1 L1600.0 1803.1 L1602.0 1803.2 L1604.0 1803.2 L1606.0 1803.2 L1608.0 1803.2 L1610.0 1803.2 L1612.0 1803.2 L1614.0 1803.3 L1616.0 1803.3 L1618.0 1803.3 L1620.0 1803.3 L1622.0 1803.3 L1624.0 1803.4 L1626.0 1803.4 L1628.0 1803.4 L1630.0 1803.4 L1632.0 1803.4 L1634.0 1803.5 L1636.0 1803.5 L1638.0 1803.5 L1640.0 1803.5 L1642.0 1803.6 L1644.0 1803.6 L1646.0 1803.6 L1648.0 1803.6 L1650.0 1803.6 L1652.0 1803.7 L1654.0 1803.7 L1656.0 1803.7 L1658.0 1803.8 L1660.0 1803.8 L1662.0 1803.8 L1664.0 1803.8 L1666.0 1803.9 L1668.0 1803.9 L1670.0 1803.9 L1672.0 1803.9 L1674.0 1804.0 L1676.0 1804.0 L1678.0 1804.0 L1680.0 1804.1 L1682.0 1804.1 L1684.0 1804.1 L1686.0 1804.2 L1688.0 1804.2 L1690.0 1804.2 L1692.0 1804.3 L1694.0 1804.3 L1696.0 1804.3 L1698.0 1804.4 L1700.0 1804.4 L1702.0 1804.4 L1704.0 1804.5 L1706.0 1804.5 L1708.0 1804.5 L1710.0 1804.6 L1712.0 1804.6 L1714.0 1804.6 L1716.0 1804.7 L1718.0 1804.7 L1720.0 1804.8 L1722.0 1804.8 L1724.0 1804.8 L1726.0 1804.9 L1728.0 1804.9 L1730.0 1805.0 L1732.0 1805.0 L1734.0 1805.0 L1736.0 1805.1 L1738.0 1805.1 L1740.0 1805.2 L1742.0 1805.2 L1744.0 1805.3 L1746.0 1805.3 L1748.0 1805.4 L1750.0 1805.4 L1752.0 1805.4 L1754.0 1805.5 L1756.0 1805.5 L1758.0 1805.6 L1760.0 1805.6 L1762.0 1805.7 L1764.0 1805.7 L1766.0 1805.8 L1768.0 1805.8 L1770.0 1805.9 L1772.0 1805.9 L1774.0 1806.0 L1776.0 1806.0 L1778.0 1806.1 L1780.0 1806.1 L1782.0 1806.2 L1784.0 1806.3 L1786.0 1806.3 L1788.0 1806.4 L1790.0 1806.4 L1792.0 1806.5 L1794.0 1806.5 L1796.0 1806.6 L1798.0 1806.6 L1800.0 1806.7 L1802.0 1806.8 L1804.0 1806.8 L1806.0 1806.9 L1808.0 1806.9 L1810.0 1807.0 L1812.0 1807.0 L1814.0 1807.1 L1816.0 1807.2 L1818.0 1807.2 L1820.0 1807.3 L1822.0 1807.4 L1824.0 1807.4 L1826.0 1807.5 L1828.0 1807.5 L1830.0 1807.6 L1832.0 1807.7 L1834.0 1807.7 L1836.0 1807.8 L1838.0 1807.9 L1840.0 1807.9 L1842.0 1808.0 L1844.0 1808.1 L1846.0 1808.1 L1848.0 1808.2 L1850.0 1808.2 L1852.0 1808.3 L1854.0 1808.4 L1856.0 1808.4 L1858.0 1808.5 L1860.0 1808.6 L1862.0 1808.7 L1864.0 1808.7 L1866.0 1808.8 L1868.0 1808.9 L1870.0 1808.9 L1872.0 1809.0 L1874.0 1809.1 L1876.0 1809.1 L1878.0 1809.2 L1880.0 1809.3 L1882.0 1809.3 L1884.0 1809.4 L1886.0 1809.5 L1888.0 1809.6 L1890.0 1809.6 L1892.0 1809.7 L1894.0 1809.8 L1896.0 1809.8 L1898.0 1809.9 L1900.0 1810.0 L1902.0 1810.1 L1904.0 1810.1 L1906.0 1810.2 L1908.0 1810.3 L1910.0 1810.3 L1912.0 1810.4 L1914.0 1810.5 L1916.0 1810.6 L1918.0 1810.6 L1920.0 1810.7 L1922.0 1810.8 L1924.0 1810.9 L1926.0 1810.9 L1928.0 1811.0 L1930.0 1811.1 L1932.0 1811.1 L1934.0 1811.2 L1936.0 1811.3 L1938.0 1811.4 L1940.0 1811.4 L1942.0 1811.5 L1944.0 1811.6 L1946.0 1811.7 L1948.0 1811.7 L1950.0 1811.8 L1952.0 1811.9 L1954.0 1812.0 L1956.0 1812.0 L1958.0 1812.1 L1960.0 1812.2 L1962.0 1812.2 L1964.0 1812.3 L1966.0 1812.4 L1968.0 1812.5 L1970.0 1812.5 L1972.0 1812.6 L1974.0 1812.7 L1976.0 1812.7 L1978.0 1812.8 L1980.0 1812.9 L1982.0 1813.0 L1984.0 1813.0 L1986.0 1813.1 L1988.0 1813.2 L1990.0 1813.2 L1992.0 1813.3 L1994.0 1813.4 L1996.0 1813.4 L1998.0 1813.5 L2000.0 1813.6 L2002.0 1813.7 L2004.0 1813.7 L2006.0 1813.8 L2008.0 1813.9 L2010.0 1813.9 L2012.0 1814.0 L2014.0 1814.1 L2016.0 1814.1 L2018.0 1814.2 L2020.0 1814.3 L2022.0 1814.3 L2024.0 1814.4 L2026.0 1814.5 L2028.0 1814.5 L2030.0 1814.6 L2032.0 1814.7 L2034.0 1814.7 L2036.0 1814.8 L2038.0 1814.8 L2040.0 1814.9 L2042.0 1815.0 L2044.0 1815.0 L2046.0 1815.1 L2048.0 1815.2 L2050.0 1815.2 L2052.0 1815.3 L2054.0 1815.3 L2056.0 1815.4 L2058.0 1815.5 L2060.0 1815.5 L2062.0 1815.6 L2064.0 1815.6 L2066.0 1815.7 L2068.0 1815.7 L2070.0 1815.8 L2072.0 1815.9 L2074.0 1815.9 L2076.0 1816.0 L2078.0 1816.0 L2080.0 1816.1 L2082.0 1816.1 L2084.0 1816.2 L2086.0 1816.2 L2088.0 1816.3 L2090.0 1816.4 L2092.0 1816.4 L2094.0 1816.5 L2096.0 1816.5 L2098.0 1816.6 L2100.0 1816.6 L2102.0 1816.7 L2104.0 1816.7 L2106.0 1816.8 L2108.0 1816.8 L2110.0 1816.9 L2112.0 1816.9 L2114.0 1816.9 L2116.0 1817.0 L2118.0 1817.0 L2120.0 1817.1 L2122.0 1817.1 L2124.0 1817.2 L2126.0 1817.2 L2128.0 1817.3 L2130.0 1817.3 L2132.0 1817.4 L2134.0 1817.4 L2136.0 1817.4 L2138.0 1817.5 L2140.0 1817.5 L2142.0 1817.6 L2144.0 1817.6 L2146.0 1817.6 L2148.0 1817.7 L2150.0 1817.7 L2152.0 1817.8 L2154.0 1817.8 L2156.0 1817.8 L2158.0 1817.9 L2160.0 1817.9 L2162.0 1817.9 L2164.0 1818.0 L2166.0 1818.0 L2168.0 1818.1 L2170.0 1818.1 L2172.0 1818.1 L2174.0 1818.2 L2176.0 1818.2 L2178.0 1818.2 L2180.0 1818.3 L2182.0 1818.3 L2184.0 1818.3 L2186.0 1818.4 L2188.0 1818.4 L2190.0 1818.4 L2192.0 1818.4 L2194.0 1818.5 L2196.0 1818.5 L2198.0 1818.5 L2200.0 1818.6 L2202.0 1818.6 L2204.0 1818.6 L2206.0 1818.6 L2208.0 1818.7 L2210.0 1818.7 L2212.0 1818.7 L2214.0 1818.7 L2216.0 1818.8 L2218.0 1818.8 L2220.0 1818.8 L2222.0 1818.8 L2224.0 1818.9 L2226.0 1818.9 L2228.0 1818.9 L2230.0 1818.9 L2232.0 1819.0 L2234.0 1819.0 L2236.0 1819.0 L2238.0 1819.0 L2240.0 1819.0 L2242.0 1819.1 L2244.0 1819.1 L2246.0 1819.1 L2248.0 1819.1 L2250.0 1819.1 L2252.0 1819.2 L2254.0 1819.2 L2256.0 1819.2 L2258.0 1819.2 L2260.0 1819.2 L2262.0 1819.2 L2264.0 1819.3 L2266.0 1819.3 L2268.0 1819.3 L2270.0 1819.3 L2272.0 1819.3 L2274.0 1819.3 L2276.0 1819.4 L2278.0 1819.4 L2280.0 1819.4 L2282.0 1819.4 L2284.0 1819.4 L2286.0 1819.4 L2288.0 1819.4 L2290.0 1819.5 L2292.0 1819.5 L2294.0 1819.5 L2296.0 1819.5 L2298.0 1819.5 L2300.0 1819.5 L2302.0 1819.5 L2304.0 1819.5 L2306.0 1819.6" fill="none" stroke="#666" stroke-width="3" stroke-linejoin="round" stroke-linecap="round" stroke-dasharray="7 5"/>
<path d="M1326.0 1802.4 L1328.0 1802.4 L1330.0 1802.4 L1332.0 1802.4 L1334.0 1802.4 L1336.0 1802.4 L1338.0 1802.4 L1340.0 1802.4 L1342.0 1802.4 L1344.0 1802.4 L1346.0 1802.4 L1348.0 1802.4 L1350.0 1802.4 L1352.0 1802.4 L1354.0 1802.4 L1356.0 1802.4 L1358.0 1802.4 L1360.0 1802.4 L1362.0 1802.4 L1364.0 1802.4 L1366.0 1802.4 L1368.0 1802.4 L1370.0 1802.4 L1372.0 1802.4 L1374.0 1802.5 L1376.0 1802.5 L1378.0 1802.5 L1380.0 1802.5 L1382.0 1802.5 L1384.0 1802.5 L1386.0 1802.5 L1388.0 1802.5 L1390.0 1802.5 L1392.0 1802.5 L1394.0 1802.5 L1396.0 1802.5 L1398.0 1802.5 L1400.0 1802.5 L1402.0 1802.5 L1404.0 1802.5 L1406.0 1802.5 L1408.0 1802.5 L1410.0 1802.5 L1412.0 1802.5 L1414.0 1802.5 L1416.0 1802.5 L1418.0 1802.5 L1420.0 1802.5 L1422.0 1802.5 L1424.0 1802.5 L1426.0 1802.5 L1428.0 1802.5 L1430.0 1802.5 L1432.0 1802.5 L1434.0 1802.5 L1436.0 1802.5 L1438.0 1802.5 L1440.0 1802.5 L1442.0 1802.5 L1444.0 1802.5 L1446.0 1802.5 L1448.0 1802.5 L1450.0 1802.5 L1452.0 1802.5 L1454.0 1802.5 L1456.0 1802.5 L1458.0 1802.5 L1460.0 1802.5 L1462.0 1802.5 L1464.0 1802.5 L1466.0 1802.5 L1468.0 1802.6 L1470.0 1802.6 L1472.0 1802.6 L1474.0 1802.6 L1476.0 1802.6 L1478.0 1802.6 L1480.0 1802.6 L1482.0 1802.6 L1484.0 1802.6 L1486.0 1802.6 L1488.0 1802.6 L1490.0 1802.6 L1492.0 1802.6 L1494.0 1802.6 L1496.0 1802.6 L1498.0 1802.6 L1500.0 1802.6 L1502.0 1802.6 L1504.0 1802.6 L1506.0 1802.6 L1508.0 1802.6 L1510.0 1802.7 L1512.0 1802.7 L1514.0 1802.7 L1516.0 1802.7 L1518.0 1802.7 L1520.0 1802.7 L1522.0 1802.7 L1524.0 1802.7 L1526.0 1802.7 L1528.0 1802.7 L1530.0 1802.7 L1532.0 1802.7 L1534.0 1802.7 L1536.0 1802.7 L1538.0 1802.7 L1540.0 1802.7 L1542.0 1802.7 L1544.0 1802.8 L1546.0 1802.8 L1548.0 1802.8 L1550.0 1802.8 L1552.0 1802.8 L1554.0 1802.8 L1556.0 1802.8 L1558.0 1802.8 L1560.0 1802.8 L1562.0 1802.8 L1564.0 1802.8 L1566.0 1802.8 L1568.0 1802.8 L1570.0 1802.8 L1572.0 1802.8 L1574.0 1802.8 L1576.0 1802.8 L1578.0 1802.8 L1580.0 1802.8 L1582.0 1802.8 L1584.0 1802.8 L1586.0 1802.8 L1588.0 1802.8 L1590.0 1802.8 L1592.0 1802.8 L1594.0 1802.8 L1596.0 1802.7 L1598.0 1802.7 L1600.0 1802.7 L1602.0 1802.7 L1604.0 1802.7 L1606.0 1802.6 L1608.0 1802.6 L1610.0 1802.6 L1612.0 1802.6 L1614.0 1802.5 L1616.0 1802.5 L1618.0 1802.4 L1620.0 1802.4 L1622.0 1802.3 L1624.0 1802.3 L1626.0 1802.2 L1628.0 1802.2 L1630.0 1802.1 L1632.0 1802.0 L1634.0 1801.9 L1636.0 1801.8 L1638.0 1801.7 L1640.0 1801.6 L1642.0 1801.5 L1644.0 1801.4 L1646.0 1801.3 L1648.0 1801.1 L1650.0 1801.0 L1652.0 1800.8 L1654.0 1800.7 L1656.0 1800.5 L1658.0 1800.3 L1660.0 1800.1 L1662.0 1799.9 L1664.0 1799.6 L1666.0 1799.4 L1668.0 1799.1 L1670.0 1798.8 L1672.0 1798.5 L1674.0 1798.2 L1676.0 1797.9 L1678.0 1797.6 L1680.0 1797.2 L1682.0 1796.8 L1684.0 1796.4 L1686.0 1795.9 L1688.0 1795.5 L1690.0 1795.0 L1692.0 1794.5 L1694.0 1794.0 L1696.0 1793.4 L1698.0 1792.8 L1700.0 1792.2 L1702.0 1791.5 L1704.0 1790.8 L1706.0 1790.1 L1708.0 1789.4 L1710.0 1788.6 L1712.0 1787.8 L1714.0 1786.9 L1716.0 1786.0 L1718.0 1785.1 L1720.0 1784.1 L1722.0 1783.1 L1724.0 1782.0 L1726.0 1780.9 L1728.0 1779.7 L1730.0 1778.5 L1732.0 1777.3 L1734.0 1776.0 L1736.0 1774.6 L1738.0 1773.2 L1740.0 1771.8 L1742.0 1770.3 L1744.0 1768.7 L1746.0 1767.1 L1748.0 1765.4 L1750.0 1763.7 L1752.0 1761.9 L1754.0 1760.1 L1756.0 1758.2 L1758.0 1756.2 L1760.0 1754.2 L1762.0 1752.1 L1764.0 1750.0 L1766.0 1747.7 L1768.0 1745.5 L1770.0 1743.1 L1772.0 1740.7 L1774.0 1738.3 L1776.0 1735.7 L1778.0 1733.2 L1780.0 1730.5 L1782.0 1727.8 L1784.0 1725.0 L1786.0 1722.2 L1788.0 1719.3 L1790.0 1716.3 L1792.0 1713.3 L1794.0 1710.2 L1796.0 1707.0 L1798.0 1703.8 L1800.0 1700.6 L1802.0 1697.3 L1804.0 1693.9 L1806.0 1690.5 L1808.0 1687.0 L1810.0 1683.5 L1812.0 1679.9 L1814.0 1676.3 L1816.0 1672.7 L1818.0 1669.0 L1820.0 1665.3 L1822.0 1661.5 L1824.0 1657.7 L1826.0 1653.9 L1828.0 1650.0 L1830.0 1646.2 L1832.0 1642.3 L1834.0 1638.4 L1836.0 1634.4 L1838.0 1630.5 L1840.0 1626.6 L1842.0 1622.6 L1844.0 1618.7 L1846.0 1614.7 L1848.0 1610.8 L1850.0 1606.9 L1852.0 1603.0 L1854.0 1599.1 L1856.0 1595.2 L1858.0 1591.4 L1860.0 1587.6 L1862.0 1583.9 L1864.0 1580.2 L1866.0 1576.5 L1868.0 1572.9 L1870.0 1569.3 L1872.0 1565.8 L1874.0 1562.3 L1876.0 1559.0 L1878.0 1555.7 L1880.0 1552.4 L1882.0 1549.3 L1884.0 1546.2 L1886.0 1543.2 L1888.0 1540.4 L1890.0 1537.6 L1892.0 1534.9 L1894.0 1532.3 L1896.0 1529.8 L1898.0 1527.4 L1900.0 1525.1 L1902.0 1523.0 L1904.0 1521.0 L1906.0 1519.1 L1908.0 1517.3 L1910.0 1515.6 L1912.0 1514.1 L1914.0 1512.7 L1916.0 1511.4 L1918.0 1510.3 L1920.0 1509.3 L1922.0 1508.5 L1924.0 1507.8 L1926.0 1507.2 L1928.0 1506.8 L1930.0 1506.5 L1932.0 1506.3 L1934.0 1506.3 L1936.0 1506.5 L1938.0 1506.8 L1940.0 1507.2 L1942.0 1507.7 L1944.0 1508.5 L1946.0 1509.3 L1948.0 1510.3 L1950.0 1511.4 L1952.0 1512.6 L1954.0 1514.0 L1956.0 1515.5 L1958.0 1517.2 L1960.0 1519.0 L1962.0 1520.9 L1964.0 1522.9 L1966.0 1525.0 L1968.0 1527.3 L1970.0 1529.6 L1972.0 1532.1 L1974.0 1534.7 L1976.0 1537.4 L1978.0 1540.2 L1980.0 1543.1 L1982.0 1546.1 L1984.0 1549.2 L1986.0 1552.3 L1988.0 1555.6 L1990.0 1558.9 L1992.0 1562.3 L1994.0 1565.8 L1996.0 1569.3 L1998.0 1572.9 L2000.0 1576.6 L2002.0 1580.3 L2004.0 1584.1 L2006.0 1587.9 L2008.0 1591.7 L2010.0 1595.6 L2012.0 1599.6 L2014.0 1603.5 L2016.0 1607.5 L2018.0 1611.5 L2020.0 1615.5 L2022.0 1619.5 L2024.0 1623.6 L2026.0 1627.6 L2028.0 1631.6 L2030.0 1635.7 L2032.0 1639.7 L2034.0 1643.7 L2036.0 1647.8 L2038.0 1651.8 L2040.0 1655.7 L2042.0 1659.7 L2044.0 1663.6 L2046.0 1667.5 L2048.0 1671.4 L2050.0 1675.2 L2052.0 1679.0 L2054.0 1682.8 L2056.0 1686.5 L2058.0 1690.2 L2060.0 1693.8 L2062.0 1697.4 L2064.0 1700.9 L2066.0 1704.4 L2068.0 1707.9 L2070.0 1711.2 L2072.0 1714.6 L2074.0 1717.8 L2076.0 1721.0 L2078.0 1724.2 L2080.0 1727.3 L2082.0 1730.3 L2084.0 1733.2 L2086.0 1736.2 L2088.0 1739.0 L2090.0 1741.8 L2092.0 1744.5 L2094.0 1747.1 L2096.0 1749.7 L2098.0 1752.2 L2100.0 1754.7 L2102.0 1757.1 L2104.0 1759.4 L2106.0 1761.7 L2108.0 1763.9 L2110.0 1766.1 L2112.0 1768.2 L2114.0 1770.2 L2116.0 1772.1 L2118.0 1774.1 L2120.0 1775.9 L2122.0 1777.7 L2124.0 1779.4 L2126.0 1781.1 L2128.0 1782.7 L2130.0 1784.3 L2132.0 1785.8 L2134.0 1787.3 L2136.0 1788.7 L2138.0 1790.0 L2140.0 1791.4 L2142.0 1792.6 L2144.0 1793.8 L2146.0 1795.0 L2148.0 1796.1 L2150.0 1797.2 L2152.0 1798.3 L2154.0 1799.3 L2156.0 1800.2 L2158.0 1801.2 L2160.0 1802.0 L2162.0 1802.9 L2164.0 1803.7 L2166.0 1804.5 L2168.0 1805.2 L2170.0 1805.9 L2172.0 1806.6 L2174.0 1807.3 L2176.0 1807.9 L2178.0 1808.5 L2180.0 1809.1 L2182.0 1809.6 L2184.0 1810.1 L2186.0 1810.6 L2188.0 1811.1 L2190.0 1811.5 L2192.0 1812.0 L2194.0 1812.4 L2196.0 1812.8 L2198.0 1813.1 L2200.0 1813.5 L2202.0 1813.8 L2204.0 1814.1 L2206.0 1814.4 L2208.0 1814.7 L2210.0 1815.0 L2212.0 1815.2 L2214.0 1815.5 L2216.0 1815.7 L2218.0 1815.9 L2220.0 1816.1 L2222.0 1816.3 L2224.0 1816.5 L2226.0 1816.7 L2228.0 1816.9 L2230.0 1817.0 L2232.0 1817.2 L2234.0 1817.3 L2236.0 1817.4 L2238.0 1817.6 L2240.0 1817.7 L2242.0 1817.8 L2244.0 1817.9 L2246.0 1818.0 L2248.0 1818.1 L2250.0 1818.2 L2252.0 1818.3 L2254.0 1818.4 L2256.0 1818.4 L2258.0 1818.5 L2260.0 1818.6 L2262.0 1818.6 L2264.0 1818.7 L2266.0 1818.8 L2268.0 1818.8 L2270.0 1818.9 L2272.0 1818.9 L2274.0 1819.0 L2276.0 1819.0 L2278.0 1819.1 L2280.0 1819.1 L2282.0 1819.1 L2284.0 1819.2 L2286.0 1819.2 L2288.0 1819.2 L2290.0 1819.3 L2292.0 1819.3 L2294.0 1819.3 L2296.0 1819.3 L2298.0 1819.4 L2300.0 1819.4 L2302.0 1819.4 L2304.0 1819.4 L2306.0 1819.5" fill="none" stroke="#f5a850" stroke-width="3.8" stroke-linejoin="round" stroke-linecap="round" stroke-dasharray="19 17"/>
<path d="M1326.0 1802.1 L1328.0 1802.1 L1330.0 1802.0 L1332.0 1802.0 L1334.0 1802.0 L1336.0 1802.0 L1338.0 1801.9 L1340.0 1801.9 L1342.0 1801.9 L1344.0 1801.9 L1346.0 1801.8 L1348.0 1801.8 L1350.0 1801.8 L1352.0 1801.7 L1354.0 1801.7 L1356.0 1801.6 L1358.0 1801.6 L1360.0 1801.5 L1362.0 1801.5 L1364.0 1801.4 L1366.0 1801.4 L1368.0 1801.3 L1370.0 1801.3 L1372.0 1801.2 L1374.0 1801.1 L1376.0 1801.1 L1378.0 1801.0 L1380.0 1800.9 L1382.0 1800.8 L1384.0 1800.8 L1386.0 1800.7 L1388.0 1800.6 L1390.0 1800.5 L1392.0 1800.4 L1394.0 1800.3 L1396.0 1800.2 L1398.0 1800.1 L1400.0 1800.0 L1402.0 1799.8 L1404.0 1799.7 L1406.0 1799.6 L1408.0 1799.5 L1410.0 1799.3 L1412.0 1799.2 L1414.0 1799.0 L1416.0 1798.9 L1418.0 1798.7 L1420.0 1798.6 L1422.0 1798.4 L1424.0 1798.2 L1426.0 1798.0 L1428.0 1797.8 L1430.0 1797.6 L1432.0 1797.4 L1434.0 1797.2 L1436.0 1797.0 L1438.0 1796.8 L1440.0 1796.5 L1442.0 1796.3 L1444.0 1796.1 L1446.0 1795.8 L1448.0 1795.5 L1450.0 1795.3 L1452.0 1795.0 L1454.0 1794.7 L1456.0 1794.4 L1458.0 1794.1 L1460.0 1793.8 L1462.0 1793.5 L1464.0 1793.2 L1466.0 1792.8 L1468.0 1792.5 L1470.0 1792.1 L1472.0 1791.8 L1474.0 1791.4 L1476.0 1791.0 L1478.0 1790.7 L1480.0 1790.3 L1482.0 1789.9 L1484.0 1789.4 L1486.0 1789.0 L1488.0 1788.6 L1490.0 1788.2 L1492.0 1787.7 L1494.0 1787.3 L1496.0 1786.8 L1498.0 1786.3 L1500.0 1785.9 L1502.0 1785.4 L1504.0 1784.9 L1506.0 1784.4 L1508.0 1783.9 L1510.0 1783.4 L1512.0 1782.9 L1514.0 1782.3 L1516.0 1781.8 L1518.0 1781.2 L1520.0 1780.7 L1522.0 1780.1 L1524.0 1779.6 L1526.0 1779.0 L1528.0 1778.5 L1530.0 1777.9 L1532.0 1777.3 L1534.0 1776.7 L1536.0 1776.1 L1538.0 1775.5 L1540.0 1774.9 L1542.0 1774.3 L1544.0 1773.7 L1546.0 1773.1 L1548.0 1772.5 L1550.0 1771.9 L1552.0 1771.3 L1554.0 1770.7 L1556.0 1770.1 L1558.0 1769.5 L1560.0 1768.9 L1562.0 1768.3 L1564.0 1767.7 L1566.0 1767.1 L1568.0 1766.5 L1570.0 1765.9 L1572.0 1765.3 L1574.0 1764.8 L1576.0 1764.2 L1578.0 1763.6 L1580.0 1763.0 L1582.0 1762.5 L1584.0 1761.9 L1586.0 1761.4 L1588.0 1760.8 L1590.0 1760.3 L1592.0 1759.8 L1594.0 1759.3 L1596.0 1758.8 L1598.0 1758.3 L1600.0 1757.8 L1602.0 1757.3 L1604.0 1756.9 L1606.0 1756.4 L1608.0 1756.0 L1610.0 1755.6 L1612.0 1755.2 L1614.0 1754.8 L1616.0 1754.4 L1618.0 1754.1 L1620.0 1753.7 L1622.0 1753.4 L1624.0 1753.1 L1626.0 1752.8 L1628.0 1752.5 L1630.0 1752.2 L1632.0 1752.0 L1634.0 1751.7 L1636.0 1751.5 L1638.0 1751.3 L1640.0 1751.2 L1642.0 1751.0 L1644.0 1750.9 L1646.0 1750.8 L1648.0 1750.7 L1650.0 1750.6 L1652.0 1750.5 L1654.0 1750.5 L1656.0 1750.5 L1658.0 1750.5 L1660.0 1750.5 L1662.0 1750.5 L1664.0 1750.6 L1666.0 1750.7 L1668.0 1750.8 L1670.0 1751.0 L1672.0 1751.2 L1674.0 1751.4 L1676.0 1751.6 L1678.0 1751.8 L1680.0 1752.1 L1682.0 1752.4 L1684.0 1752.8 L1686.0 1753.1 L1688.0 1753.5 L1690.0 1753.9 L1692.0 1754.3 L1694.0 1754.8 L1696.0 1755.2 L1698.0 1755.7 L1700.0 1756.2 L1702.0 1756.7 L1704.0 1757.3 L1706.0 1757.8 L1708.0 1758.4 L1710.0 1759.0 L1712.0 1759.6 L1714.0 1760.3 L1716.0 1760.9 L1718.0 1761.6 L1720.0 1762.2 L1722.0 1762.9 L1724.0 1763.6 L1726.0 1764.3 L1728.0 1765.0 L1730.0 1765.7 L1732.0 1766.5 L1734.0 1767.2 L1736.0 1767.9 L1738.0 1768.7 L1740.0 1769.4 L1742.0 1770.2 L1744.0 1771.0 L1746.0 1771.7 L1748.0 1772.5 L1750.0 1773.3 L1752.0 1774.0 L1754.0 1774.8 L1756.0 1775.5 L1758.0 1776.3 L1760.0 1777.1 L1762.0 1777.8 L1764.0 1778.6 L1766.0 1779.3 L1768.0 1780.1 L1770.0 1780.8 L1772.0 1781.5 L1774.0 1782.3 L1776.0 1783.0 L1778.0 1783.7 L1780.0 1784.4 L1782.0 1785.1 L1784.0 1785.8 L1786.0 1786.5 L1788.0 1787.1 L1790.0 1787.8 L1792.0 1788.5 L1794.0 1789.1 L1796.0 1789.7 L1798.0 1790.3 L1800.0 1791.0 L1802.0 1791.6 L1804.0 1792.1 L1806.0 1792.7 L1808.0 1793.3 L1810.0 1793.8 L1812.0 1794.4 L1814.0 1794.9 L1816.0 1795.4 L1818.0 1795.9 L1820.0 1796.4 L1822.0 1796.9 L1824.0 1797.4 L1826.0 1797.9 L1828.0 1798.3 L1830.0 1798.8 L1832.0 1799.2 L1834.0 1799.6 L1836.0 1800.0 L1838.0 1800.4 L1840.0 1800.8 L1842.0 1801.2 L1844.0 1801.5 L1846.0 1801.9 L1848.0 1802.3 L1850.0 1802.6 L1852.0 1802.9 L1854.0 1803.2 L1856.0 1803.5 L1858.0 1803.9 L1860.0 1804.1 L1862.0 1804.4 L1864.0 1804.7 L1866.0 1805.0 L1868.0 1805.2 L1870.0 1805.5 L1872.0 1805.7 L1874.0 1806.0 L1876.0 1806.2 L1878.0 1806.4 L1880.0 1806.6 L1882.0 1806.8 L1884.0 1807.1 L1886.0 1807.3 L1888.0 1807.4 L1890.0 1807.6 L1892.0 1807.8 L1894.0 1808.0 L1896.0 1808.2 L1898.0 1808.3 L1900.0 1808.5 L1902.0 1808.7 L1904.0 1808.8 L1906.0 1809.0 L1908.0 1809.1 L1910.0 1809.2 L1912.0 1809.4 L1914.0 1809.5 L1916.0 1809.7 L1918.0 1809.8 L1920.0 1809.9 L1922.0 1810.0 L1924.0 1810.2 L1926.0 1810.3 L1928.0 1810.4 L1930.0 1810.5 L1932.0 1810.6 L1934.0 1810.7 L1936.0 1810.8 L1938.0 1810.9 L1940.0 1811.0 L1942.0 1811.1 L1944.0 1811.2 L1946.0 1811.3 L1948.0 1811.4 L1950.0 1811.5 L1952.0 1811.6 L1954.0 1811.7 L1956.0 1811.8 L1958.0 1811.9 L1960.0 1812.0 L1962.0 1812.1 L1964.0 1812.1 L1966.0 1812.2 L1968.0 1812.3 L1970.0 1812.4 L1972.0 1812.5 L1974.0 1812.6 L1976.0 1812.6 L1978.0 1812.7 L1980.0 1812.8 L1982.0 1812.9 L1984.0 1812.9 L1986.0 1813.0 L1988.0 1813.1 L1990.0 1813.2 L1992.0 1813.3 L1994.0 1813.3 L1996.0 1813.4 L1998.0 1813.5 L2000.0 1813.5 L2002.0 1813.6 L2004.0 1813.7 L2006.0 1813.8 L2008.0 1813.8 L2010.0 1813.9 L2012.0 1814.0 L2014.0 1814.0 L2016.0 1814.1 L2018.0 1814.2 L2020.0 1814.2 L2022.0 1814.3 L2024.0 1814.4 L2026.0 1814.4 L2028.0 1814.5 L2030.0 1814.6 L2032.0 1814.6 L2034.0 1814.7 L2036.0 1814.8 L2038.0 1814.8 L2040.0 1814.9 L2042.0 1815.0 L2044.0 1815.0 L2046.0 1815.1 L2048.0 1815.1 L2050.0 1815.2 L2052.0 1815.3 L2054.0 1815.3 L2056.0 1815.4 L2058.0 1815.5 L2060.0 1815.5 L2062.0 1815.6 L2064.0 1815.6 L2066.0 1815.7 L2068.0 1815.7 L2070.0 1815.8 L2072.0 1815.9 L2074.0 1815.9 L2076.0 1816.0 L2078.0 1816.0 L2080.0 1816.1 L2082.0 1816.1 L2084.0 1816.2 L2086.0 1816.2 L2088.0 1816.3 L2090.0 1816.4 L2092.0 1816.4 L2094.0 1816.5 L2096.0 1816.5 L2098.0 1816.6 L2100.0 1816.6 L2102.0 1816.7 L2104.0 1816.7 L2106.0 1816.8 L2108.0 1816.8 L2110.0 1816.9 L2112.0 1816.9 L2114.0 1816.9 L2116.0 1817.0 L2118.0 1817.0 L2120.0 1817.1 L2122.0 1817.1 L2124.0 1817.2 L2126.0 1817.2 L2128.0 1817.3 L2130.0 1817.3 L2132.0 1817.4 L2134.0 1817.4 L2136.0 1817.4 L2138.0 1817.5 L2140.0 1817.5 L2142.0 1817.6 L2144.0 1817.6 L2146.0 1817.6 L2148.0 1817.7 L2150.0 1817.7 L2152.0 1817.8 L2154.0 1817.8 L2156.0 1817.8 L2158.0 1817.9 L2160.0 1817.9 L2162.0 1817.9 L2164.0 1818.0 L2166.0 1818.0 L2168.0 1818.1 L2170.0 1818.1 L2172.0 1818.1 L2174.0 1818.2 L2176.0 1818.2 L2178.0 1818.2 L2180.0 1818.3 L2182.0 1818.3 L2184.0 1818.3 L2186.0 1818.4 L2188.0 1818.4 L2190.0 1818.4 L2192.0 1818.4 L2194.0 1818.5 L2196.0 1818.5 L2198.0 1818.5 L2200.0 1818.6 L2202.0 1818.6 L2204.0 1818.6 L2206.0 1818.6 L2208.0 1818.7 L2210.0 1818.7 L2212.0 1818.7 L2214.0 1818.7 L2216.0 1818.8 L2218.0 1818.8 L2220.0 1818.8 L2222.0 1818.8 L2224.0 1818.9 L2226.0 1818.9 L2228.0 1818.9 L2230.0 1818.9 L2232.0 1819.0 L2234.0 1819.0 L2236.0 1819.0 L2238.0 1819.0 L2240.0 1819.0 L2242.0 1819.1 L2244.0 1819.1 L2246.0 1819.1 L2248.0 1819.1 L2250.0 1819.1 L2252.0 1819.2 L2254.0 1819.2 L2256.0 1819.2 L2258.0 1819.2 L2260.0 1819.2 L2262.0 1819.2 L2264.0 1819.3 L2266.0 1819.3 L2268.0 1819.3 L2270.0 1819.3 L2272.0 1819.3 L2274.0 1819.3 L2276.0 1819.4 L2278.0 1819.4 L2280.0 1819.4 L2282.0 1819.4 L2284.0 1819.4 L2286.0 1819.4 L2288.0 1819.4 L2290.0 1819.5 L2292.0 1819.5 L2294.0 1819.5 L2296.0 1819.5 L2298.0 1819.5 L2300.0 1819.5 L2302.0 1819.5 L2304.0 1819.5 L2306.0 1819.6" fill="none" stroke="#e050e0" stroke-width="3.5" stroke-linejoin="round" stroke-linecap="round" stroke-dasharray="22 9 8 9"/>
<path d="M1326.0 2293.4 L1328.0 2293.4 L1330.0 2293.4 L1332.0 2293.4 L1334.0 2293.4 L1336.0 2293.4 L1338.0 2293.3 L1340.0 2293.3 L1342.0 2293.3 L1344.0 2293.3 L1346.0 2293.3 L1348.0 2293.2 L1350.0 2293.2 L1352.0 2293.2 L1354.0 2293.2 L1356.0 2293.1 L1358.0 2293.1 L1360.0 2293.1 L1362.0 2293.0 L1364.0 2293.0 L1366.0 2293.0 L1368.0 2292.9 L1370.0 2292.9 L1372.0 2292.8 L1374.0 2292.8 L1376.0 2292.8 L1378.0 2292.7 L1380.0 2292.6 L1382.0 2292.6 L1384.0 2292.5 L1386.0 2292.5 L1388.0 2292.4 L1390.0 2292.3 L1392.0 2292.3 L1394.0 2292.2 L1396.0 2292.1 L1398.0 2292.0 L1400.0 2291.9 L1402.0 2291.9 L1404.0 2291.8 L1406.0 2291.7 L1408.0 2291.6 L1410.0 2291.5 L1412.0 2291.3 L1414.0 2291.2 L1416.0 2291.1 L1418.0 2291.0 L1420.0 2290.8 L1422.0 2290.7 L1424.0 2290.6 L1426.0 2290.4 L1428.0 2290.3 L1430.0 2290.1 L1432.0 2289.9 L1434.0 2289.8 L1436.0 2289.6 L1438.0 2289.4 L1440.0 2289.2 L1442.0 2289.0 L1444.0 2288.8 L1446.0 2288.6 L1448.0 2288.3 L1450.0 2288.1 L1452.0 2287.9 L1454.0 2287.6 L1456.0 2287.4 L1458.0 2287.1 L1460.0 2286.8 L1462.0 2286.6 L1464.0 2286.3 L1466.0 2286.0 L1468.0 2285.7 L1470.0 2285.4 L1472.0 2285.0 L1474.0 2284.7 L1476.0 2284.3 L1478.0 2284.0 L1480.0 2283.6 L1482.0 2283.3 L1484.0 2282.9 L1486.0 2282.5 L1488.0 2282.1 L1490.0 2281.7 L1492.0 2281.3 L1494.0 2280.8 L1496.0 2280.4 L1498.0 2279.9 L1500.0 2279.5 L1502.0 2279.0 L1504.0 2278.5 L1506.0 2278.1 L1508.0 2277.6 L1510.0 2277.0 L1512.0 2276.5 L1514.0 2276.0 L1516.0 2275.5 L1518.0 2274.9 L1520.0 2274.4 L1522.0 2273.8 L1524.0 2273.3 L1526.0 2272.7 L1528.0 2272.1 L1530.0 2271.5 L1532.0 2270.9 L1534.0 2270.3 L1536.0 2269.7 L1538.0 2269.1 L1540.0 2268.4 L1542.0 2267.8 L1544.0 2267.2 L1546.0 2266.5 L1548.0 2265.9 L1550.0 2265.2 L1552.0 2264.6 L1554.0 2263.9 L1556.0 2263.2 L1558.0 2262.6 L1560.0 2261.9 L1562.0 2261.2 L1564.0 2260.6 L1566.0 2259.9 L1568.0 2259.2 L1570.0 2258.6 L1572.0 2257.9 L1574.0 2257.2 L1576.0 2256.5 L1578.0 2255.9 L1580.0 2255.2 L1582.0 2254.5 L1584.0 2253.9 L1586.0 2253.2 L1588.0 2252.6 L1590.0 2251.9 L1592.0 2251.3 L1594.0 2250.7 L1596.0 2250.0 L1598.0 2249.4 L1600.0 2248.8 L1602.0 2248.2 L1604.0 2247.6 L1606.0 2247.0 L1608.0 2246.4 L1610.0 2245.9 L1612.0 2245.3 L1614.0 2244.8 L1616.0 2244.2 L1618.0 2243.7 L1620.0 2243.2 L1622.0 2242.7 L1624.0 2242.2 L1626.0 2241.7 L1628.0 2241.2 L1630.0 2240.8 L1632.0 2240.3 L1634.0 2239.9 L1636.0 2239.5 L1638.0 2239.1 L1640.0 2238.7 L1642.0 2238.3 L1644.0 2238.0 L1646.0 2237.6 L1648.0 2237.3 L1650.0 2236.9 L1652.0 2236.6 L1654.0 2236.3 L1656.0 2236.0 L1658.0 2235.8 L1660.0 2235.5 L1662.0 2235.2 L1664.0 2235.0 L1666.0 2234.8 L1668.0 2234.5 L1670.0 2234.3 L1672.0 2234.1 L1674.0 2234.0 L1676.0 2233.8 L1678.0 2233.6 L1680.0 2233.5 L1682.0 2233.4 L1684.0 2233.3 L1686.0 2233.1 L1688.0 2233.0 L1690.0 2233.0 L1692.0 2232.9 L1694.0 2232.8 L1696.0 2232.7 L1698.0 2232.6 L1700.0 2232.6 L1702.0 2232.5 L1704.0 2232.4 L1706.0 2232.3 L1708.0 2232.2 L1710.0 2232.1 L1712.0 2232.0 L1714.0 2231.9 L1716.0 2231.7 L1718.0 2231.6 L1720.0 2231.4 L1722.0 2231.2 L1724.0 2231.0 L1726.0 2230.7 L1728.0 2230.4 L1730.0 2230.1 L1732.0 2229.8 L1734.0 2229.4 L1736.0 2229.0 L1738.0 2228.6 L1740.0 2228.1 L1742.0 2227.6 L1744.0 2227.1 L1746.0 2226.5 L1748.0 2225.8 L1750.0 2225.1 L1752.0 2224.4 L1754.0 2223.6 L1756.0 2222.7 L1758.0 2221.8 L1760.0 2220.9 L1762.0 2219.9 L1764.0 2218.8 L1766.0 2217.6 L1768.0 2216.4 L1770.0 2215.2 L1772.0 2213.9 L1774.0 2212.5 L1776.0 2211.0 L1778.0 2209.5 L1780.0 2207.9 L1782.0 2206.2 L1784.0 2204.5 L1786.0 2202.7 L1788.0 2200.8 L1790.0 2198.9 L1792.0 2196.9 L1794.0 2194.8 L1796.0 2192.7 L1798.0 2190.5 L1800.0 2188.2 L1802.0 2185.8 L1804.0 2183.4 L1806.0 2180.9 L1808.0 2178.4 L1810.0 2175.8 L1812.0 2173.1 L1814.0 2170.4 L1816.0 2167.6 L1818.0 2164.7 L1820.0 2161.8 L1822.0 2158.8 L1824.0 2155.8 L1826.0 2152.7 L1828.0 2149.6 L1830.0 2146.5 L1832.0 2143.2 L1834.0 2140.0 L1836.0 2136.7 L1838.0 2133.4 L1840.0 2130.0 L1842.0 2126.6 L1844.0 2123.2 L1846.0 2119.8 L1848.0 2116.4 L1850.0 2112.9 L1852.0 2109.4 L1854.0 2105.9 L1856.0 2102.4 L1858.0 2098.9 L1860.0 2095.4 L1862.0 2091.9 L1864.0 2088.5 L1866.0 2085.0 L1868.0 2081.6 L1870.0 2078.1 L1872.0 2074.8 L1874.0 2071.4 L1876.0 2068.1 L1878.0 2064.8 L1880.0 2061.5 L1882.0 2058.3 L1884.0 2055.2 L1886.0 2052.1 L1888.0 2049.1 L1890.0 2046.1 L1892.0 2043.2 L1894.0 2040.4 L1896.0 2037.6 L1898.0 2034.9 L1900.0 2032.4 L1902.0 2029.8 L1904.0 2027.4 L1906.0 2025.1 L1908.0 2022.9 L1910.0 2020.8 L1912.0 2018.7 L1914.0 2016.8 L1916.0 2015.0 L1918.0 2013.3 L1920.0 2011.7 L1922.0 2010.2 L1924.0 2008.9 L1926.0 2007.6 L1928.0 2006.5 L1930.0 2005.5 L1932.0 2004.7 L1934.0 2003.9 L1936.0 2003.3 L1938.0 2002.9 L1940.0 2002.5 L1942.0 2002.3 L1944.0 2002.2 L1946.0 2002.2 L1948.0 2002.4 L1950.0 2002.7 L1952.0 2003.2 L1954.0 2003.8 L1956.0 2004.5 L1958.0 2005.4 L1960.0 2006.4 L1962.0 2007.6 L1964.0 2008.8 L1966.0 2010.2 L1968.0 2011.8 L1970.0 2013.5 L1972.0 2015.3 L1974.0 2017.2 L1976.0 2019.2 L1978.0 2021.4 L1980.0 2023.6 L1982.0 2026.0 L1984.0 2028.5 L1986.0 2031.1 L1988.0 2033.8 L1990.0 2036.7 L1992.0 2039.6 L1994.0 2042.6 L1996.0 2045.6 L1998.0 2048.8 L2000.0 2052.1 L2002.0 2055.4 L2004.0 2058.8 L2006.0 2062.3 L2008.0 2065.8 L2010.0 2069.4 L2012.0 2073.1 L2014.0 2076.8 L2016.0 2080.6 L2018.0 2084.4 L2020.0 2088.2 L2022.0 2092.1 L2024.0 2096.0 L2026.0 2099.9 L2028.0 2103.9 L2030.0 2107.9 L2032.0 2111.9 L2034.0 2115.9 L2036.0 2119.9 L2038.0 2123.9 L2040.0 2127.9 L2042.0 2132.0 L2044.0 2136.0 L2046.0 2140.0 L2048.0 2144.0 L2050.0 2147.9 L2052.0 2151.9 L2054.0 2155.8 L2056.0 2159.7 L2058.0 2163.5 L2060.0 2167.4 L2062.0 2171.2 L2064.0 2174.9 L2066.0 2178.7 L2068.0 2182.3 L2070.0 2186.0 L2072.0 2189.6 L2074.0 2193.1 L2076.0 2196.6 L2078.0 2200.0 L2080.0 2203.4 L2082.0 2206.7 L2084.0 2210.0 L2086.0 2213.2 L2088.0 2216.4 L2090.0 2219.4 L2092.0 2222.5 L2094.0 2225.5 L2096.0 2228.4 L2098.0 2231.2 L2100.0 2234.0 L2102.0 2236.7 L2104.0 2239.4 L2106.0 2242.0 L2108.0 2244.5 L2110.0 2247.0 L2112.0 2249.4 L2114.0 2251.7 L2116.0 2254.0 L2118.0 2256.2 L2120.0 2258.4 L2122.0 2260.5 L2124.0 2262.5 L2126.0 2264.5 L2128.0 2266.4 L2130.0 2268.3 L2132.0 2270.0 L2134.0 2271.8 L2136.0 2273.5 L2138.0 2275.1 L2140.0 2276.7 L2142.0 2278.2 L2144.0 2279.7 L2146.0 2281.1 L2148.0 2282.4 L2150.0 2283.8 L2152.0 2285.0 L2154.0 2286.3 L2156.0 2287.4 L2158.0 2288.6 L2160.0 2289.6 L2162.0 2290.7 L2164.0 2291.7 L2166.0 2292.7 L2168.0 2293.6 L2170.0 2294.5 L2172.0 2295.3 L2174.0 2296.1 L2176.0 2296.9 L2178.0 2297.7 L2180.0 2298.4 L2182.0 2299.1 L2184.0 2299.7 L2186.0 2300.3 L2188.0 2300.9 L2190.0 2301.5 L2192.0 2302.0 L2194.0 2302.6 L2196.0 2303.1 L2198.0 2303.5 L2200.0 2304.0 L2202.0 2304.4 L2204.0 2304.8 L2206.0 2305.2 L2208.0 2305.6 L2210.0 2305.9 L2212.0 2306.2 L2214.0 2306.6 L2216.0 2306.9 L2218.0 2307.1 L2220.0 2307.4 L2222.0 2307.7 L2224.0 2307.9 L2226.0 2308.1 L2228.0 2308.4 L2230.0 2308.6 L2232.0 2308.8 L2234.0 2308.9 L2236.0 2309.1 L2238.0 2309.3 L2240.0 2309.4 L2242.0 2309.6 L2244.0 2309.7 L2246.0 2309.9 L2248.0 2310.0 L2250.0 2310.1 L2252.0 2310.2 L2254.0 2310.3 L2256.0 2310.4 L2258.0 2310.5 L2260.0 2310.6 L2262.0 2310.7 L2264.0 2310.8 L2266.0 2310.9 L2268.0 2310.9 L2270.0 2311.0 L2272.0 2311.1 L2274.0 2311.1" fill="none" stroke="#1f1ff0" stroke-width="3.8" stroke-linejoin="round" stroke-linecap="round" />
<path d="M1326.0 2293.6 L1328.0 2293.6 L1330.0 2293.6 L1332.0 2293.6 L1334.0 2293.6 L1336.0 2293.6 L1338.0 2293.6 L1340.0 2293.6 L1342.0 2293.6 L1344.0 2293.6 L1346.0 2293.6 L1348.0 2293.6 L1350.0 2293.6 L1352.0 2293.6 L1354.0 2293.6 L1356.0 2293.6 L1358.0 2293.6 L1360.0 2293.6 L1362.0 2293.6 L1364.0 2293.6 L1366.0 2293.6 L1368.0 2293.6 L1370.0 2293.6 L1372.0 2293.6 L1374.0 2293.6 L1376.0 2293.6 L1378.0 2293.6 L1380.0 2293.6 L1382.0 2293.6 L1384.0 2293.6 L1386.0 2293.6 L1388.0 2293.6 L1390.0 2293.6 L1392.0 2293.6 L1394.0 2293.6 L1396.0 2293.6 L1398.0 2293.6 L1400.0 2293.6 L1402.0 2293.6 L1404.0 2293.7 L1406.0 2293.7 L1408.0 2293.7 L1410.0 2293.7 L1412.0 2293.7 L1414.0 2293.7 L1416.0 2293.7 L1418.0 2293.7 L1420.0 2293.7 L1422.0 2293.7 L1424.0 2293.7 L1426.0 2293.7 L1428.0 2293.7 L1430.0 2293.7 L1432.0 2293.7 L1434.0 2293.7 L1436.0 2293.7 L1438.0 2293.7 L1440.0 2293.7 L1442.0 2293.7 L1444.0 2293.7 L1446.0 2293.7 L1448.0 2293.7 L1450.0 2293.7 L1452.0 2293.7 L1454.0 2293.7 L1456.0 2293.7 L1458.0 2293.7 L1460.0 2293.7 L1462.0 2293.7 L1464.0 2293.7 L1466.0 2293.7 L1468.0 2293.7 L1470.0 2293.7 L1472.0 2293.7 L1474.0 2293.7 L1476.0 2293.7 L1478.0 2293.7 L1480.0 2293.7 L1482.0 2293.7 L1484.0 2293.8 L1486.0 2293.8 L1488.0 2293.8 L1490.0 2293.8 L1492.0 2293.8 L1494.0 2293.8 L1496.0 2293.8 L1498.0 2293.8 L1500.0 2293.8 L1502.0 2293.8 L1504.0 2293.8 L1506.0 2293.8 L1508.0 2293.8 L1510.0 2293.8 L1512.0 2293.8 L1514.0 2293.8 L1516.0 2293.8 L1518.0 2293.8 L1520.0 2293.8 L1522.0 2293.8 L1524.0 2293.9 L1526.0 2293.9 L1528.0 2293.9 L1530.0 2293.9 L1532.0 2293.9 L1534.0 2293.9 L1536.0 2293.9 L1538.0 2293.9 L1540.0 2293.9 L1542.0 2293.9 L1544.0 2293.9 L1546.0 2293.9 L1548.0 2293.9 L1550.0 2294.0 L1552.0 2294.0 L1554.0 2294.0 L1556.0 2294.0 L1558.0 2294.0 L1560.0 2294.0 L1562.0 2294.0 L1564.0 2294.0 L1566.0 2294.0 L1568.0 2294.0 L1570.0 2294.1 L1572.0 2294.1 L1574.0 2294.1 L1576.0 2294.1 L1578.0 2294.1 L1580.0 2294.1 L1582.0 2294.1 L1584.0 2294.1 L1586.0 2294.2 L1588.0 2294.2 L1590.0 2294.2 L1592.0 2294.2 L1594.0 2294.2 L1596.0 2294.2 L1598.0 2294.2 L1600.0 2294.3 L1602.0 2294.3 L1604.0 2294.3 L1606.0 2294.3 L1608.0 2294.3 L1610.0 2294.3 L1612.0 2294.3 L1614.0 2294.4 L1616.0 2294.4 L1618.0 2294.4 L1620.0 2294.4 L1622.0 2294.4 L1624.0 2294.5 L1626.0 2294.5 L1628.0 2294.5 L1630.0 2294.5 L1632.0 2294.5 L1634.0 2294.6 L1636.0 2294.6 L1638.0 2294.6 L1640.0 2294.6 L1642.0 2294.6 L1644.0 2294.7 L1646.0 2294.7 L1648.0 2294.7 L1650.0 2294.7 L1652.0 2294.8 L1654.0 2294.8 L1656.0 2294.8 L1658.0 2294.8 L1660.0 2294.9 L1662.0 2294.9 L1664.0 2294.9 L1666.0 2294.9 L1668.0 2295.0 L1670.0 2295.0 L1672.0 2295.0 L1674.0 2295.0 L1676.0 2295.1 L1678.0 2295.1 L1680.0 2295.1 L1682.0 2295.2 L1684.0 2295.2 L1686.0 2295.2 L1688.0 2295.2 L1690.0 2295.3 L1692.0 2295.3 L1694.0 2295.3 L1696.0 2295.4 L1698.0 2295.4 L1700.0 2295.4 L1702.0 2295.5 L1704.0 2295.5 L1706.0 2295.6 L1708.0 2295.6 L1710.0 2295.6 L1712.0 2295.7 L1714.0 2295.7 L1716.0 2295.7 L1718.0 2295.8 L1720.0 2295.8 L1722.0 2295.9 L1724.0 2295.9 L1726.0 2295.9 L1728.0 2296.0 L1730.0 2296.0 L1732.0 2296.1 L1734.0 2296.1 L1736.0 2296.1 L1738.0 2296.2 L1740.0 2296.2 L1742.0 2296.3 L1744.0 2296.3 L1746.0 2296.4 L1748.0 2296.4 L1750.0 2296.5 L1752.0 2296.5 L1754.0 2296.5 L1756.0 2296.6 L1758.0 2296.6 L1760.0 2296.7 L1762.0 2296.7 L1764.0 2296.8 L1766.0 2296.8 L1768.0 2296.9 L1770.0 2296.9 L1772.0 2297.0 L1774.0 2297.0 L1776.0 2297.1 L1778.0 2297.2 L1780.0 2297.2 L1782.0 2297.3 L1784.0 2297.3 L1786.0 2297.4 L1788.0 2297.4 L1790.0 2297.5 L1792.0 2297.5 L1794.0 2297.6 L1796.0 2297.7 L1798.0 2297.7 L1800.0 2297.8 L1802.0 2297.8 L1804.0 2297.9 L1806.0 2298.0 L1808.0 2298.0 L1810.0 2298.1 L1812.0 2298.1 L1814.0 2298.2 L1816.0 2298.3 L1818.0 2298.3 L1820.0 2298.4 L1822.0 2298.5 L1824.0 2298.5 L1826.0 2298.6 L1828.0 2298.6 L1830.0 2298.7 L1832.0 2298.8 L1834.0 2298.8 L1836.0 2298.9 L1838.0 2299.0 L1840.0 2299.0 L1842.0 2299.1 L1844.0 2299.2 L1846.0 2299.3 L1848.0 2299.3 L1850.0 2299.4 L1852.0 2299.5 L1854.0 2299.5 L1856.0 2299.6 L1858.0 2299.7 L1860.0 2299.7 L1862.0 2299.8 L1864.0 2299.9 L1866.0 2300.0 L1868.0 2300.0 L1870.0 2300.1 L1872.0 2300.2 L1874.0 2300.3 L1876.0 2300.3 L1878.0 2300.4 L1880.0 2300.5 L1882.0 2300.5 L1884.0 2300.6 L1886.0 2300.7 L1888.0 2300.8 L1890.0 2300.9 L1892.0 2300.9 L1894.0 2301.0 L1896.0 2301.1 L1898.0 2301.2 L1900.0 2301.2 L1902.0 2301.3 L1904.0 2301.4 L1906.0 2301.5 L1908.0 2301.5 L1910.0 2301.6 L1912.0 2301.7 L1914.0 2301.8 L1916.0 2301.9 L1918.0 2301.9 L1920.0 2302.0 L1922.0 2302.1 L1924.0 2302.2 L1926.0 2302.2 L1928.0 2302.3 L1930.0 2302.4 L1932.0 2302.5 L1934.0 2302.6 L1936.0 2302.6 L1938.0 2302.7 L1940.0 2302.8 L1942.0 2302.9 L1944.0 2303.0 L1946.0 2303.0 L1948.0 2303.1 L1950.0 2303.2 L1952.0 2303.3 L1954.0 2303.4 L1956.0 2303.4 L1958.0 2303.5 L1960.0 2303.6 L1962.0 2303.7 L1964.0 2303.8 L1966.0 2303.8 L1968.0 2303.9 L1970.0 2304.0 L1972.0 2304.1 L1974.0 2304.1 L1976.0 2304.2 L1978.0 2304.3 L1980.0 2304.4 L1982.0 2304.5 L1984.0 2304.5 L1986.0 2304.6 L1988.0 2304.7 L1990.0 2304.8 L1992.0 2304.8 L1994.0 2304.9 L1996.0 2305.0 L1998.0 2305.1 L2000.0 2305.2 L2002.0 2305.2 L2004.0 2305.3 L2006.0 2305.4 L2008.0 2305.5 L2010.0 2305.5 L2012.0 2305.6 L2014.0 2305.7 L2016.0 2305.8 L2018.0 2305.8 L2020.0 2305.9 L2022.0 2306.0 L2024.0 2306.0 L2026.0 2306.1 L2028.0 2306.2 L2030.0 2306.3 L2032.0 2306.3 L2034.0 2306.4 L2036.0 2306.5 L2038.0 2306.6 L2040.0 2306.6 L2042.0 2306.7 L2044.0 2306.8 L2046.0 2306.8 L2048.0 2306.9 L2050.0 2307.0 L2052.0 2307.0 L2054.0 2307.1 L2056.0 2307.2 L2058.0 2307.2 L2060.0 2307.3 L2062.0 2307.4 L2064.0 2307.4 L2066.0 2307.5 L2068.0 2307.6 L2070.0 2307.6 L2072.0 2307.7 L2074.0 2307.8 L2076.0 2307.8 L2078.0 2307.9 L2080.0 2307.9 L2082.0 2308.0 L2084.0 2308.1 L2086.0 2308.1 L2088.0 2308.2 L2090.0 2308.2 L2092.0 2308.3 L2094.0 2308.4 L2096.0 2308.4 L2098.0 2308.5 L2100.0 2308.5 L2102.0 2308.6 L2104.0 2308.7 L2106.0 2308.7 L2108.0 2308.8 L2110.0 2308.8 L2112.0 2308.9 L2114.0 2308.9 L2116.0 2309.0 L2118.0 2309.0 L2120.0 2309.1 L2122.0 2309.1 L2124.0 2309.2 L2126.0 2309.2 L2128.0 2309.3 L2130.0 2309.3 L2132.0 2309.4 L2134.0 2309.4 L2136.0 2309.5 L2138.0 2309.5 L2140.0 2309.6 L2142.0 2309.6 L2144.0 2309.7 L2146.0 2309.7 L2148.0 2309.8 L2150.0 2309.8 L2152.0 2309.9 L2154.0 2309.9 L2156.0 2309.9 L2158.0 2310.0 L2160.0 2310.0 L2162.0 2310.1 L2164.0 2310.1 L2166.0 2310.1 L2168.0 2310.2 L2170.0 2310.2 L2172.0 2310.3 L2174.0 2310.3 L2176.0 2310.3 L2178.0 2310.4 L2180.0 2310.4 L2182.0 2310.5 L2184.0 2310.5 L2186.0 2310.5 L2188.0 2310.6 L2190.0 2310.6 L2192.0 2310.6 L2194.0 2310.7 L2196.0 2310.7 L2198.0 2310.7 L2200.0 2310.8 L2202.0 2310.8 L2204.0 2310.8 L2206.0 2310.9 L2208.0 2310.9 L2210.0 2310.9 L2212.0 2310.9 L2214.0 2311.0 L2216.0 2311.0 L2218.0 2311.0 L2220.0 2311.1 L2222.0 2311.1 L2224.0 2311.1 L2226.0 2311.1 L2228.0 2311.2 L2230.0 2311.2 L2232.0 2311.2 L2234.0 2311.2 L2236.0 2311.3 L2238.0 2311.3 L2240.0 2311.3 L2242.0 2311.3 L2244.0 2311.4 L2246.0 2311.4 L2248.0 2311.4 L2250.0 2311.4 L2252.0 2311.5 L2254.0 2311.5 L2256.0 2311.5 L2258.0 2311.5 L2260.0 2311.5 L2262.0 2311.6 L2264.0 2311.6 L2266.0 2311.6 L2268.0 2311.6 L2270.0 2311.6 L2272.0 2311.7 L2274.0 2311.7" fill="none" stroke="#666" stroke-width="3" stroke-linejoin="round" stroke-linecap="round" stroke-dasharray="7 5"/>
<path d="M1326.0 2293.6 L1328.0 2293.6 L1330.0 2293.6 L1332.0 2293.6 L1334.0 2293.6 L1336.0 2293.6 L1338.0 2293.6 L1340.0 2293.6 L1342.0 2293.6 L1344.0 2293.6 L1346.0 2293.6 L1348.0 2293.6 L1350.0 2293.6 L1352.0 2293.6 L1354.0 2293.6 L1356.0 2293.6 L1358.0 2293.6 L1360.0 2293.6 L1362.0 2293.6 L1364.0 2293.6 L1366.0 2293.6 L1368.0 2293.6 L1370.0 2293.6 L1372.0 2293.6 L1374.0 2293.6 L1376.0 2293.6 L1378.0 2293.6 L1380.0 2293.6 L1382.0 2293.6 L1384.0 2293.6 L1386.0 2293.6 L1388.0 2293.6 L1390.0 2293.6 L1392.0 2293.6 L1394.0 2293.6 L1396.0 2293.6 L1398.0 2293.6 L1400.0 2293.6 L1402.0 2293.6 L1404.0 2293.7 L1406.0 2293.7 L1408.0 2293.7 L1410.0 2293.7 L1412.0 2293.7 L1414.0 2293.7 L1416.0 2293.7 L1418.0 2293.7 L1420.0 2293.7 L1422.0 2293.7 L1424.0 2293.7 L1426.0 2293.7 L1428.0 2293.7 L1430.0 2293.7 L1432.0 2293.7 L1434.0 2293.7 L1436.0 2293.7 L1438.0 2293.7 L1440.0 2293.7 L1442.0 2293.7 L1444.0 2293.7 L1446.0 2293.7 L1448.0 2293.7 L1450.0 2293.7 L1452.0 2293.7 L1454.0 2293.7 L1456.0 2293.7 L1458.0 2293.7 L1460.0 2293.7 L1462.0 2293.7 L1464.0 2293.7 L1466.0 2293.7 L1468.0 2293.7 L1470.0 2293.7 L1472.0 2293.7 L1474.0 2293.7 L1476.0 2293.7 L1478.0 2293.7 L1480.0 2293.7 L1482.0 2293.7 L1484.0 2293.7 L1486.0 2293.8 L1488.0 2293.8 L1490.0 2293.8 L1492.0 2293.8 L1494.0 2293.8 L1496.0 2293.8 L1498.0 2293.8 L1500.0 2293.8 L1502.0 2293.8 L1504.0 2293.8 L1506.0 2293.8 L1508.0 2293.8 L1510.0 2293.8 L1512.0 2293.8 L1514.0 2293.8 L1516.0 2293.8 L1518.0 2293.8 L1520.0 2293.8 L1522.0 2293.8 L1524.0 2293.8 L1526.0 2293.8 L1528.0 2293.9 L1530.0 2293.9 L1532.0 2293.9 L1534.0 2293.9 L1536.0 2293.9 L1538.0 2293.9 L1540.0 2293.9 L1542.0 2293.9 L1544.0 2293.9 L1546.0 2293.9 L1548.0 2293.9 L1550.0 2293.9 L1552.0 2293.9 L1554.0 2293.9 L1556.0 2293.9 L1558.0 2293.9 L1560.0 2293.9 L1562.0 2293.9 L1564.0 2293.9 L1566.0 2293.9 L1568.0 2293.9 L1570.0 2293.9 L1572.0 2293.9 L1574.0 2293.9 L1576.0 2293.9 L1578.0 2293.9 L1580.0 2293.9 L1582.0 2293.9 L1584.0 2293.9 L1586.0 2293.9 L1588.0 2293.9 L1590.0 2293.9 L1592.0 2293.9 L1594.0 2293.9 L1596.0 2293.9 L1598.0 2293.9 L1600.0 2293.9 L1602.0 2293.8 L1604.0 2293.8 L1606.0 2293.8 L1608.0 2293.8 L1610.0 2293.7 L1612.0 2293.7 L1614.0 2293.7 L1616.0 2293.7 L1618.0 2293.6 L1620.0 2293.6 L1622.0 2293.5 L1624.0 2293.5 L1626.0 2293.4 L1628.0 2293.4 L1630.0 2293.3 L1632.0 2293.2 L1634.0 2293.2 L1636.0 2293.1 L1638.0 2293.0 L1640.0 2292.9 L1642.0 2292.8 L1644.0 2292.7 L1646.0 2292.6 L1648.0 2292.5 L1650.0 2292.4 L1652.0 2292.2 L1654.0 2292.1 L1656.0 2291.9 L1658.0 2291.8 L1660.0 2291.6 L1662.0 2291.4 L1664.0 2291.2 L1666.0 2291.0 L1668.0 2290.8 L1670.0 2290.5 L1672.0 2290.3 L1674.0 2290.0 L1676.0 2289.7 L1678.0 2289.4 L1680.0 2289.1 L1682.0 2288.8 L1684.0 2288.4 L1686.0 2288.1 L1688.0 2287.7 L1690.0 2287.3 L1692.0 2286.8 L1694.0 2286.4 L1696.0 2285.9 L1698.0 2285.4 L1700.0 2284.9 L1702.0 2284.3 L1704.0 2283.7 L1706.0 2283.1 L1708.0 2282.5 L1710.0 2281.8 L1712.0 2281.1 L1714.0 2280.4 L1716.0 2279.6 L1718.0 2278.8 L1720.0 2278.0 L1722.0 2277.1 L1724.0 2276.2 L1726.0 2275.3 L1728.0 2274.3 L1730.0 2273.2 L1732.0 2272.2 L1734.0 2271.1 L1736.0 2269.9 L1738.0 2268.7 L1740.0 2267.5 L1742.0 2266.2 L1744.0 2264.8 L1746.0 2263.5 L1748.0 2262.0 L1750.0 2260.5 L1752.0 2259.0 L1754.0 2257.4 L1756.0 2255.8 L1758.0 2254.1 L1760.0 2252.3 L1762.0 2250.5 L1764.0 2248.7 L1766.0 2246.7 L1768.0 2244.8 L1770.0 2242.7 L1772.0 2240.7 L1774.0 2238.5 L1776.0 2236.3 L1778.0 2234.0 L1780.0 2231.7 L1782.0 2229.3 L1784.0 2226.9 L1786.0 2224.4 L1788.0 2221.8 L1790.0 2219.2 L1792.0 2216.5 L1794.0 2213.8 L1796.0 2211.0 L1798.0 2208.2 L1800.0 2205.3 L1802.0 2202.3 L1804.0 2199.3 L1806.0 2196.2 L1808.0 2193.1 L1810.0 2190.0 L1812.0 2186.7 L1814.0 2183.5 L1816.0 2180.2 L1818.0 2176.8 L1820.0 2173.4 L1822.0 2170.0 L1824.0 2166.5 L1826.0 2163.0 L1828.0 2159.4 L1830.0 2155.8 L1832.0 2152.2 L1834.0 2148.6 L1836.0 2144.9 L1838.0 2141.2 L1840.0 2137.5 L1842.0 2133.8 L1844.0 2130.0 L1846.0 2126.3 L1848.0 2122.5 L1850.0 2118.8 L1852.0 2115.0 L1854.0 2111.2 L1856.0 2107.5 L1858.0 2103.7 L1860.0 2100.0 L1862.0 2096.3 L1864.0 2092.6 L1866.0 2088.9 L1868.0 2085.3 L1870.0 2081.6 L1872.0 2078.1 L1874.0 2074.5 L1876.0 2071.0 L1878.0 2067.6 L1880.0 2064.2 L1882.0 2060.8 L1884.0 2057.5 L1886.0 2054.3 L1888.0 2051.2 L1890.0 2048.1 L1892.0 2045.1 L1894.0 2042.1 L1896.0 2039.3 L1898.0 2036.5 L1900.0 2033.8 L1902.0 2031.2 L1904.0 2028.7 L1906.0 2026.3 L1908.0 2024.0 L1910.0 2021.8 L1912.0 2019.7 L1914.0 2017.7 L1916.0 2015.9 L1918.0 2014.1 L1920.0 2012.5 L1922.0 2010.9 L1924.0 2009.5 L1926.0 2008.3 L1928.0 2007.1 L1930.0 2006.1 L1932.0 2005.2 L1934.0 2004.4 L1936.0 2003.8 L1938.0 2003.3 L1940.0 2002.9 L1942.0 2002.6 L1944.0 2002.5 L1946.0 2002.5 L1948.0 2002.7 L1950.0 2003.0 L1952.0 2003.4 L1954.0 2004.0 L1956.0 2004.7 L1958.0 2005.6 L1960.0 2006.6 L1962.0 2007.7 L1964.0 2009.0 L1966.0 2010.4 L1968.0 2011.9 L1970.0 2013.6 L1972.0 2015.4 L1974.0 2017.3 L1976.0 2019.3 L1978.0 2021.5 L1980.0 2023.7 L1982.0 2026.1 L1984.0 2028.6 L1986.0 2031.2 L1988.0 2033.9 L1990.0 2036.7 L1992.0 2039.6 L1994.0 2042.6 L1996.0 2045.7 L1998.0 2048.9 L2000.0 2052.1 L2002.0 2055.4 L2004.0 2058.8 L2006.0 2062.3 L2008.0 2065.9 L2010.0 2069.5 L2012.0 2073.1 L2014.0 2076.8 L2016.0 2080.6 L2018.0 2084.4 L2020.0 2088.2 L2022.0 2092.1 L2024.0 2096.0 L2026.0 2099.9 L2028.0 2103.9 L2030.0 2107.9 L2032.0 2111.9 L2034.0 2115.9 L2036.0 2119.9 L2038.0 2123.9 L2040.0 2128.0 L2042.0 2132.0 L2044.0 2136.0 L2046.0 2140.0 L2048.0 2144.0 L2050.0 2147.9 L2052.0 2151.9 L2054.0 2155.8 L2056.0 2159.7 L2058.0 2163.5 L2060.0 2167.4 L2062.0 2171.2 L2064.0 2174.9 L2066.0 2178.7 L2068.0 2182.3 L2070.0 2186.0 L2072.0 2189.6 L2074.0 2193.1 L2076.0 2196.6 L2078.0 2200.0 L2080.0 2203.4 L2082.0 2206.7 L2084.0 2210.0 L2086.0 2213.2 L2088.0 2216.4 L2090.0 2219.4 L2092.0 2222.5 L2094.0 2225.5 L2096.0 2228.4 L2098.0 2231.2 L2100.0 2234.0 L2102.0 2236.7 L2104.0 2239.4 L2106.0 2242.0 L2108.0 2244.5 L2110.0 2247.0 L2112.0 2249.4 L2114.0 2251.7 L2116.0 2254.0 L2118.0 2256.2 L2120.0 2258.4 L2122.0 2260.5 L2124.0 2262.5 L2126.0 2264.5 L2128.0 2266.4 L2130.0 2268.3 L2132.0 2270.0 L2134.0 2271.8 L2136.0 2273.5 L2138.0 2275.1 L2140.0 2276.7 L2142.0 2278.2 L2144.0 2279.7 L2146.0 2281.1 L2148.0 2282.4 L2150.0 2283.8 L2152.0 2285.0 L2154.0 2286.3 L2156.0 2287.4 L2158.0 2288.6 L2160.0 2289.6 L2162.0 2290.7 L2164.0 2291.7 L2166.0 2292.7 L2168.0 2293.6 L2170.0 2294.5 L2172.0 2295.3 L2174.0 2296.1 L2176.0 2296.9 L2178.0 2297.7 L2180.0 2298.4 L2182.0 2299.1 L2184.0 2299.7 L2186.0 2300.3 L2188.0 2300.9 L2190.0 2301.5 L2192.0 2302.0 L2194.0 2302.6 L2196.0 2303.1 L2198.0 2303.5 L2200.0 2304.0 L2202.0 2304.4 L2204.0 2304.8 L2206.0 2305.2 L2208.0 2305.6 L2210.0 2305.9 L2212.0 2306.2 L2214.0 2306.6 L2216.0 2306.9 L2218.0 2307.1 L2220.0 2307.4 L2222.0 2307.7 L2224.0 2307.9 L2226.0 2308.1 L2228.0 2308.4 L2230.0 2308.6 L2232.0 2308.8 L2234.0 2308.9 L2236.0 2309.1 L2238.0 2309.3 L2240.0 2309.4 L2242.0 2309.6 L2244.0 2309.7 L2246.0 2309.9 L2248.0 2310.0 L2250.0 2310.1 L2252.0 2310.2 L2254.0 2310.3 L2256.0 2310.4 L2258.0 2310.5 L2260.0 2310.6 L2262.0 2310.7 L2264.0 2310.8 L2266.0 2310.9 L2268.0 2310.9 L2270.0 2311.0 L2272.0 2311.1 L2274.0 2311.1" fill="none" stroke="#f5a850" stroke-width="3.8" stroke-linejoin="round" stroke-linecap="round" stroke-dasharray="19 17"/>
<path d="M1326.0 2293.4 L1328.0 2293.4 L1330.0 2293.4 L1332.0 2293.4 L1334.0 2293.4 L1336.0 2293.4 L1338.0 2293.3 L1340.0 2293.3 L1342.0 2293.3 L1344.0 2293.3 L1346.0 2293.3 L1348.0 2293.2 L1350.0 2293.2 L1352.0 2293.2 L1354.0 2293.2 L1356.0 2293.1 L1358.0 2293.1 L1360.0 2293.1 L1362.0 2293.0 L1364.0 2293.0 L1366.0 2293.0 L1368.0 2292.9 L1370.0 2292.9 L1372.0 2292.8 L1374.0 2292.8 L1376.0 2292.8 L1378.0 2292.7 L1380.0 2292.6 L1382.0 2292.6 L1384.0 2292.5 L1386.0 2292.5 L1388.0 2292.4 L1390.0 2292.3 L1392.0 2292.3 L1394.0 2292.2 L1396.0 2292.1 L1398.0 2292.0 L1400.0 2291.9 L1402.0 2291.9 L1404.0 2291.8 L1406.0 2291.7 L1408.0 2291.6 L1410.0 2291.5 L1412.0 2291.3 L1414.0 2291.2 L1416.0 2291.1 L1418.0 2291.0 L1420.0 2290.8 L1422.0 2290.7 L1424.0 2290.6 L1426.0 2290.4 L1428.0 2290.3 L1430.0 2290.1 L1432.0 2289.9 L1434.0 2289.8 L1436.0 2289.6 L1438.0 2289.4 L1440.0 2289.2 L1442.0 2289.0 L1444.0 2288.8 L1446.0 2288.6 L1448.0 2288.3 L1450.0 2288.1 L1452.0 2287.9 L1454.0 2287.6 L1456.0 2287.4 L1458.0 2287.1 L1460.0 2286.8 L1462.0 2286.6 L1464.0 2286.3 L1466.0 2286.0 L1468.0 2285.7 L1470.0 2285.4 L1472.0 2285.0 L1474.0 2284.7 L1476.0 2284.4 L1478.0 2284.0 L1480.0 2283.6 L1482.0 2283.3 L1484.0 2282.9 L1486.0 2282.5 L1488.0 2282.1 L1490.0 2281.7 L1492.0 2281.3 L1494.0 2280.8 L1496.0 2280.4 L1498.0 2279.9 L1500.0 2279.5 L1502.0 2279.0 L1504.0 2278.5 L1506.0 2278.1 L1508.0 2277.6 L1510.0 2277.1 L1512.0 2276.5 L1514.0 2276.0 L1516.0 2275.5 L1518.0 2274.9 L1520.0 2274.4 L1522.0 2273.8 L1524.0 2273.3 L1526.0 2272.7 L1528.0 2272.1 L1530.0 2271.5 L1532.0 2270.9 L1534.0 2270.3 L1536.0 2269.7 L1538.0 2269.1 L1540.0 2268.5 L1542.0 2267.8 L1544.0 2267.2 L1546.0 2266.6 L1548.0 2265.9 L1550.0 2265.3 L1552.0 2264.6 L1554.0 2264.0 L1556.0 2263.3 L1558.0 2262.7 L1560.0 2262.0 L1562.0 2261.3 L1564.0 2260.7 L1566.0 2260.0 L1568.0 2259.3 L1570.0 2258.7 L1572.0 2258.0 L1574.0 2257.3 L1576.0 2256.7 L1578.0 2256.0 L1580.0 2255.4 L1582.0 2254.7 L1584.0 2254.1 L1586.0 2253.5 L1588.0 2252.8 L1590.0 2252.2 L1592.0 2251.6 L1594.0 2251.0 L1596.0 2250.4 L1598.0 2249.8 L1600.0 2249.2 L1602.0 2248.6 L1604.0 2248.1 L1606.0 2247.5 L1608.0 2247.0 L1610.0 2246.4 L1612.0 2245.9 L1614.0 2245.4 L1616.0 2244.9 L1618.0 2244.5 L1620.0 2244.0 L1622.0 2243.6 L1624.0 2243.1 L1626.0 2242.7 L1628.0 2242.3 L1630.0 2242.0 L1632.0 2241.6 L1634.0 2241.3 L1636.0 2241.0 L1638.0 2240.7 L1640.0 2240.4 L1642.0 2240.1 L1644.0 2239.9 L1646.0 2239.7 L1648.0 2239.5 L1650.0 2239.3 L1652.0 2239.2 L1654.0 2239.0 L1656.0 2238.9 L1658.0 2238.8 L1660.0 2238.8 L1662.0 2238.7 L1664.0 2238.7 L1666.0 2238.7 L1668.0 2238.7 L1670.0 2238.8 L1672.0 2238.9 L1674.0 2239.0 L1676.0 2239.1 L1678.0 2239.3 L1680.0 2239.5 L1682.0 2239.7 L1684.0 2240.0 L1686.0 2240.3 L1688.0 2240.6 L1690.0 2241.0 L1692.0 2241.3 L1694.0 2241.7 L1696.0 2242.2 L1698.0 2242.6 L1700.0 2243.1 L1702.0 2243.6 L1704.0 2244.2 L1706.0 2244.7 L1708.0 2245.3 L1710.0 2245.9 L1712.0 2246.5 L1714.0 2247.2 L1716.0 2247.8 L1718.0 2248.5 L1720.0 2249.2 L1722.0 2249.9 L1724.0 2250.6 L1726.0 2251.4 L1728.0 2252.1 L1730.0 2252.9 L1732.0 2253.7 L1734.0 2254.5 L1736.0 2255.3 L1738.0 2256.1 L1740.0 2256.9 L1742.0 2257.7 L1744.0 2258.5 L1746.0 2259.4 L1748.0 2260.2 L1750.0 2261.0 L1752.0 2261.9 L1754.0 2262.7 L1756.0 2263.6 L1758.0 2264.4 L1760.0 2265.2 L1762.0 2266.1 L1764.0 2266.9 L1766.0 2267.7 L1768.0 2268.6 L1770.0 2269.4 L1772.0 2270.2 L1774.0 2271.0 L1776.0 2271.8 L1778.0 2272.6 L1780.0 2273.4 L1782.0 2274.2 L1784.0 2274.9 L1786.0 2275.7 L1788.0 2276.4 L1790.0 2277.2 L1792.0 2277.9 L1794.0 2278.6 L1796.0 2279.3 L1798.0 2280.0 L1800.0 2280.7 L1802.0 2281.4 L1804.0 2282.0 L1806.0 2282.6 L1808.0 2283.3 L1810.0 2283.9 L1812.0 2284.5 L1814.0 2285.1 L1816.0 2285.7 L1818.0 2286.2 L1820.0 2286.8 L1822.0 2287.3 L1824.0 2287.8 L1826.0 2288.3 L1828.0 2288.8 L1830.0 2289.3 L1832.0 2289.8 L1834.0 2290.3 L1836.0 2290.7 L1838.0 2291.1 L1840.0 2291.6 L1842.0 2292.0 L1844.0 2292.4 L1846.0 2292.8 L1848.0 2293.1 L1850.0 2293.5 L1852.0 2293.9 L1854.0 2294.2 L1856.0 2294.5 L1858.0 2294.9 L1860.0 2295.2 L1862.0 2295.5 L1864.0 2295.8 L1866.0 2296.1 L1868.0 2296.3 L1870.0 2296.6 L1872.0 2296.9 L1874.0 2297.1 L1876.0 2297.4 L1878.0 2297.6 L1880.0 2297.8 L1882.0 2298.1 L1884.0 2298.3 L1886.0 2298.5 L1888.0 2298.7 L1890.0 2298.9 L1892.0 2299.1 L1894.0 2299.3 L1896.0 2299.4 L1898.0 2299.6 L1900.0 2299.8 L1902.0 2300.0 L1904.0 2300.1 L1906.0 2300.3 L1908.0 2300.4 L1910.0 2300.6 L1912.0 2300.7 L1914.0 2300.9 L1916.0 2301.0 L1918.0 2301.1 L1920.0 2301.3 L1922.0 2301.4 L1924.0 2301.5 L1926.0 2301.6 L1928.0 2301.8 L1930.0 2301.9 L1932.0 2302.0 L1934.0 2302.1 L1936.0 2302.2 L1938.0 2302.3 L1940.0 2302.4 L1942.0 2302.5 L1944.0 2302.6 L1946.0 2302.7 L1948.0 2302.8 L1950.0 2302.9 L1952.0 2303.0 L1954.0 2303.1 L1956.0 2303.2 L1958.0 2303.3 L1960.0 2303.4 L1962.0 2303.5 L1964.0 2303.6 L1966.0 2303.7 L1968.0 2303.8 L1970.0 2303.9 L1972.0 2304.0 L1974.0 2304.1 L1976.0 2304.1 L1978.0 2304.2 L1980.0 2304.3 L1982.0 2304.4 L1984.0 2304.5 L1986.0 2304.6 L1988.0 2304.6 L1990.0 2304.7 L1992.0 2304.8 L1994.0 2304.9 L1996.0 2305.0 L1998.0 2305.0 L2000.0 2305.1 L2002.0 2305.2 L2004.0 2305.3 L2006.0 2305.4 L2008.0 2305.4 L2010.0 2305.5 L2012.0 2305.6 L2014.0 2305.7 L2016.0 2305.7 L2018.0 2305.8 L2020.0 2305.9 L2022.0 2306.0 L2024.0 2306.0 L2026.0 2306.1 L2028.0 2306.2 L2030.0 2306.3 L2032.0 2306.3 L2034.0 2306.4 L2036.0 2306.5 L2038.0 2306.5 L2040.0 2306.6 L2042.0 2306.7 L2044.0 2306.8 L2046.0 2306.8 L2048.0 2306.9 L2050.0 2307.0 L2052.0 2307.0 L2054.0 2307.1 L2056.0 2307.2 L2058.0 2307.2 L2060.0 2307.3 L2062.0 2307.4 L2064.0 2307.4 L2066.0 2307.5 L2068.0 2307.6 L2070.0 2307.6 L2072.0 2307.7 L2074.0 2307.8 L2076.0 2307.8 L2078.0 2307.9 L2080.0 2307.9 L2082.0 2308.0 L2084.0 2308.1 L2086.0 2308.1 L2088.0 2308.2 L2090.0 2308.2 L2092.0 2308.3 L2094.0 2308.4 L2096.0 2308.4 L2098.0 2308.5 L2100.0 2308.5 L2102.0 2308.6 L2104.0 2308.7 L2106.0 2308.7 L2108.0 2308.8 L2110.0 2308.8 L2112.0 2308.9 L2114.0 2308.9 L2116.0 2309.0 L2118.0 2309.0 L2120.0 2309.1 L2122.0 2309.1 L2124.0 2309.2 L2126.0 2309.2 L2128.0 2309.3 L2130.0 2309.3 L2132.0 2309.4 L2134.0 2309.4 L2136.0 2309.5 L2138.0 2309.5 L2140.0 2309.6 L2142.0 2309.6 L2144.0 2309.7 L2146.0 2309.7 L2148.0 2309.8 L2150.0 2309.8 L2152.0 2309.9 L2154.0 2309.9 L2156.0 2309.9 L2158.0 2310.0 L2160.0 2310.0 L2162.0 2310.1 L2164.0 2310.1 L2166.0 2310.1 L2168.0 2310.2 L2170.0 2310.2 L2172.0 2310.3 L2174.0 2310.3 L2176.0 2310.3 L2178.0 2310.4 L2180.0 2310.4 L2182.0 2310.5 L2184.0 2310.5 L2186.0 2310.5 L2188.0 2310.6 L2190.0 2310.6 L2192.0 2310.6 L2194.0 2310.7 L2196.0 2310.7 L2198.0 2310.7 L2200.0 2310.8 L2202.0 2310.8 L2204.0 2310.8 L2206.0 2310.9 L2208.0 2310.9 L2210.0 2310.9 L2212.0 2310.9 L2214.0 2311.0 L2216.0 2311.0 L2218.0 2311.0 L2220.0 2311.1 L2222.0 2311.1 L2224.0 2311.1 L2226.0 2311.1 L2228.0 2311.2 L2230.0 2311.2 L2232.0 2311.2 L2234.0 2311.2 L2236.0 2311.3 L2238.0 2311.3 L2240.0 2311.3 L2242.0 2311.3 L2244.0 2311.4 L2246.0 2311.4 L2248.0 2311.4 L2250.0 2311.4 L2252.0 2311.5 L2254.0 2311.5 L2256.0 2311.5 L2258.0 2311.5 L2260.0 2311.5 L2262.0 2311.6 L2264.0 2311.6 L2266.0 2311.6 L2268.0 2311.6 L2270.0 2311.6 L2272.0 2311.7 L2274.0 2311.7" fill="none" stroke="#e050e0" stroke-width="3.5" stroke-linejoin="round" stroke-linecap="round" stroke-dasharray="22 9 8 9"/>
<line x1="2275" y1="2312" x2="2306" y2="2313" stroke="#b8b8ff" stroke-width="3"/>
<path d="M1326.0 2791.0 L1328.0 2791.0 L1330.0 2791.0 L1332.0 2790.9 L1334.0 2790.9 L1336.0 2790.9 L1338.0 2790.9 L1340.0 2790.9 L1342.0 2790.9 L1344.0 2790.8 L1346.0 2790.8 L1348.0 2790.8 L1350.0 2790.8 L1352.0 2790.7 L1354.0 2790.7 L1356.0 2790.7 L1358.0 2790.7 L1360.0 2790.6 L1362.0 2790.6 L1364.0 2790.5 L1366.0 2790.5 L1368.0 2790.5 L1370.0 2790.4 L1372.0 2790.4 L1374.0 2790.3 L1376.0 2790.3 L1378.0 2790.2 L1380.0 2790.2 L1382.0 2790.1 L1384.0 2790.0 L1386.0 2790.0 L1388.0 2789.9 L1390.0 2789.8 L1392.0 2789.7 L1394.0 2789.7 L1396.0 2789.6 L1398.0 2789.5 L1400.0 2789.4 L1402.0 2789.3 L1404.0 2789.2 L1406.0 2789.0 L1408.0 2788.9 L1410.0 2788.8 L1412.0 2788.7 L1414.0 2788.5 L1416.0 2788.4 L1418.0 2788.2 L1420.0 2788.1 L1422.0 2787.9 L1424.0 2787.8 L1426.0 2787.6 L1428.0 2787.4 L1430.0 2787.2 L1432.0 2787.0 L1434.0 2786.8 L1436.0 2786.6 L1438.0 2786.3 L1440.0 2786.1 L1442.0 2785.9 L1444.0 2785.6 L1446.0 2785.3 L1448.0 2785.1 L1450.0 2784.8 L1452.0 2784.5 L1454.0 2784.2 L1456.0 2783.9 L1458.0 2783.5 L1460.0 2783.2 L1462.0 2782.8 L1464.0 2782.5 L1466.0 2782.1 L1468.0 2781.7 L1470.0 2781.3 L1472.0 2780.9 L1474.0 2780.5 L1476.0 2780.0 L1478.0 2779.6 L1480.0 2779.1 L1482.0 2778.7 L1484.0 2778.2 L1486.0 2777.7 L1488.0 2777.2 L1490.0 2776.6 L1492.0 2776.1 L1494.0 2775.6 L1496.0 2775.0 L1498.0 2774.4 L1500.0 2773.8 L1502.0 2773.2 L1504.0 2772.6 L1506.0 2772.0 L1508.0 2771.3 L1510.0 2770.7 L1512.0 2770.0 L1514.0 2769.4 L1516.0 2768.7 L1518.0 2768.0 L1520.0 2767.3 L1522.0 2766.5 L1524.0 2765.8 L1526.0 2765.1 L1528.0 2764.3 L1530.0 2763.6 L1532.0 2762.8 L1534.0 2762.0 L1536.0 2761.2 L1538.0 2760.4 L1540.0 2759.6 L1542.0 2758.8 L1544.0 2758.0 L1546.0 2757.2 L1548.0 2756.4 L1550.0 2755.6 L1552.0 2754.7 L1554.0 2753.9 L1556.0 2753.1 L1558.0 2752.3 L1560.0 2751.4 L1562.0 2750.6 L1564.0 2749.8 L1566.0 2748.9 L1568.0 2748.1 L1570.0 2747.3 L1572.0 2746.4 L1574.0 2745.6 L1576.0 2744.8 L1578.0 2744.0 L1580.0 2743.2 L1582.0 2742.4 L1584.0 2741.6 L1586.0 2740.9 L1588.0 2740.1 L1590.0 2739.3 L1592.0 2738.6 L1594.0 2737.9 L1596.0 2737.2 L1598.0 2736.5 L1600.0 2735.8 L1602.0 2735.1 L1604.0 2734.4 L1606.0 2733.8 L1608.0 2733.2 L1610.0 2732.6 L1612.0 2732.0 L1614.0 2731.4 L1616.0 2730.8 L1618.0 2730.3 L1620.0 2729.8 L1622.0 2729.3 L1624.0 2728.8 L1626.0 2728.4 L1628.0 2728.0 L1630.0 2727.5 L1632.0 2727.2 L1634.0 2726.8 L1636.0 2726.4 L1638.0 2726.1 L1640.0 2725.8 L1642.0 2725.5 L1644.0 2725.3 L1646.0 2725.1 L1648.0 2724.8 L1650.0 2724.6 L1652.0 2724.5 L1654.0 2724.3 L1656.0 2724.2 L1658.0 2724.1 L1660.0 2724.0 L1662.0 2723.9 L1664.0 2723.9 L1666.0 2723.8 L1668.0 2723.8 L1670.0 2723.8 L1672.0 2723.8 L1674.0 2723.8 L1676.0 2723.9 L1678.0 2723.9 L1680.0 2724.0 L1682.0 2724.1 L1684.0 2724.2 L1686.0 2724.2 L1688.0 2724.3 L1690.0 2724.4 L1692.0 2724.5 L1694.0 2724.6 L1696.0 2724.7 L1698.0 2724.8 L1700.0 2724.9 L1702.0 2725.0 L1704.0 2725.1 L1706.0 2725.1 L1708.0 2725.2 L1710.0 2725.2 L1712.0 2725.3 L1714.0 2725.3 L1716.0 2725.3 L1718.0 2725.2 L1720.0 2725.2 L1722.0 2725.1 L1724.0 2725.0 L1726.0 2724.8 L1728.0 2724.7 L1730.0 2724.4 L1732.0 2724.2 L1734.0 2723.9 L1736.0 2723.6 L1738.0 2723.2 L1740.0 2722.8 L1742.0 2722.4 L1744.0 2721.9 L1746.0 2721.3 L1748.0 2720.7 L1750.0 2720.1 L1752.0 2719.3 L1754.0 2718.6 L1756.0 2717.8 L1758.0 2716.9 L1760.0 2715.9 L1762.0 2714.9 L1764.0 2713.8 L1766.0 2712.7 L1768.0 2711.5 L1770.0 2710.2 L1772.0 2708.9 L1774.0 2707.5 L1776.0 2706.0 L1778.0 2704.5 L1780.0 2702.8 L1782.0 2701.1 L1784.0 2699.4 L1786.0 2697.5 L1788.0 2695.6 L1790.0 2693.7 L1792.0 2691.6 L1794.0 2689.5 L1796.0 2687.3 L1798.0 2685.0 L1800.0 2682.7 L1802.0 2680.3 L1804.0 2677.8 L1806.0 2675.2 L1808.0 2672.6 L1810.0 2670.0 L1812.0 2667.2 L1814.0 2664.4 L1816.0 2661.5 L1818.0 2658.6 L1820.0 2655.6 L1822.0 2652.6 L1824.0 2649.5 L1826.0 2646.4 L1828.0 2643.2 L1830.0 2639.9 L1832.0 2636.7 L1834.0 2633.3 L1836.0 2630.0 L1838.0 2626.6 L1840.0 2623.2 L1842.0 2619.7 L1844.0 2616.3 L1846.0 2612.8 L1848.0 2609.3 L1850.0 2605.8 L1852.0 2602.2 L1854.0 2598.7 L1856.0 2595.2 L1858.0 2591.6 L1860.0 2588.1 L1862.0 2584.6 L1864.0 2581.1 L1866.0 2577.6 L1868.0 2574.2 L1870.0 2570.8 L1872.0 2567.4 L1874.0 2564.0 L1876.0 2560.7 L1878.0 2557.4 L1880.0 2554.2 L1882.0 2551.0 L1884.0 2547.9 L1886.0 2544.9 L1888.0 2541.9 L1890.0 2539.0 L1892.0 2536.1 L1894.0 2533.4 L1896.0 2530.7 L1898.0 2528.1 L1900.0 2525.6 L1902.0 2523.2 L1904.0 2520.8 L1906.0 2518.6 L1908.0 2516.5 L1910.0 2514.5 L1912.0 2512.6 L1914.0 2510.8 L1916.0 2509.2 L1918.0 2507.6 L1920.0 2506.2 L1922.0 2504.9 L1924.0 2503.7 L1926.0 2502.6 L1928.0 2501.7 L1930.0 2500.9 L1932.0 2500.2 L1934.0 2499.7 L1936.0 2499.3 L1938.0 2499.0 L1940.0 2498.9 L1942.0 2498.9 L1944.0 2499.0 L1946.0 2499.3 L1948.0 2499.7 L1950.0 2500.2 L1952.0 2500.9 L1954.0 2501.7 L1956.0 2502.6 L1958.0 2503.7 L1960.0 2504.9 L1962.0 2506.2 L1964.0 2507.6 L1966.0 2509.2 L1968.0 2510.9 L1970.0 2512.7 L1972.0 2514.6 L1974.0 2516.6 L1976.0 2518.8 L1978.0 2521.1 L1980.0 2523.4 L1982.0 2525.9 L1984.0 2528.5 L1986.0 2531.2 L1988.0 2533.9 L1990.0 2536.8 L1992.0 2539.7 L1994.0 2542.8 L1996.0 2545.9 L1998.0 2549.1 L2000.0 2552.3 L2002.0 2555.7 L2004.0 2559.1 L2006.0 2562.5 L2008.0 2566.0 L2010.0 2569.6 L2012.0 2573.2 L2014.0 2576.9 L2016.0 2580.6 L2018.0 2584.3 L2020.0 2588.1 L2022.0 2591.9 L2024.0 2595.8 L2026.0 2599.6 L2028.0 2603.5 L2030.0 2607.4 L2032.0 2611.3 L2034.0 2615.2 L2036.0 2619.1 L2038.0 2623.1 L2040.0 2627.0 L2042.0 2630.9 L2044.0 2634.8 L2046.0 2638.6 L2048.0 2642.5 L2050.0 2646.4 L2052.0 2650.2 L2054.0 2654.0 L2056.0 2657.7 L2058.0 2661.5 L2060.0 2665.2 L2062.0 2668.9 L2064.0 2672.5 L2066.0 2676.1 L2068.0 2679.6 L2070.0 2683.1 L2072.0 2686.6 L2074.0 2690.0 L2076.0 2693.4 L2078.0 2696.7 L2080.0 2699.9 L2082.0 2703.1 L2084.0 2706.3 L2086.0 2709.4 L2088.0 2712.4 L2090.0 2715.4 L2092.0 2718.3 L2094.0 2721.2 L2096.0 2724.0 L2098.0 2726.7 L2100.0 2729.4 L2102.0 2732.0 L2104.0 2734.6 L2106.0 2737.1 L2108.0 2739.5 L2110.0 2741.9 L2112.0 2744.2 L2114.0 2746.5 L2116.0 2748.7 L2118.0 2750.8 L2120.0 2752.9 L2122.0 2754.9 L2124.0 2756.9 L2126.0 2758.8 L2128.0 2760.7 L2130.0 2762.4 L2132.0 2764.2 L2134.0 2765.9 L2136.0 2767.5 L2138.0 2769.1 L2140.0 2770.6 L2142.0 2772.1 L2144.0 2773.5 L2146.0 2774.9 L2148.0 2776.2 L2150.0 2777.5 L2152.0 2778.7 L2154.0 2779.9 L2156.0 2781.0 L2158.0 2782.1 L2160.0 2783.2 L2162.0 2784.2 L2164.0 2785.2 L2166.0 2786.1 L2168.0 2787.0 L2170.0 2787.9 L2172.0 2788.7 L2174.0 2789.5 L2176.0 2790.3 L2178.0 2791.0 L2180.0 2791.7 L2182.0 2792.4 L2184.0 2793.0 L2186.0 2793.6 L2188.0 2794.2 L2190.0 2794.7 L2192.0 2795.3 L2194.0 2795.8 L2196.0 2796.3 L2198.0 2796.7 L2200.0 2797.2 L2202.0 2797.6 L2204.0 2798.0 L2206.0 2798.4 L2208.0 2798.7 L2210.0 2799.1 L2212.0 2799.4 L2214.0 2799.7 L2216.0 2800.0 L2218.0 2800.3 L2220.0 2800.6 L2222.0 2800.8 L2224.0 2801.1 L2226.0 2801.3 L2228.0 2801.5 L2230.0 2801.7 L2232.0 2801.9 L2234.0 2802.1 L2236.0 2802.3 L2238.0 2802.4 L2240.0 2802.6 L2242.0 2802.7 L2244.0 2802.9 L2246.0 2803.0 L2248.0 2803.1 L2250.0 2803.2 L2252.0 2803.4 L2254.0 2803.5 L2256.0 2803.6 L2258.0 2803.7 L2260.0 2803.7 L2262.0 2803.8 L2264.0 2803.9 L2266.0 2804.0 L2268.0 2804.1 L2270.0 2804.1 L2272.0 2804.2 L2274.0 2804.3 L2276.0 2804.3 L2278.0 2804.4 L2280.0 2804.4 L2282.0 2804.5 L2284.0 2804.5 L2286.0 2804.6 L2288.0 2804.6 L2290.0 2804.6 L2292.0 2804.7 L2294.0 2804.7 L2296.0 2804.7 L2298.0 2804.8 L2300.0 2804.8 L2302.0 2804.8 L2304.0 2804.9 L2306.0 2804.9" fill="none" stroke="#f01818" stroke-width="3.8" stroke-linejoin="round" stroke-linecap="round" />
<path d="M1326.0 2791.1 L1328.0 2791.1 L1330.0 2791.1 L1332.0 2791.1 L1334.0 2791.1 L1336.0 2791.1 L1338.0 2791.1 L1340.0 2791.1 L1342.0 2791.1 L1344.0 2791.1 L1346.0 2791.1 L1348.0 2791.1 L1350.0 2791.1 L1352.0 2791.1 L1354.0 2791.2 L1356.0 2791.2 L1358.0 2791.2 L1360.0 2791.2 L1362.0 2791.2 L1364.0 2791.2 L1366.0 2791.2 L1368.0 2791.2 L1370.0 2791.2 L1372.0 2791.2 L1374.0 2791.2 L1376.0 2791.2 L1378.0 2791.2 L1380.0 2791.2 L1382.0 2791.2 L1384.0 2791.2 L1386.0 2791.2 L1388.0 2791.2 L1390.0 2791.2 L1392.0 2791.2 L1394.0 2791.2 L1396.0 2791.2 L1398.0 2791.2 L1400.0 2791.2 L1402.0 2791.2 L1404.0 2791.2 L1406.0 2791.2 L1408.0 2791.2 L1410.0 2791.2 L1412.0 2791.2 L1414.0 2791.2 L1416.0 2791.2 L1418.0 2791.2 L1420.0 2791.2 L1422.0 2791.2 L1424.0 2791.2 L1426.0 2791.2 L1428.0 2791.2 L1430.0 2791.2 L1432.0 2791.2 L1434.0 2791.2 L1436.0 2791.2 L1438.0 2791.2 L1440.0 2791.2 L1442.0 2791.2 L1444.0 2791.2 L1446.0 2791.2 L1448.0 2791.2 L1450.0 2791.2 L1452.0 2791.2 L1454.0 2791.2 L1456.0 2791.2 L1458.0 2791.3 L1460.0 2791.3 L1462.0 2791.3 L1464.0 2791.3 L1466.0 2791.3 L1468.0 2791.3 L1470.0 2791.3 L1472.0 2791.3 L1474.0 2791.3 L1476.0 2791.3 L1478.0 2791.3 L1480.0 2791.3 L1482.0 2791.3 L1484.0 2791.3 L1486.0 2791.3 L1488.0 2791.3 L1490.0 2791.3 L1492.0 2791.3 L1494.0 2791.3 L1496.0 2791.3 L1498.0 2791.3 L1500.0 2791.3 L1502.0 2791.3 L1504.0 2791.4 L1506.0 2791.4 L1508.0 2791.4 L1510.0 2791.4 L1512.0 2791.4 L1514.0 2791.4 L1516.0 2791.4 L1518.0 2791.4 L1520.0 2791.4 L1522.0 2791.4 L1524.0 2791.4 L1526.0 2791.4 L1528.0 2791.4 L1530.0 2791.4 L1532.0 2791.4 L1534.0 2791.5 L1536.0 2791.5 L1538.0 2791.5 L1540.0 2791.5 L1542.0 2791.5 L1544.0 2791.5 L1546.0 2791.5 L1548.0 2791.5 L1550.0 2791.5 L1552.0 2791.5 L1554.0 2791.5 L1556.0 2791.5 L1558.0 2791.6 L1560.0 2791.6 L1562.0 2791.6 L1564.0 2791.6 L1566.0 2791.6 L1568.0 2791.6 L1570.0 2791.6 L1572.0 2791.6 L1574.0 2791.6 L1576.0 2791.7 L1578.0 2791.7 L1580.0 2791.7 L1582.0 2791.7 L1584.0 2791.7 L1586.0 2791.7 L1588.0 2791.7 L1590.0 2791.7 L1592.0 2791.7 L1594.0 2791.8 L1596.0 2791.8 L1598.0 2791.8 L1600.0 2791.8 L1602.0 2791.8 L1604.0 2791.8 L1606.0 2791.8 L1608.0 2791.9 L1610.0 2791.9 L1612.0 2791.9 L1614.0 2791.9 L1616.0 2791.9 L1618.0 2791.9 L1620.0 2792.0 L1622.0 2792.0 L1624.0 2792.0 L1626.0 2792.0 L1628.0 2792.0 L1630.0 2792.0 L1632.0 2792.1 L1634.0 2792.1 L1636.0 2792.1 L1638.0 2792.1 L1640.0 2792.1 L1642.0 2792.1 L1644.0 2792.2 L1646.0 2792.2 L1648.0 2792.2 L1650.0 2792.2 L1652.0 2792.2 L1654.0 2792.3 L1656.0 2792.3 L1658.0 2792.3 L1660.0 2792.3 L1662.0 2792.4 L1664.0 2792.4 L1666.0 2792.4 L1668.0 2792.4 L1670.0 2792.4 L1672.0 2792.5 L1674.0 2792.5 L1676.0 2792.5 L1678.0 2792.5 L1680.0 2792.6 L1682.0 2792.6 L1684.0 2792.6 L1686.0 2792.6 L1688.0 2792.7 L1690.0 2792.7 L1692.0 2792.7 L1694.0 2792.7 L1696.0 2792.8 L1698.0 2792.8 L1700.0 2792.8 L1702.0 2792.9 L1704.0 2792.9 L1706.0 2792.9 L1708.0 2792.9 L1710.0 2793.0 L1712.0 2793.0 L1714.0 2793.0 L1716.0 2793.1 L1718.0 2793.1 L1720.0 2793.1 L1722.0 2793.2 L1724.0 2793.2 L1726.0 2793.2 L1728.0 2793.3 L1730.0 2793.3 L1732.0 2793.3 L1734.0 2793.4 L1736.0 2793.4 L1738.0 2793.4 L1740.0 2793.5 L1742.0 2793.5 L1744.0 2793.5 L1746.0 2793.6 L1748.0 2793.6 L1750.0 2793.6 L1752.0 2793.7 L1754.0 2793.7 L1756.0 2793.7 L1758.0 2793.8 L1760.0 2793.8 L1762.0 2793.9 L1764.0 2793.9 L1766.0 2793.9 L1768.0 2794.0 L1770.0 2794.0 L1772.0 2794.1 L1774.0 2794.1 L1776.0 2794.1 L1778.0 2794.2 L1780.0 2794.2 L1782.0 2794.3 L1784.0 2794.3 L1786.0 2794.3 L1788.0 2794.4 L1790.0 2794.4 L1792.0 2794.5 L1794.0 2794.5 L1796.0 2794.6 L1798.0 2794.6 L1800.0 2794.6 L1802.0 2794.7 L1804.0 2794.7 L1806.0 2794.8 L1808.0 2794.8 L1810.0 2794.9 L1812.0 2794.9 L1814.0 2795.0 L1816.0 2795.0 L1818.0 2795.1 L1820.0 2795.1 L1822.0 2795.1 L1824.0 2795.2 L1826.0 2795.2 L1828.0 2795.3 L1830.0 2795.3 L1832.0 2795.4 L1834.0 2795.4 L1836.0 2795.5 L1838.0 2795.5 L1840.0 2795.6 L1842.0 2795.6 L1844.0 2795.7 L1846.0 2795.7 L1848.0 2795.8 L1850.0 2795.8 L1852.0 2795.9 L1854.0 2795.9 L1856.0 2796.0 L1858.0 2796.0 L1860.0 2796.1 L1862.0 2796.1 L1864.0 2796.2 L1866.0 2796.3 L1868.0 2796.3 L1870.0 2796.4 L1872.0 2796.4 L1874.0 2796.5 L1876.0 2796.5 L1878.0 2796.6 L1880.0 2796.6 L1882.0 2796.7 L1884.0 2796.7 L1886.0 2796.8 L1888.0 2796.8 L1890.0 2796.9 L1892.0 2797.0 L1894.0 2797.0 L1896.0 2797.1 L1898.0 2797.1 L1900.0 2797.2 L1902.0 2797.2 L1904.0 2797.3 L1906.0 2797.3 L1908.0 2797.4 L1910.0 2797.4 L1912.0 2797.5 L1914.0 2797.6 L1916.0 2797.6 L1918.0 2797.7 L1920.0 2797.7 L1922.0 2797.8 L1924.0 2797.8 L1926.0 2797.9 L1928.0 2798.0 L1930.0 2798.0 L1932.0 2798.1 L1934.0 2798.1 L1936.0 2798.2 L1938.0 2798.2 L1940.0 2798.3 L1942.0 2798.3 L1944.0 2798.4 L1946.0 2798.5 L1948.0 2798.5 L1950.0 2798.6 L1952.0 2798.6 L1954.0 2798.7 L1956.0 2798.7 L1958.0 2798.8 L1960.0 2798.9 L1962.0 2798.9 L1964.0 2799.0 L1966.0 2799.0 L1968.0 2799.1 L1970.0 2799.1 L1972.0 2799.2 L1974.0 2799.2 L1976.0 2799.3 L1978.0 2799.4 L1980.0 2799.4 L1982.0 2799.5 L1984.0 2799.5 L1986.0 2799.6 L1988.0 2799.6 L1990.0 2799.7 L1992.0 2799.7 L1994.0 2799.8 L1996.0 2799.9 L1998.0 2799.9 L2000.0 2800.0 L2002.0 2800.0 L2004.0 2800.1 L2006.0 2800.1 L2008.0 2800.2 L2010.0 2800.2 L2012.0 2800.3 L2014.0 2800.3 L2016.0 2800.4 L2018.0 2800.4 L2020.0 2800.5 L2022.0 2800.6 L2024.0 2800.6 L2026.0 2800.7 L2028.0 2800.7 L2030.0 2800.8 L2032.0 2800.8 L2034.0 2800.9 L2036.0 2800.9 L2038.0 2801.0 L2040.0 2801.0 L2042.0 2801.1 L2044.0 2801.1 L2046.0 2801.2 L2048.0 2801.2 L2050.0 2801.3 L2052.0 2801.3 L2054.0 2801.4 L2056.0 2801.4 L2058.0 2801.5 L2060.0 2801.5 L2062.0 2801.6 L2064.0 2801.6 L2066.0 2801.6 L2068.0 2801.7 L2070.0 2801.7 L2072.0 2801.8 L2074.0 2801.8 L2076.0 2801.9 L2078.0 2801.9 L2080.0 2802.0 L2082.0 2802.0 L2084.0 2802.1 L2086.0 2802.1 L2088.0 2802.1 L2090.0 2802.2 L2092.0 2802.2 L2094.0 2802.3 L2096.0 2802.3 L2098.0 2802.4 L2100.0 2802.4 L2102.0 2802.4 L2104.0 2802.5 L2106.0 2802.5 L2108.0 2802.6 L2110.0 2802.6 L2112.0 2802.6 L2114.0 2802.7 L2116.0 2802.7 L2118.0 2802.8 L2120.0 2802.8 L2122.0 2802.8 L2124.0 2802.9 L2126.0 2802.9 L2128.0 2803.0 L2130.0 2803.0 L2132.0 2803.0 L2134.0 2803.1 L2136.0 2803.1 L2138.0 2803.1 L2140.0 2803.2 L2142.0 2803.2 L2144.0 2803.2 L2146.0 2803.3 L2148.0 2803.3 L2150.0 2803.4 L2152.0 2803.4 L2154.0 2803.4 L2156.0 2803.5 L2158.0 2803.5 L2160.0 2803.5 L2162.0 2803.5 L2164.0 2803.6 L2166.0 2803.6 L2168.0 2803.6 L2170.0 2803.7 L2172.0 2803.7 L2174.0 2803.7 L2176.0 2803.8 L2178.0 2803.8 L2180.0 2803.8 L2182.0 2803.8 L2184.0 2803.9 L2186.0 2803.9 L2188.0 2803.9 L2190.0 2804.0 L2192.0 2804.0 L2194.0 2804.0 L2196.0 2804.0 L2198.0 2804.1 L2200.0 2804.1 L2202.0 2804.1 L2204.0 2804.1 L2206.0 2804.2 L2208.0 2804.2 L2210.0 2804.2 L2212.0 2804.2 L2214.0 2804.3 L2216.0 2804.3 L2218.0 2804.3 L2220.0 2804.3 L2222.0 2804.4 L2224.0 2804.4 L2226.0 2804.4 L2228.0 2804.4 L2230.0 2804.4 L2232.0 2804.5 L2234.0 2804.5 L2236.0 2804.5 L2238.0 2804.5 L2240.0 2804.5 L2242.0 2804.6 L2244.0 2804.6 L2246.0 2804.6 L2248.0 2804.6 L2250.0 2804.6 L2252.0 2804.7 L2254.0 2804.7 L2256.0 2804.7 L2258.0 2804.7 L2260.0 2804.7 L2262.0 2804.7 L2264.0 2804.8 L2266.0 2804.8 L2268.0 2804.8 L2270.0 2804.8 L2272.0 2804.8 L2274.0 2804.8 L2276.0 2804.8 L2278.0 2804.9 L2280.0 2804.9 L2282.0 2804.9 L2284.0 2804.9 L2286.0 2804.9 L2288.0 2804.9 L2290.0 2804.9 L2292.0 2805.0 L2294.0 2805.0 L2296.0 2805.0 L2298.0 2805.0 L2300.0 2805.0 L2302.0 2805.0 L2304.0 2805.0 L2306.0 2805.0" fill="none" stroke="#666" stroke-width="3" stroke-linejoin="round" stroke-linecap="round" stroke-dasharray="7 5"/>
<path d="M1326.0 2791.1 L1328.0 2791.1 L1330.0 2791.1 L1332.0 2791.1 L1334.0 2791.1 L1336.0 2791.1 L1338.0 2791.1 L1340.0 2791.1 L1342.0 2791.1 L1344.0 2791.1 L1346.0 2791.1 L1348.0 2791.1 L1350.0 2791.1 L1352.0 2791.1 L1354.0 2791.2 L1356.0 2791.2 L1358.0 2791.2 L1360.0 2791.2 L1362.0 2791.2 L1364.0 2791.2 L1366.0 2791.2 L1368.0 2791.2 L1370.0 2791.2 L1372.0 2791.2 L1374.0 2791.2 L1376.0 2791.2 L1378.0 2791.2 L1380.0 2791.2 L1382.0 2791.2 L1384.0 2791.2 L1386.0 2791.2 L1388.0 2791.2 L1390.0 2791.2 L1392.0 2791.2 L1394.0 2791.2 L1396.0 2791.2 L1398.0 2791.2 L1400.0 2791.2 L1402.0 2791.2 L1404.0 2791.2 L1406.0 2791.2 L1408.0 2791.2 L1410.0 2791.2 L1412.0 2791.2 L1414.0 2791.2 L1416.0 2791.2 L1418.0 2791.2 L1420.0 2791.2 L1422.0 2791.2 L1424.0 2791.2 L1426.0 2791.2 L1428.0 2791.2 L1430.0 2791.2 L1432.0 2791.2 L1434.0 2791.2 L1436.0 2791.2 L1438.0 2791.2 L1440.0 2791.2 L1442.0 2791.2 L1444.0 2791.2 L1446.0 2791.2 L1448.0 2791.2 L1450.0 2791.2 L1452.0 2791.2 L1454.0 2791.2 L1456.0 2791.2 L1458.0 2791.3 L1460.0 2791.3 L1462.0 2791.3 L1464.0 2791.3 L1466.0 2791.3 L1468.0 2791.3 L1470.0 2791.3 L1472.0 2791.3 L1474.0 2791.3 L1476.0 2791.3 L1478.0 2791.3 L1480.0 2791.3 L1482.0 2791.3 L1484.0 2791.3 L1486.0 2791.3 L1488.0 2791.3 L1490.0 2791.3 L1492.0 2791.3 L1494.0 2791.3 L1496.0 2791.3 L1498.0 2791.3 L1500.0 2791.3 L1502.0 2791.3 L1504.0 2791.3 L1506.0 2791.4 L1508.0 2791.4 L1510.0 2791.4 L1512.0 2791.4 L1514.0 2791.4 L1516.0 2791.4 L1518.0 2791.4 L1520.0 2791.4 L1522.0 2791.4 L1524.0 2791.4 L1526.0 2791.4 L1528.0 2791.4 L1530.0 2791.4 L1532.0 2791.4 L1534.0 2791.4 L1536.0 2791.4 L1538.0 2791.4 L1540.0 2791.4 L1542.0 2791.5 L1544.0 2791.5 L1546.0 2791.5 L1548.0 2791.5 L1550.0 2791.5 L1552.0 2791.5 L1554.0 2791.5 L1556.0 2791.5 L1558.0 2791.5 L1560.0 2791.5 L1562.0 2791.5 L1564.0 2791.5 L1566.0 2791.5 L1568.0 2791.5 L1570.0 2791.5 L1572.0 2791.5 L1574.0 2791.5 L1576.0 2791.5 L1578.0 2791.5 L1580.0 2791.5 L1582.0 2791.5 L1584.0 2791.5 L1586.0 2791.5 L1588.0 2791.5 L1590.0 2791.5 L1592.0 2791.5 L1594.0 2791.5 L1596.0 2791.5 L1598.0 2791.5 L1600.0 2791.4 L1602.0 2791.4 L1604.0 2791.4 L1606.0 2791.4 L1608.0 2791.4 L1610.0 2791.3 L1612.0 2791.3 L1614.0 2791.3 L1616.0 2791.3 L1618.0 2791.2 L1620.0 2791.2 L1622.0 2791.1 L1624.0 2791.1 L1626.0 2791.0 L1628.0 2791.0 L1630.0 2790.9 L1632.0 2790.9 L1634.0 2790.8 L1636.0 2790.7 L1638.0 2790.6 L1640.0 2790.5 L1642.0 2790.4 L1644.0 2790.3 L1646.0 2790.2 L1648.0 2790.1 L1650.0 2790.0 L1652.0 2789.9 L1654.0 2789.7 L1656.0 2789.6 L1658.0 2789.4 L1660.0 2789.2 L1662.0 2789.0 L1664.0 2788.8 L1666.0 2788.6 L1668.0 2788.4 L1670.0 2788.2 L1672.0 2787.9 L1674.0 2787.7 L1676.0 2787.4 L1678.0 2787.1 L1680.0 2786.8 L1682.0 2786.4 L1684.0 2786.1 L1686.0 2785.7 L1688.0 2785.3 L1690.0 2784.9 L1692.0 2784.5 L1694.0 2784.0 L1696.0 2783.5 L1698.0 2783.0 L1700.0 2782.5 L1702.0 2781.9 L1704.0 2781.3 L1706.0 2780.7 L1708.0 2780.1 L1710.0 2779.4 L1712.0 2778.7 L1714.0 2778.0 L1716.0 2777.2 L1718.0 2776.4 L1720.0 2775.5 L1722.0 2774.6 L1724.0 2773.7 L1726.0 2772.8 L1728.0 2771.7 L1730.0 2770.7 L1732.0 2769.6 L1734.0 2768.5 L1736.0 2767.3 L1738.0 2766.1 L1740.0 2764.8 L1742.0 2763.5 L1744.0 2762.1 L1746.0 2760.7 L1748.0 2759.2 L1750.0 2757.7 L1752.0 2756.2 L1754.0 2754.5 L1756.0 2752.8 L1758.0 2751.1 L1760.0 2749.3 L1762.0 2747.5 L1764.0 2745.6 L1766.0 2743.6 L1768.0 2741.6 L1770.0 2739.5 L1772.0 2737.3 L1774.0 2735.1 L1776.0 2732.9 L1778.0 2730.5 L1780.0 2728.2 L1782.0 2725.7 L1784.0 2723.2 L1786.0 2720.6 L1788.0 2718.0 L1790.0 2715.3 L1792.0 2712.6 L1794.0 2709.8 L1796.0 2706.9 L1798.0 2704.0 L1800.0 2701.0 L1802.0 2697.9 L1804.0 2694.8 L1806.0 2691.7 L1808.0 2688.5 L1810.0 2685.2 L1812.0 2681.9 L1814.0 2678.6 L1816.0 2675.2 L1818.0 2671.7 L1820.0 2668.2 L1822.0 2664.7 L1824.0 2661.1 L1826.0 2657.5 L1828.0 2653.9 L1830.0 2650.2 L1832.0 2646.5 L1834.0 2642.8 L1836.0 2639.0 L1838.0 2635.3 L1840.0 2631.5 L1842.0 2627.7 L1844.0 2623.9 L1846.0 2620.0 L1848.0 2616.2 L1850.0 2612.4 L1852.0 2608.5 L1854.0 2604.7 L1856.0 2600.9 L1858.0 2597.1 L1860.0 2593.3 L1862.0 2589.6 L1864.0 2585.8 L1866.0 2582.1 L1868.0 2578.4 L1870.0 2574.8 L1872.0 2571.2 L1874.0 2567.6 L1876.0 2564.1 L1878.0 2560.7 L1880.0 2557.3 L1882.0 2554.0 L1884.0 2550.7 L1886.0 2547.5 L1888.0 2544.4 L1890.0 2541.3 L1892.0 2538.3 L1894.0 2535.5 L1896.0 2532.7 L1898.0 2530.0 L1900.0 2527.3 L1902.0 2524.8 L1904.0 2522.4 L1906.0 2520.1 L1908.0 2517.9 L1910.0 2515.8 L1912.0 2513.9 L1914.0 2512.0 L1916.0 2510.3 L1918.0 2508.6 L1920.0 2507.1 L1922.0 2505.8 L1924.0 2504.5 L1926.0 2503.4 L1928.0 2502.5 L1930.0 2501.6 L1932.0 2500.9 L1934.0 2500.3 L1936.0 2499.9 L1938.0 2499.6 L1940.0 2499.4 L1942.0 2499.4 L1944.0 2499.5 L1946.0 2499.7 L1948.0 2500.1 L1950.0 2500.6 L1952.0 2501.2 L1954.0 2502.0 L1956.0 2502.9 L1958.0 2503.9 L1960.0 2505.1 L1962.0 2506.4 L1964.0 2507.8 L1966.0 2509.4 L1968.0 2511.1 L1970.0 2512.8 L1972.0 2514.8 L1974.0 2516.8 L1976.0 2518.9 L1978.0 2521.2 L1980.0 2523.5 L1982.0 2526.0 L1984.0 2528.6 L1986.0 2531.2 L1988.0 2534.0 L1990.0 2536.9 L1992.0 2539.8 L1994.0 2542.8 L1996.0 2545.9 L1998.0 2549.1 L2000.0 2552.4 L2002.0 2555.7 L2004.0 2559.1 L2006.0 2562.6 L2008.0 2566.1 L2010.0 2569.6 L2012.0 2573.3 L2014.0 2576.9 L2016.0 2580.6 L2018.0 2584.4 L2020.0 2588.2 L2022.0 2592.0 L2024.0 2595.8 L2026.0 2599.7 L2028.0 2603.5 L2030.0 2607.4 L2032.0 2611.3 L2034.0 2615.2 L2036.0 2619.1 L2038.0 2623.1 L2040.0 2627.0 L2042.0 2630.9 L2044.0 2634.8 L2046.0 2638.6 L2048.0 2642.5 L2050.0 2646.4 L2052.0 2650.2 L2054.0 2654.0 L2056.0 2657.7 L2058.0 2661.5 L2060.0 2665.2 L2062.0 2668.9 L2064.0 2672.5 L2066.0 2676.1 L2068.0 2679.6 L2070.0 2683.1 L2072.0 2686.6 L2074.0 2690.0 L2076.0 2693.4 L2078.0 2696.7 L2080.0 2699.9 L2082.0 2703.1 L2084.0 2706.3 L2086.0 2709.4 L2088.0 2712.4 L2090.0 2715.4 L2092.0 2718.3 L2094.0 2721.2 L2096.0 2724.0 L2098.0 2726.7 L2100.0 2729.4 L2102.0 2732.0 L2104.0 2734.6 L2106.0 2737.1 L2108.0 2739.5 L2110.0 2741.9 L2112.0 2744.2 L2114.0 2746.5 L2116.0 2748.7 L2118.0 2750.8 L2120.0 2752.9 L2122.0 2754.9 L2124.0 2756.9 L2126.0 2758.8 L2128.0 2760.7 L2130.0 2762.4 L2132.0 2764.2 L2134.0 2765.9 L2136.0 2767.5 L2138.0 2769.1 L2140.0 2770.6 L2142.0 2772.1 L2144.0 2773.5 L2146.0 2774.9 L2148.0 2776.2 L2150.0 2777.5 L2152.0 2778.7 L2154.0 2779.9 L2156.0 2781.0 L2158.0 2782.1 L2160.0 2783.2 L2162.0 2784.2 L2164.0 2785.2 L2166.0 2786.1 L2168.0 2787.0 L2170.0 2787.9 L2172.0 2788.7 L2174.0 2789.5 L2176.0 2790.3 L2178.0 2791.0 L2180.0 2791.7 L2182.0 2792.4 L2184.0 2793.0 L2186.0 2793.6 L2188.0 2794.2 L2190.0 2794.7 L2192.0 2795.3 L2194.0 2795.8 L2196.0 2796.3 L2198.0 2796.7 L2200.0 2797.2 L2202.0 2797.6 L2204.0 2798.0 L2206.0 2798.4 L2208.0 2798.7 L2210.0 2799.1 L2212.0 2799.4 L2214.0 2799.7 L2216.0 2800.0 L2218.0 2800.3 L2220.0 2800.6 L2222.0 2800.8 L2224.0 2801.1 L2226.0 2801.3 L2228.0 2801.5 L2230.0 2801.7 L2232.0 2801.9 L2234.0 2802.1 L2236.0 2802.3 L2238.0 2802.4 L2240.0 2802.6 L2242.0 2802.7 L2244.0 2802.9 L2246.0 2803.0 L2248.0 2803.1 L2250.0 2803.2 L2252.0 2803.4 L2254.0 2803.5 L2256.0 2803.6 L2258.0 2803.7 L2260.0 2803.7 L2262.0 2803.8 L2264.0 2803.9 L2266.0 2804.0 L2268.0 2804.1 L2270.0 2804.1 L2272.0 2804.2 L2274.0 2804.3 L2276.0 2804.3 L2278.0 2804.4 L2280.0 2804.4 L2282.0 2804.5 L2284.0 2804.5 L2286.0 2804.6 L2288.0 2804.6 L2290.0 2804.6 L2292.0 2804.7 L2294.0 2804.7 L2296.0 2804.7 L2298.0 2804.8 L2300.0 2804.8 L2302.0 2804.8 L2304.0 2804.9 L2306.0 2804.9" fill="none" stroke="#f5a850" stroke-width="3.8" stroke-linejoin="round" stroke-linecap="round" stroke-dasharray="19 17"/>
<path d="M1326.0 2791.0 L1328.0 2791.0 L1330.0 2791.0 L1332.0 2790.9 L1334.0 2790.9 L1336.0 2790.9 L1338.0 2790.9 L1340.0 2790.9 L1342.0 2790.9 L1344.0 2790.8 L1346.0 2790.8 L1348.0 2790.8 L1350.0 2790.8 L1352.0 2790.7 L1354.0 2790.7 L1356.0 2790.7 L1358.0 2790.7 L1360.0 2790.6 L1362.0 2790.6 L1364.0 2790.5 L1366.0 2790.5 L1368.0 2790.5 L1370.0 2790.4 L1372.0 2790.4 L1374.0 2790.3 L1376.0 2790.3 L1378.0 2790.2 L1380.0 2790.2 L1382.0 2790.1 L1384.0 2790.0 L1386.0 2790.0 L1388.0 2789.9 L1390.0 2789.8 L1392.0 2789.7 L1394.0 2789.7 L1396.0 2789.6 L1398.0 2789.5 L1400.0 2789.4 L1402.0 2789.3 L1404.0 2789.2 L1406.0 2789.0 L1408.0 2788.9 L1410.0 2788.8 L1412.0 2788.7 L1414.0 2788.5 L1416.0 2788.4 L1418.0 2788.2 L1420.0 2788.1 L1422.0 2787.9 L1424.0 2787.8 L1426.0 2787.6 L1428.0 2787.4 L1430.0 2787.2 L1432.0 2787.0 L1434.0 2786.8 L1436.0 2786.6 L1438.0 2786.3 L1440.0 2786.1 L1442.0 2785.9 L1444.0 2785.6 L1446.0 2785.3 L1448.0 2785.1 L1450.0 2784.8 L1452.0 2784.5 L1454.0 2784.2 L1456.0 2783.9 L1458.0 2783.5 L1460.0 2783.2 L1462.0 2782.8 L1464.0 2782.5 L1466.0 2782.1 L1468.0 2781.7 L1470.0 2781.3 L1472.0 2780.9 L1474.0 2780.5 L1476.0 2780.0 L1478.0 2779.6 L1480.0 2779.1 L1482.0 2778.7 L1484.0 2778.2 L1486.0 2777.7 L1488.0 2777.2 L1490.0 2776.6 L1492.0 2776.1 L1494.0 2775.6 L1496.0 2775.0 L1498.0 2774.4 L1500.0 2773.8 L1502.0 2773.2 L1504.0 2772.6 L1506.0 2772.0 L1508.0 2771.3 L1510.0 2770.7 L1512.0 2770.0 L1514.0 2769.4 L1516.0 2768.7 L1518.0 2768.0 L1520.0 2767.3 L1522.0 2766.6 L1524.0 2765.8 L1526.0 2765.1 L1528.0 2764.3 L1530.0 2763.6 L1532.0 2762.8 L1534.0 2762.0 L1536.0 2761.3 L1538.0 2760.5 L1540.0 2759.7 L1542.0 2758.9 L1544.0 2758.1 L1546.0 2757.3 L1548.0 2756.4 L1550.0 2755.6 L1552.0 2754.8 L1554.0 2754.0 L1556.0 2753.1 L1558.0 2752.3 L1560.0 2751.5 L1562.0 2750.7 L1564.0 2749.8 L1566.0 2749.0 L1568.0 2748.2 L1570.0 2747.4 L1572.0 2746.6 L1574.0 2745.8 L1576.0 2745.0 L1578.0 2744.2 L1580.0 2743.4 L1582.0 2742.6 L1584.0 2741.8 L1586.0 2741.1 L1588.0 2740.3 L1590.0 2739.6 L1592.0 2738.9 L1594.0 2738.2 L1596.0 2737.5 L1598.0 2736.8 L1600.0 2736.1 L1602.0 2735.5 L1604.0 2734.9 L1606.0 2734.2 L1608.0 2733.7 L1610.0 2733.1 L1612.0 2732.5 L1614.0 2732.0 L1616.0 2731.5 L1618.0 2731.0 L1620.0 2730.6 L1622.0 2730.1 L1624.0 2729.7 L1626.0 2729.3 L1628.0 2729.0 L1630.0 2728.7 L1632.0 2728.4 L1634.0 2728.1 L1636.0 2727.8 L1638.0 2727.6 L1640.0 2727.4 L1642.0 2727.2 L1644.0 2727.1 L1646.0 2727.0 L1648.0 2726.9 L1650.0 2726.9 L1652.0 2726.9 L1654.0 2726.9 L1656.0 2726.9 L1658.0 2727.0 L1660.0 2727.1 L1662.0 2727.2 L1664.0 2727.4 L1666.0 2727.6 L1668.0 2727.8 L1670.0 2728.1 L1672.0 2728.4 L1674.0 2728.7 L1676.0 2729.0 L1678.0 2729.4 L1680.0 2729.8 L1682.0 2730.2 L1684.0 2730.7 L1686.0 2731.2 L1688.0 2731.7 L1690.0 2732.2 L1692.0 2732.8 L1694.0 2733.4 L1696.0 2734.0 L1698.0 2734.6 L1700.0 2735.3 L1702.0 2735.9 L1704.0 2736.6 L1706.0 2737.3 L1708.0 2738.1 L1710.0 2738.8 L1712.0 2739.6 L1714.0 2740.4 L1716.0 2741.1 L1718.0 2742.0 L1720.0 2742.8 L1722.0 2743.6 L1724.0 2744.4 L1726.0 2745.3 L1728.0 2746.2 L1730.0 2747.0 L1732.0 2747.9 L1734.0 2748.8 L1736.0 2749.7 L1738.0 2750.6 L1740.0 2751.5 L1742.0 2752.4 L1744.0 2753.3 L1746.0 2754.2 L1748.0 2755.1 L1750.0 2756.0 L1752.0 2756.9 L1754.0 2757.8 L1756.0 2758.7 L1758.0 2759.5 L1760.0 2760.4 L1762.0 2761.3 L1764.0 2762.2 L1766.0 2763.1 L1768.0 2763.9 L1770.0 2764.8 L1772.0 2765.6 L1774.0 2766.4 L1776.0 2767.3 L1778.0 2768.1 L1780.0 2768.9 L1782.0 2769.7 L1784.0 2770.5 L1786.0 2771.3 L1788.0 2772.0 L1790.0 2772.8 L1792.0 2773.5 L1794.0 2774.2 L1796.0 2775.0 L1798.0 2775.7 L1800.0 2776.3 L1802.0 2777.0 L1804.0 2777.7 L1806.0 2778.3 L1808.0 2779.0 L1810.0 2779.6 L1812.0 2780.2 L1814.0 2780.8 L1816.0 2781.4 L1818.0 2781.9 L1820.0 2782.5 L1822.0 2783.0 L1824.0 2783.6 L1826.0 2784.1 L1828.0 2784.6 L1830.0 2785.1 L1832.0 2785.5 L1834.0 2786.0 L1836.0 2786.4 L1838.0 2786.9 L1840.0 2787.3 L1842.0 2787.7 L1844.0 2788.1 L1846.0 2788.5 L1848.0 2788.9 L1850.0 2789.2 L1852.0 2789.6 L1854.0 2789.9 L1856.0 2790.3 L1858.0 2790.6 L1860.0 2790.9 L1862.0 2791.2 L1864.0 2791.5 L1866.0 2791.8 L1868.0 2792.1 L1870.0 2792.3 L1872.0 2792.6 L1874.0 2792.8 L1876.0 2793.1 L1878.0 2793.3 L1880.0 2793.5 L1882.0 2793.7 L1884.0 2793.9 L1886.0 2794.2 L1888.0 2794.3 L1890.0 2794.5 L1892.0 2794.7 L1894.0 2794.9 L1896.0 2795.1 L1898.0 2795.2 L1900.0 2795.4 L1902.0 2795.6 L1904.0 2795.7 L1906.0 2795.9 L1908.0 2796.0 L1910.0 2796.1 L1912.0 2796.3 L1914.0 2796.4 L1916.0 2796.5 L1918.0 2796.6 L1920.0 2796.8 L1922.0 2796.9 L1924.0 2797.0 L1926.0 2797.1 L1928.0 2797.2 L1930.0 2797.3 L1932.0 2797.4 L1934.0 2797.5 L1936.0 2797.6 L1938.0 2797.7 L1940.0 2797.8 L1942.0 2797.9 L1944.0 2798.0 L1946.0 2798.1 L1948.0 2798.1 L1950.0 2798.2 L1952.0 2798.3 L1954.0 2798.4 L1956.0 2798.5 L1958.0 2798.5 L1960.0 2798.6 L1962.0 2798.7 L1964.0 2798.8 L1966.0 2798.8 L1968.0 2798.9 L1970.0 2799.0 L1972.0 2799.0 L1974.0 2799.1 L1976.0 2799.2 L1978.0 2799.2 L1980.0 2799.3 L1982.0 2799.4 L1984.0 2799.4 L1986.0 2799.5 L1988.0 2799.6 L1990.0 2799.6 L1992.0 2799.7 L1994.0 2799.7 L1996.0 2799.8 L1998.0 2799.9 L2000.0 2799.9 L2002.0 2800.0 L2004.0 2800.0 L2006.0 2800.1 L2008.0 2800.1 L2010.0 2800.2 L2012.0 2800.3 L2014.0 2800.3 L2016.0 2800.4 L2018.0 2800.4 L2020.0 2800.5 L2022.0 2800.5 L2024.0 2800.6 L2026.0 2800.6 L2028.0 2800.7 L2030.0 2800.7 L2032.0 2800.8 L2034.0 2800.8 L2036.0 2800.9 L2038.0 2801.0 L2040.0 2801.0 L2042.0 2801.1 L2044.0 2801.1 L2046.0 2801.2 L2048.0 2801.2 L2050.0 2801.3 L2052.0 2801.3 L2054.0 2801.4 L2056.0 2801.4 L2058.0 2801.5 L2060.0 2801.5 L2062.0 2801.5 L2064.0 2801.6 L2066.0 2801.6 L2068.0 2801.7 L2070.0 2801.7 L2072.0 2801.8 L2074.0 2801.8 L2076.0 2801.9 L2078.0 2801.9 L2080.0 2802.0 L2082.0 2802.0 L2084.0 2802.1 L2086.0 2802.1 L2088.0 2802.1 L2090.0 2802.2 L2092.0 2802.2 L2094.0 2802.3 L2096.0 2802.3 L2098.0 2802.4 L2100.0 2802.4 L2102.0 2802.4 L2104.0 2802.5 L2106.0 2802.5 L2108.0 2802.6 L2110.0 2802.6 L2112.0 2802.6 L2114.0 2802.7 L2116.0 2802.7 L2118.0 2802.8 L2120.0 2802.8 L2122.0 2802.8 L2124.0 2802.9 L2126.0 2802.9 L2128.0 2803.0 L2130.0 2803.0 L2132.0 2803.0 L2134.0 2803.1 L2136.0 2803.1 L2138.0 2803.1 L2140.0 2803.2 L2142.0 2803.2 L2144.0 2803.2 L2146.0 2803.3 L2148.0 2803.3 L2150.0 2803.4 L2152.0 2803.4 L2154.0 2803.4 L2156.0 2803.5 L2158.0 2803.5 L2160.0 2803.5 L2162.0 2803.5 L2164.0 2803.6 L2166.0 2803.6 L2168.0 2803.6 L2170.0 2803.7 L2172.0 2803.7 L2174.0 2803.7 L2176.0 2803.8 L2178.0 2803.8 L2180.0 2803.8 L2182.0 2803.8 L2184.0 2803.9 L2186.0 2803.9 L2188.0 2803.9 L2190.0 2804.0 L2192.0 2804.0 L2194.0 2804.0 L2196.0 2804.0 L2198.0 2804.1 L2200.0 2804.1 L2202.0 2804.1 L2204.0 2804.1 L2206.0 2804.2 L2208.0 2804.2 L2210.0 2804.2 L2212.0 2804.2 L2214.0 2804.3 L2216.0 2804.3 L2218.0 2804.3 L2220.0 2804.3 L2222.0 2804.4 L2224.0 2804.4 L2226.0 2804.4 L2228.0 2804.4 L2230.0 2804.4 L2232.0 2804.5 L2234.0 2804.5 L2236.0 2804.5 L2238.0 2804.5 L2240.0 2804.5 L2242.0 2804.6 L2244.0 2804.6 L2246.0 2804.6 L2248.0 2804.6 L2250.0 2804.6 L2252.0 2804.7 L2254.0 2804.7 L2256.0 2804.7 L2258.0 2804.7 L2260.0 2804.7 L2262.0 2804.7 L2264.0 2804.8 L2266.0 2804.8 L2268.0 2804.8 L2270.0 2804.8 L2272.0 2804.8 L2274.0 2804.8 L2276.0 2804.8 L2278.0 2804.9 L2280.0 2804.9 L2282.0 2804.9 L2284.0 2804.9 L2286.0 2804.9 L2288.0 2804.9 L2290.0 2804.9 L2292.0 2805.0 L2294.0 2805.0 L2296.0 2805.0 L2298.0 2805.0 L2300.0 2805.0 L2302.0 2805.0 L2304.0 2805.0 L2306.0 2805.0" fill="none" stroke="#e050e0" stroke-width="3.5" stroke-linejoin="round" stroke-linecap="round" stroke-dasharray="22 9 8 9"/>
<path d="M1326.0 3284.7 L1328.0 3284.7 L1330.0 3284.6 L1332.0 3284.6 L1334.0 3284.6 L1336.0 3284.5 L1338.0 3284.5 L1340.0 3284.4 L1342.0 3284.4 L1344.0 3284.4 L1346.0 3284.3 L1348.0 3284.2 L1350.0 3284.2 L1352.0 3284.1 L1354.0 3284.1 L1356.0 3284.0 L1358.0 3283.9 L1360.0 3283.9 L1362.0 3283.8 L1364.0 3283.7 L1366.0 3283.6 L1368.0 3283.6 L1370.0 3283.5 L1372.0 3283.4 L1374.0 3283.3 L1376.0 3283.2 L1378.0 3283.1 L1380.0 3283.0 L1382.0 3282.9 L1384.0 3282.7 L1386.0 3282.6 L1388.0 3282.5 L1390.0 3282.4 L1392.0 3282.2 L1394.0 3282.1 L1396.0 3281.9 L1398.0 3281.8 L1400.0 3281.6 L1402.0 3281.5 L1404.0 3281.3 L1406.0 3281.1 L1408.0 3280.9 L1410.0 3280.7 L1412.0 3280.5 L1414.0 3280.3 L1416.0 3280.1 L1418.0 3279.9 L1420.0 3279.7 L1422.0 3279.4 L1424.0 3279.2 L1426.0 3279.0 L1428.0 3278.7 L1430.0 3278.4 L1432.0 3278.2 L1434.0 3277.9 L1436.0 3277.6 L1438.0 3277.3 L1440.0 3277.0 L1442.0 3276.7 L1444.0 3276.4 L1446.0 3276.0 L1448.0 3275.7 L1450.0 3275.3 L1452.0 3275.0 L1454.0 3274.6 L1456.0 3274.2 L1458.0 3273.8 L1460.0 3273.4 L1462.0 3273.0 L1464.0 3272.6 L1466.0 3272.2 L1468.0 3271.7 L1470.0 3271.3 L1472.0 3270.8 L1474.0 3270.4 L1476.0 3269.9 L1478.0 3269.4 L1480.0 3268.9 L1482.0 3268.4 L1484.0 3267.9 L1486.0 3267.4 L1488.0 3266.9 L1490.0 3266.3 L1492.0 3265.8 L1494.0 3265.2 L1496.0 3264.6 L1498.0 3264.1 L1500.0 3263.5 L1502.0 3262.9 L1504.0 3262.3 L1506.0 3261.7 L1508.0 3261.0 L1510.0 3260.4 L1512.0 3259.8 L1514.0 3259.1 L1516.0 3258.5 L1518.0 3257.8 L1520.0 3257.2 L1522.0 3256.5 L1524.0 3255.8 L1526.0 3255.2 L1528.0 3254.5 L1530.0 3253.8 L1532.0 3253.1 L1534.0 3252.4 L1536.0 3251.7 L1538.0 3251.0 L1540.0 3250.3 L1542.0 3249.6 L1544.0 3248.9 L1546.0 3248.1 L1548.0 3247.4 L1550.0 3246.7 L1552.0 3246.0 L1554.0 3245.3 L1556.0 3244.6 L1558.0 3243.9 L1560.0 3243.2 L1562.0 3242.5 L1564.0 3241.8 L1566.0 3241.1 L1568.0 3240.4 L1570.0 3239.7 L1572.0 3239.0 L1574.0 3238.3 L1576.0 3237.6 L1578.0 3236.9 L1580.0 3236.3 L1582.0 3235.6 L1584.0 3235.0 L1586.0 3234.3 L1588.0 3233.7 L1590.0 3233.1 L1592.0 3232.5 L1594.0 3231.8 L1596.0 3231.3 L1598.0 3230.7 L1600.0 3230.1 L1602.0 3229.5 L1604.0 3229.0 L1606.0 3228.4 L1608.0 3227.9 L1610.0 3227.4 L1612.0 3226.9 L1614.0 3226.4 L1616.0 3225.9 L1618.0 3225.5 L1620.0 3225.0 L1622.0 3224.6 L1624.0 3224.2 L1626.0 3223.8 L1628.0 3223.4 L1630.0 3223.0 L1632.0 3222.6 L1634.0 3222.3 L1636.0 3221.9 L1638.0 3221.6 L1640.0 3221.3 L1642.0 3221.0 L1644.0 3220.7 L1646.0 3220.4 L1648.0 3220.2 L1650.0 3219.9 L1652.0 3219.7 L1654.0 3219.5 L1656.0 3219.3 L1658.0 3219.0 L1660.0 3218.9 L1662.0 3218.7 L1664.0 3218.6 L1666.0 3218.4 L1668.0 3218.3 L1670.0 3218.3 L1672.0 3218.2 L1674.0 3218.1 L1676.0 3218.1 L1678.0 3218.1 L1680.0 3218.1 L1682.0 3218.1 L1684.0 3218.1 L1686.0 3218.1 L1688.0 3218.1 L1690.0 3218.1 L1692.0 3218.1 L1694.0 3218.2 L1696.0 3218.2 L1698.0 3218.2 L1700.0 3218.2 L1702.0 3218.2 L1704.0 3218.2 L1706.0 3218.2 L1708.0 3218.2 L1710.0 3218.2 L1712.0 3218.1 L1714.0 3218.0 L1716.0 3217.9 L1718.0 3217.8 L1720.0 3217.6 L1722.0 3217.5 L1724.0 3217.3 L1726.0 3217.0 L1728.0 3216.7 L1730.0 3216.4 L1732.0 3216.1 L1734.0 3215.7 L1736.0 3215.2 L1738.0 3214.7 L1740.0 3214.2 L1742.0 3213.6 L1744.0 3213.0 L1746.0 3212.3 L1748.0 3211.6 L1750.0 3210.8 L1752.0 3209.9 L1754.0 3209.0 L1756.0 3208.1 L1758.0 3207.0 L1760.0 3205.9 L1762.0 3204.8 L1764.0 3203.5 L1766.0 3202.2 L1768.0 3200.9 L1770.0 3199.4 L1772.0 3197.9 L1774.0 3196.4 L1776.0 3194.7 L1778.0 3193.0 L1780.0 3191.2 L1782.0 3189.4 L1784.0 3187.4 L1786.0 3185.4 L1788.0 3183.4 L1790.0 3181.2 L1792.0 3179.0 L1794.0 3176.7 L1796.0 3174.4 L1798.0 3172.0 L1800.0 3169.5 L1802.0 3167.0 L1804.0 3164.4 L1806.0 3161.7 L1808.0 3159.0 L1810.0 3156.2 L1812.0 3153.3 L1814.0 3150.4 L1816.0 3147.5 L1818.0 3144.5 L1820.0 3141.4 L1822.0 3138.3 L1824.0 3135.2 L1826.0 3132.0 L1828.0 3128.8 L1830.0 3125.5 L1832.0 3122.3 L1834.0 3119.0 L1836.0 3115.6 L1838.0 3112.3 L1840.0 3108.9 L1842.0 3105.5 L1844.0 3102.1 L1846.0 3098.7 L1848.0 3095.3 L1850.0 3091.9 L1852.0 3088.5 L1854.0 3085.2 L1856.0 3081.8 L1858.0 3078.4 L1860.0 3075.1 L1862.0 3071.8 L1864.0 3068.5 L1866.0 3065.3 L1868.0 3062.1 L1870.0 3058.9 L1872.0 3055.8 L1874.0 3052.8 L1876.0 3049.8 L1878.0 3046.8 L1880.0 3044.0 L1882.0 3041.1 L1884.0 3038.4 L1886.0 3035.7 L1888.0 3033.2 L1890.0 3030.7 L1892.0 3028.2 L1894.0 3025.9 L1896.0 3023.7 L1898.0 3021.6 L1900.0 3019.5 L1902.0 3017.6 L1904.0 3015.8 L1906.0 3014.0 L1908.0 3012.4 L1910.0 3010.9 L1912.0 3009.6 L1914.0 3008.3 L1916.0 3007.2 L1918.0 3006.1 L1920.0 3005.2 L1922.0 3004.5 L1924.0 3003.8 L1926.0 3003.3 L1928.0 3002.9 L1930.0 3002.7 L1932.0 3002.5 L1934.0 3002.6 L1936.0 3002.7 L1938.0 3002.9 L1940.0 3003.3 L1942.0 3003.8 L1944.0 3004.4 L1946.0 3005.2 L1948.0 3006.1 L1950.0 3007.0 L1952.0 3008.1 L1954.0 3009.4 L1956.0 3010.7 L1958.0 3012.2 L1960.0 3013.7 L1962.0 3015.4 L1964.0 3017.2 L1966.0 3019.1 L1968.0 3021.1 L1970.0 3023.2 L1972.0 3025.4 L1974.0 3027.7 L1976.0 3030.1 L1978.0 3032.6 L1980.0 3035.2 L1982.0 3037.9 L1984.0 3040.6 L1986.0 3043.4 L1988.0 3046.3 L1990.0 3049.3 L1992.0 3052.4 L1994.0 3055.5 L1996.0 3058.7 L1998.0 3061.9 L2000.0 3065.2 L2002.0 3068.5 L2004.0 3071.9 L2006.0 3075.4 L2008.0 3078.9 L2010.0 3082.4 L2012.0 3085.9 L2014.0 3089.5 L2016.0 3093.1 L2018.0 3096.8 L2020.0 3100.4 L2022.0 3104.1 L2024.0 3107.8 L2026.0 3111.5 L2028.0 3115.2 L2030.0 3118.9 L2032.0 3122.6 L2034.0 3126.3 L2036.0 3130.0 L2038.0 3133.7 L2040.0 3137.4 L2042.0 3141.1 L2044.0 3144.7 L2046.0 3148.4 L2048.0 3152.0 L2050.0 3155.6 L2052.0 3159.1 L2054.0 3162.6 L2056.0 3166.1 L2058.0 3169.6 L2060.0 3173.0 L2062.0 3176.4 L2064.0 3179.7 L2066.0 3183.0 L2068.0 3186.3 L2070.0 3189.5 L2072.0 3192.7 L2074.0 3195.8 L2076.0 3198.9 L2078.0 3201.9 L2080.0 3204.9 L2082.0 3207.8 L2084.0 3210.6 L2086.0 3213.5 L2088.0 3216.2 L2090.0 3218.9 L2092.0 3221.6 L2094.0 3224.2 L2096.0 3226.7 L2098.0 3229.2 L2100.0 3231.6 L2102.0 3234.0 L2104.0 3236.3 L2106.0 3238.5 L2108.0 3240.7 L2110.0 3242.9 L2112.0 3244.9 L2114.0 3247.0 L2116.0 3249.0 L2118.0 3250.9 L2120.0 3252.7 L2122.0 3254.6 L2124.0 3256.3 L2126.0 3258.0 L2128.0 3259.7 L2130.0 3261.3 L2132.0 3262.8 L2134.0 3264.4 L2136.0 3265.8 L2138.0 3267.2 L2140.0 3268.6 L2142.0 3269.9 L2144.0 3271.2 L2146.0 3272.4 L2148.0 3273.6 L2150.0 3274.7 L2152.0 3275.8 L2154.0 3276.9 L2156.0 3277.9 L2158.0 3278.9 L2160.0 3279.8 L2162.0 3280.7 L2164.0 3281.6 L2166.0 3282.5 L2168.0 3283.3 L2170.0 3284.0 L2172.0 3284.8 L2174.0 3285.5 L2176.0 3286.2 L2178.0 3286.8 L2180.0 3287.4 L2182.0 3288.0 L2184.0 3288.6 L2186.0 3289.2 L2188.0 3289.7 L2190.0 3290.2 L2192.0 3290.7 L2194.0 3291.1 L2196.0 3291.5 L2198.0 3291.9 L2200.0 3292.3 L2202.0 3292.7 L2204.0 3293.1 L2206.0 3293.4 L2208.0 3293.7 L2210.0 3294.0 L2212.0 3294.3 L2214.0 3294.6 L2216.0 3294.9 L2218.0 3295.1 L2220.0 3295.4 L2222.0 3295.6 L2224.0 3295.8 L2226.0 3296.0 L2228.0 3296.2 L2230.0 3296.4 L2232.0 3296.5 L2234.0 3296.7 L2236.0 3296.9 L2238.0 3297.0 L2240.0 3297.1 L2242.0 3297.3 L2244.0 3297.4 L2246.0 3297.5 L2248.0 3297.6 L2250.0 3297.7 L2252.0 3297.8 L2254.0 3297.9 L2256.0 3298.0 L2258.0 3298.1 L2260.0 3298.2 L2262.0 3298.2 L2264.0 3298.3 L2266.0 3298.4 L2268.0 3298.4 L2270.0 3298.5 L2272.0 3298.5 L2274.0 3298.6 L2276.0 3298.6 L2278.0 3298.7 L2280.0 3298.7 L2282.0 3298.7 L2284.0 3298.8 L2286.0 3298.8 L2288.0 3298.8 L2290.0 3298.9 L2292.0 3298.9 L2294.0 3298.9 L2296.0 3299.0 L2298.0 3299.0 L2300.0 3299.0 L2302.0 3299.0 L2304.0 3299.0 L2306.0 3299.1" fill="none" stroke="#1a1a1a" stroke-width="3.8" stroke-linejoin="round" stroke-linecap="round" />
<path d="M1326.0 3285.3 L1328.0 3285.3 L1330.0 3285.3 L1332.0 3285.3 L1334.0 3285.3 L1336.0 3285.3 L1338.0 3285.3 L1340.0 3285.3 L1342.0 3285.3 L1344.0 3285.3 L1346.0 3285.3 L1348.0 3285.3 L1350.0 3285.3 L1352.0 3285.3 L1354.0 3285.3 L1356.0 3285.3 L1358.0 3285.3 L1360.0 3285.3 L1362.0 3285.3 L1364.0 3285.3 L1366.0 3285.3 L1368.0 3285.3 L1370.0 3285.3 L1372.0 3285.3 L1374.0 3285.3 L1376.0 3285.3 L1378.0 3285.3 L1380.0 3285.3 L1382.0 3285.3 L1384.0 3285.3 L1386.0 3285.3 L1388.0 3285.3 L1390.0 3285.3 L1392.0 3285.3 L1394.0 3285.3 L1396.0 3285.3 L1398.0 3285.3 L1400.0 3285.3 L1402.0 3285.3 L1404.0 3285.3 L1406.0 3285.3 L1408.0 3285.3 L1410.0 3285.3 L1412.0 3285.3 L1414.0 3285.3 L1416.0 3285.3 L1418.0 3285.3 L1420.0 3285.3 L1422.0 3285.3 L1424.0 3285.3 L1426.0 3285.3 L1428.0 3285.3 L1430.0 3285.3 L1432.0 3285.3 L1434.0 3285.3 L1436.0 3285.3 L1438.0 3285.3 L1440.0 3285.3 L1442.0 3285.3 L1444.0 3285.3 L1446.0 3285.3 L1448.0 3285.3 L1450.0 3285.3 L1452.0 3285.3 L1454.0 3285.3 L1456.0 3285.3 L1458.0 3285.3 L1460.0 3285.3 L1462.0 3285.3 L1464.0 3285.3 L1466.0 3285.3 L1468.0 3285.3 L1470.0 3285.3 L1472.0 3285.3 L1474.0 3285.3 L1476.0 3285.3 L1478.0 3285.3 L1480.0 3285.3 L1482.0 3285.3 L1484.0 3285.3 L1486.0 3285.3 L1488.0 3285.3 L1490.0 3285.3 L1492.0 3285.3 L1494.0 3285.3 L1496.0 3285.3 L1498.0 3285.3 L1500.0 3285.3 L1502.0 3285.3 L1504.0 3285.3 L1506.0 3285.3 L1508.0 3285.3 L1510.0 3285.3 L1512.0 3285.3 L1514.0 3285.3 L1516.0 3285.3 L1518.0 3285.3 L1520.0 3285.3 L1522.0 3285.3 L1524.0 3285.3 L1526.0 3285.3 L1528.0 3285.3 L1530.0 3285.3 L1532.0 3285.3 L1534.0 3285.3 L1536.0 3285.3 L1538.0 3285.3 L1540.0 3285.3 L1542.0 3285.4 L1544.0 3285.4 L1546.0 3285.4 L1548.0 3285.4 L1550.0 3285.4 L1552.0 3285.4 L1554.0 3285.4 L1556.0 3285.4 L1558.0 3285.4 L1560.0 3285.4 L1562.0 3285.4 L1564.0 3285.4 L1566.0 3285.4 L1568.0 3285.4 L1570.0 3285.4 L1572.0 3285.4 L1574.0 3285.4 L1576.0 3285.4 L1578.0 3285.4 L1580.0 3285.4 L1582.0 3285.4 L1584.0 3285.4 L1586.0 3285.4 L1588.0 3285.5 L1590.0 3285.5 L1592.0 3285.5 L1594.0 3285.5 L1596.0 3285.5 L1598.0 3285.5 L1600.0 3285.5 L1602.0 3285.5 L1604.0 3285.5 L1606.0 3285.5 L1608.0 3285.5 L1610.0 3285.5 L1612.0 3285.5 L1614.0 3285.5 L1616.0 3285.6 L1618.0 3285.6 L1620.0 3285.6 L1622.0 3285.6 L1624.0 3285.6 L1626.0 3285.6 L1628.0 3285.6 L1630.0 3285.6 L1632.0 3285.6 L1634.0 3285.6 L1636.0 3285.7 L1638.0 3285.7 L1640.0 3285.7 L1642.0 3285.7 L1644.0 3285.7 L1646.0 3285.7 L1648.0 3285.7 L1650.0 3285.7 L1652.0 3285.8 L1654.0 3285.8 L1656.0 3285.8 L1658.0 3285.8 L1660.0 3285.8 L1662.0 3285.8 L1664.0 3285.8 L1666.0 3285.9 L1668.0 3285.9 L1670.0 3285.9 L1672.0 3285.9 L1674.0 3285.9 L1676.0 3285.9 L1678.0 3286.0 L1680.0 3286.0 L1682.0 3286.0 L1684.0 3286.0 L1686.0 3286.0 L1688.0 3286.1 L1690.0 3286.1 L1692.0 3286.1 L1694.0 3286.1 L1696.0 3286.1 L1698.0 3286.2 L1700.0 3286.2 L1702.0 3286.2 L1704.0 3286.2 L1706.0 3286.3 L1708.0 3286.3 L1710.0 3286.3 L1712.0 3286.3 L1714.0 3286.4 L1716.0 3286.4 L1718.0 3286.4 L1720.0 3286.4 L1722.0 3286.5 L1724.0 3286.5 L1726.0 3286.5 L1728.0 3286.6 L1730.0 3286.6 L1732.0 3286.6 L1734.0 3286.7 L1736.0 3286.7 L1738.0 3286.7 L1740.0 3286.7 L1742.0 3286.8 L1744.0 3286.8 L1746.0 3286.8 L1748.0 3286.9 L1750.0 3286.9 L1752.0 3287.0 L1754.0 3287.0 L1756.0 3287.0 L1758.0 3287.1 L1760.0 3287.1 L1762.0 3287.1 L1764.0 3287.2 L1766.0 3287.2 L1768.0 3287.3 L1770.0 3287.3 L1772.0 3287.3 L1774.0 3287.4 L1776.0 3287.4 L1778.0 3287.5 L1780.0 3287.5 L1782.0 3287.6 L1784.0 3287.6 L1786.0 3287.7 L1788.0 3287.7 L1790.0 3287.7 L1792.0 3287.8 L1794.0 3287.8 L1796.0 3287.9 L1798.0 3287.9 L1800.0 3288.0 L1802.0 3288.0 L1804.0 3288.1 L1806.0 3288.1 L1808.0 3288.2 L1810.0 3288.2 L1812.0 3288.3 L1814.0 3288.3 L1816.0 3288.4 L1818.0 3288.5 L1820.0 3288.5 L1822.0 3288.6 L1824.0 3288.6 L1826.0 3288.7 L1828.0 3288.7 L1830.0 3288.8 L1832.0 3288.8 L1834.0 3288.9 L1836.0 3289.0 L1838.0 3289.0 L1840.0 3289.1 L1842.0 3289.1 L1844.0 3289.2 L1846.0 3289.3 L1848.0 3289.3 L1850.0 3289.4 L1852.0 3289.5 L1854.0 3289.5 L1856.0 3289.6 L1858.0 3289.6 L1860.0 3289.7 L1862.0 3289.8 L1864.0 3289.8 L1866.0 3289.9 L1868.0 3290.0 L1870.0 3290.0 L1872.0 3290.1 L1874.0 3290.2 L1876.0 3290.2 L1878.0 3290.3 L1880.0 3290.4 L1882.0 3290.4 L1884.0 3290.5 L1886.0 3290.6 L1888.0 3290.6 L1890.0 3290.7 L1892.0 3290.8 L1894.0 3290.9 L1896.0 3290.9 L1898.0 3291.0 L1900.0 3291.1 L1902.0 3291.1 L1904.0 3291.2 L1906.0 3291.3 L1908.0 3291.4 L1910.0 3291.4 L1912.0 3291.5 L1914.0 3291.6 L1916.0 3291.6 L1918.0 3291.7 L1920.0 3291.8 L1922.0 3291.9 L1924.0 3291.9 L1926.0 3292.0 L1928.0 3292.1 L1930.0 3292.1 L1932.0 3292.2 L1934.0 3292.3 L1936.0 3292.4 L1938.0 3292.4 L1940.0 3292.5 L1942.0 3292.6 L1944.0 3292.7 L1946.0 3292.7 L1948.0 3292.8 L1950.0 3292.9 L1952.0 3292.9 L1954.0 3293.0 L1956.0 3293.1 L1958.0 3293.2 L1960.0 3293.2 L1962.0 3293.3 L1964.0 3293.4 L1966.0 3293.4 L1968.0 3293.5 L1970.0 3293.6 L1972.0 3293.7 L1974.0 3293.7 L1976.0 3293.8 L1978.0 3293.9 L1980.0 3293.9 L1982.0 3294.0 L1984.0 3294.1 L1986.0 3294.1 L1988.0 3294.2 L1990.0 3294.3 L1992.0 3294.3 L1994.0 3294.4 L1996.0 3294.5 L1998.0 3294.5 L2000.0 3294.6 L2002.0 3294.7 L2004.0 3294.7 L2006.0 3294.8 L2008.0 3294.9 L2010.0 3294.9 L2012.0 3295.0 L2014.0 3295.1 L2016.0 3295.1 L2018.0 3295.2 L2020.0 3295.3 L2022.0 3295.3 L2024.0 3295.4 L2026.0 3295.4 L2028.0 3295.5 L2030.0 3295.6 L2032.0 3295.6 L2034.0 3295.7 L2036.0 3295.7 L2038.0 3295.8 L2040.0 3295.9 L2042.0 3295.9 L2044.0 3296.0 L2046.0 3296.0 L2048.0 3296.1 L2050.0 3296.1 L2052.0 3296.2 L2054.0 3296.2 L2056.0 3296.3 L2058.0 3296.3 L2060.0 3296.4 L2062.0 3296.5 L2064.0 3296.5 L2066.0 3296.6 L2068.0 3296.6 L2070.0 3296.7 L2072.0 3296.7 L2074.0 3296.8 L2076.0 3296.8 L2078.0 3296.8 L2080.0 3296.9 L2082.0 3296.9 L2084.0 3297.0 L2086.0 3297.0 L2088.0 3297.1 L2090.0 3297.1 L2092.0 3297.2 L2094.0 3297.2 L2096.0 3297.2 L2098.0 3297.3 L2100.0 3297.3 L2102.0 3297.4 L2104.0 3297.4 L2106.0 3297.5 L2108.0 3297.5 L2110.0 3297.5 L2112.0 3297.6 L2114.0 3297.6 L2116.0 3297.6 L2118.0 3297.7 L2120.0 3297.7 L2122.0 3297.7 L2124.0 3297.8 L2126.0 3297.8 L2128.0 3297.9 L2130.0 3297.9 L2132.0 3297.9 L2134.0 3297.9 L2136.0 3298.0 L2138.0 3298.0 L2140.0 3298.0 L2142.0 3298.1 L2144.0 3298.1 L2146.0 3298.1 L2148.0 3298.2 L2150.0 3298.2 L2152.0 3298.2 L2154.0 3298.2 L2156.0 3298.3 L2158.0 3298.3 L2160.0 3298.3 L2162.0 3298.3 L2164.0 3298.4 L2166.0 3298.4 L2168.0 3298.4 L2170.0 3298.4 L2172.0 3298.5 L2174.0 3298.5 L2176.0 3298.5 L2178.0 3298.5 L2180.0 3298.5 L2182.0 3298.6 L2184.0 3298.6 L2186.0 3298.6 L2188.0 3298.6 L2190.0 3298.6 L2192.0 3298.7 L2194.0 3298.7 L2196.0 3298.7 L2198.0 3298.7 L2200.0 3298.7 L2202.0 3298.7 L2204.0 3298.8 L2206.0 3298.8 L2208.0 3298.8 L2210.0 3298.8 L2212.0 3298.8 L2214.0 3298.8 L2216.0 3298.9 L2218.0 3298.9 L2220.0 3298.9 L2222.0 3298.9 L2224.0 3298.9 L2226.0 3298.9 L2228.0 3298.9 L2230.0 3298.9 L2232.0 3299.0 L2234.0 3299.0 L2236.0 3299.0 L2238.0 3299.0 L2240.0 3299.0 L2242.0 3299.0 L2244.0 3299.0 L2246.0 3299.0 L2248.0 3299.0 L2250.0 3299.0 L2252.0 3299.1 L2254.0 3299.1 L2256.0 3299.1 L2258.0 3299.1 L2260.0 3299.1 L2262.0 3299.1 L2264.0 3299.1 L2266.0 3299.1 L2268.0 3299.1 L2270.0 3299.1 L2272.0 3299.1 L2274.0 3299.1 L2276.0 3299.1 L2278.0 3299.2 L2280.0 3299.2 L2282.0 3299.2 L2284.0 3299.2 L2286.0 3299.2 L2288.0 3299.2 L2290.0 3299.2 L2292.0 3299.2 L2294.0 3299.2 L2296.0 3299.2 L2298.0 3299.2 L2300.0 3299.2 L2302.0 3299.2 L2304.0 3299.2 L2306.0 3299.2" fill="none" stroke="#666" stroke-width="3" stroke-linejoin="round" stroke-linecap="round" stroke-dasharray="7 5"/>
<path d="M1326.0 3285.3 L1328.0 3285.3 L1330.0 3285.3 L1332.0 3285.3 L1334.0 3285.3 L1336.0 3285.3 L1338.0 3285.3 L1340.0 3285.3 L1342.0 3285.3 L1344.0 3285.3 L1346.0 3285.3 L1348.0 3285.3 L1350.0 3285.3 L1352.0 3285.3 L1354.0 3285.3 L1356.0 3285.3 L1358.0 3285.3 L1360.0 3285.3 L1362.0 3285.3 L1364.0 3285.3 L1366.0 3285.3 L1368.0 3285.3 L1370.0 3285.3 L1372.0 3285.3 L1374.0 3285.3 L1376.0 3285.3 L1378.0 3285.3 L1380.0 3285.3 L1382.0 3285.3 L1384.0 3285.3 L1386.0 3285.3 L1388.0 3285.3 L1390.0 3285.3 L1392.0 3285.3 L1394.0 3285.3 L1396.0 3285.3 L1398.0 3285.3 L1400.0 3285.3 L1402.0 3285.3 L1404.0 3285.3 L1406.0 3285.3 L1408.0 3285.3 L1410.0 3285.3 L1412.0 3285.3 L1414.0 3285.3 L1416.0 3285.3 L1418.0 3285.3 L1420.0 3285.3 L1422.0 3285.3 L1424.0 3285.3 L1426.0 3285.3 L1428.0 3285.3 L1430.0 3285.3 L1432.0 3285.3 L1434.0 3285.3 L1436.0 3285.3 L1438.0 3285.3 L1440.0 3285.3 L1442.0 3285.3 L1444.0 3285.3 L1446.0 3285.3 L1448.0 3285.3 L1450.0 3285.3 L1452.0 3285.3 L1454.0 3285.3 L1456.0 3285.3 L1458.0 3285.3 L1460.0 3285.3 L1462.0 3285.3 L1464.0 3285.3 L1466.0 3285.3 L1468.0 3285.3 L1470.0 3285.3 L1472.0 3285.3 L1474.0 3285.3 L1476.0 3285.3 L1478.0 3285.3 L1480.0 3285.3 L1482.0 3285.3 L1484.0 3285.3 L1486.0 3285.3 L1488.0 3285.3 L1490.0 3285.3 L1492.0 3285.3 L1494.0 3285.3 L1496.0 3285.3 L1498.0 3285.3 L1500.0 3285.3 L1502.0 3285.3 L1504.0 3285.3 L1506.0 3285.3 L1508.0 3285.3 L1510.0 3285.3 L1512.0 3285.3 L1514.0 3285.3 L1516.0 3285.3 L1518.0 3285.3 L1520.0 3285.3 L1522.0 3285.3 L1524.0 3285.3 L1526.0 3285.3 L1528.0 3285.3 L1530.0 3285.3 L1532.0 3285.3 L1534.0 3285.3 L1536.0 3285.3 L1538.0 3285.3 L1540.0 3285.3 L1542.0 3285.3 L1544.0 3285.3 L1546.0 3285.3 L1548.0 3285.3 L1550.0 3285.3 L1552.0 3285.3 L1554.0 3285.3 L1556.0 3285.3 L1558.0 3285.3 L1560.0 3285.3 L1562.0 3285.3 L1564.0 3285.3 L1566.0 3285.3 L1568.0 3285.3 L1570.0 3285.3 L1572.0 3285.2 L1574.0 3285.2 L1576.0 3285.2 L1578.0 3285.2 L1580.0 3285.2 L1582.0 3285.2 L1584.0 3285.2 L1586.0 3285.2 L1588.0 3285.1 L1590.0 3285.1 L1592.0 3285.1 L1594.0 3285.1 L1596.0 3285.1 L1598.0 3285.0 L1600.0 3285.0 L1602.0 3285.0 L1604.0 3284.9 L1606.0 3284.9 L1608.0 3284.9 L1610.0 3284.8 L1612.0 3284.8 L1614.0 3284.7 L1616.0 3284.7 L1618.0 3284.6 L1620.0 3284.5 L1622.0 3284.5 L1624.0 3284.4 L1626.0 3284.3 L1628.0 3284.3 L1630.0 3284.2 L1632.0 3284.1 L1634.0 3284.0 L1636.0 3283.9 L1638.0 3283.7 L1640.0 3283.6 L1642.0 3283.5 L1644.0 3283.4 L1646.0 3283.2 L1648.0 3283.1 L1650.0 3282.9 L1652.0 3282.7 L1654.0 3282.5 L1656.0 3282.3 L1658.0 3282.1 L1660.0 3281.9 L1662.0 3281.6 L1664.0 3281.4 L1666.0 3281.1 L1668.0 3280.8 L1670.0 3280.5 L1672.0 3280.2 L1674.0 3279.9 L1676.0 3279.6 L1678.0 3279.2 L1680.0 3278.8 L1682.0 3278.4 L1684.0 3278.0 L1686.0 3277.5 L1688.0 3277.0 L1690.0 3276.5 L1692.0 3276.0 L1694.0 3275.5 L1696.0 3274.9 L1698.0 3274.3 L1700.0 3273.6 L1702.0 3273.0 L1704.0 3272.3 L1706.0 3271.6 L1708.0 3270.8 L1710.0 3270.0 L1712.0 3269.2 L1714.0 3268.3 L1716.0 3267.4 L1718.0 3266.5 L1720.0 3265.5 L1722.0 3264.5 L1724.0 3263.4 L1726.0 3262.3 L1728.0 3261.2 L1730.0 3260.0 L1732.0 3258.7 L1734.0 3257.5 L1736.0 3256.1 L1738.0 3254.7 L1740.0 3253.3 L1742.0 3251.8 L1744.0 3250.3 L1746.0 3248.7 L1748.0 3247.1 L1750.0 3245.4 L1752.0 3243.7 L1754.0 3241.9 L1756.0 3240.0 L1758.0 3238.1 L1760.0 3236.2 L1762.0 3234.1 L1764.0 3232.1 L1766.0 3229.9 L1768.0 3227.7 L1770.0 3225.5 L1772.0 3223.2 L1774.0 3220.8 L1776.0 3218.4 L1778.0 3215.9 L1780.0 3213.4 L1782.0 3210.8 L1784.0 3208.1 L1786.0 3205.4 L1788.0 3202.6 L1790.0 3199.8 L1792.0 3196.9 L1794.0 3194.0 L1796.0 3191.0 L1798.0 3187.9 L1800.0 3184.9 L1802.0 3181.7 L1804.0 3178.5 L1806.0 3175.3 L1808.0 3172.0 L1810.0 3168.7 L1812.0 3165.3 L1814.0 3161.9 L1816.0 3158.5 L1818.0 3155.0 L1820.0 3151.5 L1822.0 3147.9 L1824.0 3144.4 L1826.0 3140.8 L1828.0 3137.2 L1830.0 3133.5 L1832.0 3129.9 L1834.0 3126.2 L1836.0 3122.5 L1838.0 3118.8 L1840.0 3115.1 L1842.0 3111.5 L1844.0 3107.8 L1846.0 3104.1 L1848.0 3100.4 L1850.0 3096.8 L1852.0 3093.1 L1854.0 3089.5 L1856.0 3085.9 L1858.0 3082.3 L1860.0 3078.8 L1862.0 3075.3 L1864.0 3071.8 L1866.0 3068.4 L1868.0 3065.0 L1870.0 3061.7 L1872.0 3058.4 L1874.0 3055.2 L1876.0 3052.1 L1878.0 3049.0 L1880.0 3046.0 L1882.0 3043.1 L1884.0 3040.2 L1886.0 3037.4 L1888.0 3034.8 L1890.0 3032.2 L1892.0 3029.6 L1894.0 3027.2 L1896.0 3024.9 L1898.0 3022.7 L1900.0 3020.6 L1902.0 3018.6 L1904.0 3016.7 L1906.0 3014.9 L1908.0 3013.3 L1910.0 3011.7 L1912.0 3010.3 L1914.0 3009.0 L1916.0 3007.8 L1918.0 3006.7 L1920.0 3005.8 L1922.0 3005.0 L1924.0 3004.3 L1926.0 3003.7 L1928.0 3003.3 L1930.0 3003.0 L1932.0 3002.9 L1934.0 3002.9 L1936.0 3003.0 L1938.0 3003.2 L1940.0 3003.6 L1942.0 3004.0 L1944.0 3004.7 L1946.0 3005.4 L1948.0 3006.2 L1950.0 3007.2 L1952.0 3008.3 L1954.0 3009.5 L1956.0 3010.8 L1958.0 3012.3 L1960.0 3013.9 L1962.0 3015.5 L1964.0 3017.3 L1966.0 3019.2 L1968.0 3021.2 L1970.0 3023.3 L1972.0 3025.5 L1974.0 3027.8 L1976.0 3030.2 L1978.0 3032.7 L1980.0 3035.2 L1982.0 3037.9 L1984.0 3040.6 L1986.0 3043.5 L1988.0 3046.4 L1990.0 3049.3 L1992.0 3052.4 L1994.0 3055.5 L1996.0 3058.7 L1998.0 3061.9 L2000.0 3065.2 L2002.0 3068.6 L2004.0 3072.0 L2006.0 3075.4 L2008.0 3078.9 L2010.0 3082.4 L2012.0 3085.9 L2014.0 3089.5 L2016.0 3093.1 L2018.0 3096.8 L2020.0 3100.4 L2022.0 3104.1 L2024.0 3107.8 L2026.0 3111.5 L2028.0 3115.2 L2030.0 3118.9 L2032.0 3122.6 L2034.0 3126.3 L2036.0 3130.0 L2038.0 3133.7 L2040.0 3137.4 L2042.0 3141.1 L2044.0 3144.7 L2046.0 3148.4 L2048.0 3152.0 L2050.0 3155.6 L2052.0 3159.1 L2054.0 3162.6 L2056.0 3166.1 L2058.0 3169.6 L2060.0 3173.0 L2062.0 3176.4 L2064.0 3179.7 L2066.0 3183.0 L2068.0 3186.3 L2070.0 3189.5 L2072.0 3192.7 L2074.0 3195.8 L2076.0 3198.9 L2078.0 3201.9 L2080.0 3204.9 L2082.0 3207.8 L2084.0 3210.6 L2086.0 3213.5 L2088.0 3216.2 L2090.0 3218.9 L2092.0 3221.6 L2094.0 3224.2 L2096.0 3226.7 L2098.0 3229.2 L2100.0 3231.6 L2102.0 3234.0 L2104.0 3236.3 L2106.0 3238.5 L2108.0 3240.7 L2110.0 3242.9 L2112.0 3244.9 L2114.0 3247.0 L2116.0 3249.0 L2118.0 3250.9 L2120.0 3252.7 L2122.0 3254.6 L2124.0 3256.3 L2126.0 3258.0 L2128.0 3259.7 L2130.0 3261.3 L2132.0 3262.8 L2134.0 3264.4 L2136.0 3265.8 L2138.0 3267.2 L2140.0 3268.6 L2142.0 3269.9 L2144.0 3271.2 L2146.0 3272.4 L2148.0 3273.6 L2150.0 3274.7 L2152.0 3275.8 L2154.0 3276.9 L2156.0 3277.9 L2158.0 3278.9 L2160.0 3279.8 L2162.0 3280.7 L2164.0 3281.6 L2166.0 3282.5 L2168.0 3283.3 L2170.0 3284.0 L2172.0 3284.8 L2174.0 3285.5 L2176.0 3286.2 L2178.0 3286.8 L2180.0 3287.4 L2182.0 3288.0 L2184.0 3288.6 L2186.0 3289.2 L2188.0 3289.7 L2190.0 3290.2 L2192.0 3290.7 L2194.0 3291.1 L2196.0 3291.5 L2198.0 3291.9 L2200.0 3292.3 L2202.0 3292.7 L2204.0 3293.1 L2206.0 3293.4 L2208.0 3293.7 L2210.0 3294.0 L2212.0 3294.3 L2214.0 3294.6 L2216.0 3294.9 L2218.0 3295.1 L2220.0 3295.4 L2222.0 3295.6 L2224.0 3295.8 L2226.0 3296.0 L2228.0 3296.2 L2230.0 3296.4 L2232.0 3296.5 L2234.0 3296.7 L2236.0 3296.9 L2238.0 3297.0 L2240.0 3297.1 L2242.0 3297.3 L2244.0 3297.4 L2246.0 3297.5 L2248.0 3297.6 L2250.0 3297.7 L2252.0 3297.8 L2254.0 3297.9 L2256.0 3298.0 L2258.0 3298.1 L2260.0 3298.2 L2262.0 3298.2 L2264.0 3298.3 L2266.0 3298.4 L2268.0 3298.4 L2270.0 3298.5 L2272.0 3298.5 L2274.0 3298.6 L2276.0 3298.6 L2278.0 3298.7 L2280.0 3298.7 L2282.0 3298.7 L2284.0 3298.8 L2286.0 3298.8 L2288.0 3298.8 L2290.0 3298.9 L2292.0 3298.9 L2294.0 3298.9 L2296.0 3299.0 L2298.0 3299.0 L2300.0 3299.0 L2302.0 3299.0 L2304.0 3299.0 L2306.0 3299.1" fill="none" stroke="#f5a850" stroke-width="3.8" stroke-linejoin="round" stroke-linecap="round" stroke-dasharray="19 17"/>
<path d="M1326.0 3284.7 L1328.0 3284.7 L1330.0 3284.6 L1332.0 3284.6 L1334.0 3284.6 L1336.0 3284.5 L1338.0 3284.5 L1340.0 3284.4 L1342.0 3284.4 L1344.0 3284.4 L1346.0 3284.3 L1348.0 3284.2 L1350.0 3284.2 L1352.0 3284.1 L1354.0 3284.1 L1356.0 3284.0 L1358.0 3283.9 L1360.0 3283.9 L1362.0 3283.8 L1364.0 3283.7 L1366.0 3283.6 L1368.0 3283.6 L1370.0 3283.5 L1372.0 3283.4 L1374.0 3283.3 L1376.0 3283.2 L1378.0 3283.1 L1380.0 3283.0 L1382.0 3282.9 L1384.0 3282.7 L1386.0 3282.6 L1388.0 3282.5 L1390.0 3282.4 L1392.0 3282.2 L1394.0 3282.1 L1396.0 3281.9 L1398.0 3281.8 L1400.0 3281.6 L1402.0 3281.5 L1404.0 3281.3 L1406.0 3281.1 L1408.0 3280.9 L1410.0 3280.7 L1412.0 3280.5 L1414.0 3280.3 L1416.0 3280.1 L1418.0 3279.9 L1420.0 3279.7 L1422.0 3279.4 L1424.0 3279.2 L1426.0 3279.0 L1428.0 3278.7 L1430.0 3278.4 L1432.0 3278.2 L1434.0 3277.9 L1436.0 3277.6 L1438.0 3277.3 L1440.0 3277.0 L1442.0 3276.7 L1444.0 3276.4 L1446.0 3276.0 L1448.0 3275.7 L1450.0 3275.3 L1452.0 3275.0 L1454.0 3274.6 L1456.0 3274.2 L1458.0 3273.8 L1460.0 3273.4 L1462.0 3273.0 L1464.0 3272.6 L1466.0 3272.2 L1468.0 3271.7 L1470.0 3271.3 L1472.0 3270.8 L1474.0 3270.4 L1476.0 3269.9 L1478.0 3269.4 L1480.0 3268.9 L1482.0 3268.4 L1484.0 3267.9 L1486.0 3267.4 L1488.0 3266.9 L1490.0 3266.3 L1492.0 3265.8 L1494.0 3265.2 L1496.0 3264.6 L1498.0 3264.1 L1500.0 3263.5 L1502.0 3262.9 L1504.0 3262.3 L1506.0 3261.7 L1508.0 3261.0 L1510.0 3260.4 L1512.0 3259.8 L1514.0 3259.1 L1516.0 3258.5 L1518.0 3257.8 L1520.0 3257.2 L1522.0 3256.5 L1524.0 3255.8 L1526.0 3255.2 L1528.0 3254.5 L1530.0 3253.8 L1532.0 3253.1 L1534.0 3252.4 L1536.0 3251.7 L1538.0 3251.0 L1540.0 3250.3 L1542.0 3249.6 L1544.0 3248.9 L1546.0 3248.2 L1548.0 3247.5 L1550.0 3246.8 L1552.0 3246.1 L1554.0 3245.4 L1556.0 3244.7 L1558.0 3244.0 L1560.0 3243.3 L1562.0 3242.6 L1564.0 3241.9 L1566.0 3241.2 L1568.0 3240.5 L1570.0 3239.8 L1572.0 3239.1 L1574.0 3238.5 L1576.0 3237.8 L1578.0 3237.1 L1580.0 3236.5 L1582.0 3235.9 L1584.0 3235.2 L1586.0 3234.6 L1588.0 3234.0 L1590.0 3233.4 L1592.0 3232.8 L1594.0 3232.2 L1596.0 3231.7 L1598.0 3231.1 L1600.0 3230.6 L1602.0 3230.1 L1604.0 3229.6 L1606.0 3229.1 L1608.0 3228.6 L1610.0 3228.1 L1612.0 3227.7 L1614.0 3227.2 L1616.0 3226.8 L1618.0 3226.4 L1620.0 3226.1 L1622.0 3225.7 L1624.0 3225.4 L1626.0 3225.0 L1628.0 3224.7 L1630.0 3224.5 L1632.0 3224.2 L1634.0 3224.0 L1636.0 3223.7 L1638.0 3223.5 L1640.0 3223.4 L1642.0 3223.2 L1644.0 3223.1 L1646.0 3223.0 L1648.0 3222.9 L1650.0 3222.8 L1652.0 3222.7 L1654.0 3222.7 L1656.0 3222.7 L1658.0 3222.7 L1660.0 3222.8 L1662.0 3222.9 L1664.0 3223.0 L1666.0 3223.2 L1668.0 3223.4 L1670.0 3223.6 L1672.0 3223.9 L1674.0 3224.2 L1676.0 3224.5 L1678.0 3224.8 L1680.0 3225.2 L1682.0 3225.7 L1684.0 3226.1 L1686.0 3226.6 L1688.0 3227.1 L1690.0 3227.7 L1692.0 3228.2 L1694.0 3228.8 L1696.0 3229.5 L1698.0 3230.1 L1700.0 3230.8 L1702.0 3231.5 L1704.0 3232.2 L1706.0 3232.9 L1708.0 3233.7 L1710.0 3234.5 L1712.0 3235.3 L1714.0 3236.1 L1716.0 3236.9 L1718.0 3237.7 L1720.0 3238.6 L1722.0 3239.5 L1724.0 3240.3 L1726.0 3241.2 L1728.0 3242.1 L1730.0 3243.0 L1732.0 3243.9 L1734.0 3244.9 L1736.0 3245.8 L1738.0 3246.7 L1740.0 3247.6 L1742.0 3248.6 L1744.0 3249.5 L1746.0 3250.4 L1748.0 3251.4 L1750.0 3252.3 L1752.0 3253.2 L1754.0 3254.1 L1756.0 3255.0 L1758.0 3256.0 L1760.0 3256.9 L1762.0 3257.7 L1764.0 3258.6 L1766.0 3259.5 L1768.0 3260.4 L1770.0 3261.2 L1772.0 3262.1 L1774.0 3262.9 L1776.0 3263.8 L1778.0 3264.6 L1780.0 3265.4 L1782.0 3266.2 L1784.0 3266.9 L1786.0 3267.7 L1788.0 3268.4 L1790.0 3269.2 L1792.0 3269.9 L1794.0 3270.6 L1796.0 3271.3 L1798.0 3272.0 L1800.0 3272.6 L1802.0 3273.3 L1804.0 3273.9 L1806.0 3274.5 L1808.0 3275.1 L1810.0 3275.7 L1812.0 3276.3 L1814.0 3276.9 L1816.0 3277.4 L1818.0 3277.9 L1820.0 3278.4 L1822.0 3278.9 L1824.0 3279.4 L1826.0 3279.9 L1828.0 3280.4 L1830.0 3280.8 L1832.0 3281.2 L1834.0 3281.7 L1836.0 3282.1 L1838.0 3282.5 L1840.0 3282.8 L1842.0 3283.2 L1844.0 3283.6 L1846.0 3283.9 L1848.0 3284.2 L1850.0 3284.6 L1852.0 3284.9 L1854.0 3285.2 L1856.0 3285.5 L1858.0 3285.8 L1860.0 3286.0 L1862.0 3286.3 L1864.0 3286.6 L1866.0 3286.8 L1868.0 3287.0 L1870.0 3287.3 L1872.0 3287.5 L1874.0 3287.7 L1876.0 3287.9 L1878.0 3288.1 L1880.0 3288.3 L1882.0 3288.5 L1884.0 3288.7 L1886.0 3288.9 L1888.0 3289.1 L1890.0 3289.2 L1892.0 3289.4 L1894.0 3289.5 L1896.0 3289.7 L1898.0 3289.8 L1900.0 3290.0 L1902.0 3290.1 L1904.0 3290.3 L1906.0 3290.4 L1908.0 3290.5 L1910.0 3290.7 L1912.0 3290.8 L1914.0 3290.9 L1916.0 3291.0 L1918.0 3291.1 L1920.0 3291.2 L1922.0 3291.4 L1924.0 3291.5 L1926.0 3291.6 L1928.0 3291.7 L1930.0 3291.8 L1932.0 3291.9 L1934.0 3292.0 L1936.0 3292.1 L1938.0 3292.2 L1940.0 3292.3 L1942.0 3292.3 L1944.0 3292.4 L1946.0 3292.5 L1948.0 3292.6 L1950.0 3292.7 L1952.0 3292.8 L1954.0 3292.9 L1956.0 3293.0 L1958.0 3293.0 L1960.0 3293.1 L1962.0 3293.2 L1964.0 3293.3 L1966.0 3293.4 L1968.0 3293.4 L1970.0 3293.5 L1972.0 3293.6 L1974.0 3293.7 L1976.0 3293.7 L1978.0 3293.8 L1980.0 3293.9 L1982.0 3294.0 L1984.0 3294.0 L1986.0 3294.1 L1988.0 3294.2 L1990.0 3294.2 L1992.0 3294.3 L1994.0 3294.4 L1996.0 3294.5 L1998.0 3294.5 L2000.0 3294.6 L2002.0 3294.7 L2004.0 3294.7 L2006.0 3294.8 L2008.0 3294.9 L2010.0 3294.9 L2012.0 3295.0 L2014.0 3295.1 L2016.0 3295.1 L2018.0 3295.2 L2020.0 3295.2 L2022.0 3295.3 L2024.0 3295.4 L2026.0 3295.4 L2028.0 3295.5 L2030.0 3295.6 L2032.0 3295.6 L2034.0 3295.7 L2036.0 3295.7 L2038.0 3295.8 L2040.0 3295.9 L2042.0 3295.9 L2044.0 3296.0 L2046.0 3296.0 L2048.0 3296.1 L2050.0 3296.1 L2052.0 3296.2 L2054.0 3296.2 L2056.0 3296.3 L2058.0 3296.3 L2060.0 3296.4 L2062.0 3296.5 L2064.0 3296.5 L2066.0 3296.6 L2068.0 3296.6 L2070.0 3296.7 L2072.0 3296.7 L2074.0 3296.8 L2076.0 3296.8 L2078.0 3296.8 L2080.0 3296.9 L2082.0 3296.9 L2084.0 3297.0 L2086.0 3297.0 L2088.0 3297.1 L2090.0 3297.1 L2092.0 3297.2 L2094.0 3297.2 L2096.0 3297.2 L2098.0 3297.3 L2100.0 3297.3 L2102.0 3297.4 L2104.0 3297.4 L2106.0 3297.5 L2108.0 3297.5 L2110.0 3297.5 L2112.0 3297.6 L2114.0 3297.6 L2116.0 3297.6 L2118.0 3297.7 L2120.0 3297.7 L2122.0 3297.7 L2124.0 3297.8 L2126.0 3297.8 L2128.0 3297.9 L2130.0 3297.9 L2132.0 3297.9 L2134.0 3297.9 L2136.0 3298.0 L2138.0 3298.0 L2140.0 3298.0 L2142.0 3298.1 L2144.0 3298.1 L2146.0 3298.1 L2148.0 3298.2 L2150.0 3298.2 L2152.0 3298.2 L2154.0 3298.2 L2156.0 3298.3 L2158.0 3298.3 L2160.0 3298.3 L2162.0 3298.3 L2164.0 3298.4 L2166.0 3298.4 L2168.0 3298.4 L2170.0 3298.4 L2172.0 3298.5 L2174.0 3298.5 L2176.0 3298.5 L2178.0 3298.5 L2180.0 3298.5 L2182.0 3298.6 L2184.0 3298.6 L2186.0 3298.6 L2188.0 3298.6 L2190.0 3298.6 L2192.0 3298.7 L2194.0 3298.7 L2196.0 3298.7 L2198.0 3298.7 L2200.0 3298.7 L2202.0 3298.7 L2204.0 3298.8 L2206.0 3298.8 L2208.0 3298.8 L2210.0 3298.8 L2212.0 3298.8 L2214.0 3298.8 L2216.0 3298.9 L2218.0 3298.9 L2220.0 3298.9 L2222.0 3298.9 L2224.0 3298.9 L2226.0 3298.9 L2228.0 3298.9 L2230.0 3298.9 L2232.0 3299.0 L2234.0 3299.0 L2236.0 3299.0 L2238.0 3299.0 L2240.0 3299.0 L2242.0 3299.0 L2244.0 3299.0 L2246.0 3299.0 L2248.0 3299.0 L2250.0 3299.0 L2252.0 3299.1 L2254.0 3299.1 L2256.0 3299.1 L2258.0 3299.1 L2260.0 3299.1 L2262.0 3299.1 L2264.0 3299.1 L2266.0 3299.1 L2268.0 3299.1 L2270.0 3299.1 L2272.0 3299.1 L2274.0 3299.1 L2276.0 3299.1 L2278.0 3299.2 L2280.0 3299.2 L2282.0 3299.2 L2284.0 3299.2 L2286.0 3299.2 L2288.0 3299.2 L2290.0 3299.2 L2292.0 3299.2 L2294.0 3299.2 L2296.0 3299.2 L2298.0 3299.2 L2300.0 3299.2 L2302.0 3299.2 L2304.0 3299.2 L2306.0 3299.2" fill="none" stroke="#e050e0" stroke-width="3.5" stroke-linejoin="round" stroke-linecap="round" stroke-dasharray="22 9 8 9"/>
<rect x="1324" y="1407" width="987" height="1975" fill="none" stroke="#262626" stroke-width="6.5"/>
<line x1="1465.3" y1="3382" x2="1465.3" y2="3374" stroke="#262626" stroke-width="5"/>
<line x1="1606.0" y1="3382" x2="1606.0" y2="3366" stroke="#262626" stroke-width="5"/>
<line x1="1746.7" y1="3382" x2="1746.7" y2="3374" stroke="#262626" stroke-width="5"/>
<line x1="1887.4" y1="3382" x2="1887.4" y2="3366" stroke="#262626" stroke-width="5"/>
<line x1="2028.1" y1="3382" x2="2028.1" y2="3374" stroke="#262626" stroke-width="5"/>
<line x1="2168.8" y1="3382" x2="2168.8" y2="3366" stroke="#262626" stroke-width="5"/>
<text x="1323.6" y="3446.0" font-family="'Liberation Sans', Arial, Helvetica, sans-serif" font-size="57" font-weight="bold" fill="#111" text-anchor="middle" >534</text>
<text x="1605.0" y="3446.0" font-family="'Liberation Sans', Arial, Helvetica, sans-serif" font-size="57" font-weight="bold" fill="#111" text-anchor="middle" >532</text>
<text x="1886.4" y="3446.0" font-family="'Liberation Sans', Arial, Helvetica, sans-serif" font-size="57" font-weight="bold" fill="#111" text-anchor="middle" >530</text>
<text x="2167.8" y="3446.0" font-family="'Liberation Sans', Arial, Helvetica, sans-serif" font-size="57" font-weight="bold" fill="#111" text-anchor="middle" >528</text>
<text x="1818.5" y="3556.0" font-family="'Liberation Sans', Arial, Helvetica, sans-serif" font-size="73.6" font-weight="bold" fill="#111" text-anchor="middle" >Binding Energy (eV)</text>
<text x="1271.0" y="2439.0" font-family="'Liberation Sans', Arial, Helvetica, sans-serif" font-size="73.2" font-weight="bold" fill="#111" text-anchor="middle" transform="rotate(-90 1271.0 2439.0)" >Relative Intensity (arb. Units)</text>
<text x="1811.0" y="3683.0" font-family="'Liberation Sans', Arial, Helvetica, sans-serif" font-size="79" font-weight="normal" fill="#222" text-anchor="middle" letter-spacing="3">(c)</text>
<text x="1661.4" y="1387.0" font-family="'Liberation Sans', Arial, Helvetica, sans-serif" font-size="57" font-weight="normal" fill="#f030f0" text-anchor="middle" >531.7</text>
<text x="1945.0" y="1387.0" font-family="'Liberation Sans', Arial, Helvetica, sans-serif" font-size="57" font-weight="normal" fill="#f39028" text-anchor="middle" >529.6</text>
<text x="1349.5" y="1501.0" font-family="'Liberation Sans', Arial, Helvetica, sans-serif" font-size="73.6" font-weight="normal" fill="#1a1a1a" text-anchor="start" >[O 1s Spectra]</text>
<line x1="2006" y1="1465" x2="2137" y2="1465" stroke="#f7b878" stroke-width="5" stroke-dasharray="21 17"/>
<line x1="2006" y1="1532" x2="2124" y2="1532" stroke="#d848d8" stroke-width="4" stroke-dasharray="22 9 8 9"/>
<text x="2161.0" y="1485.0" font-family="'Liberation Sans', Arial, Helvetica, sans-serif" font-size="55" font-weight="normal" fill="#f39028" text-anchor="start" >NiO</text>
<text x="2161" y="1551" font-family="'Liberation Sans', Arial, Helvetica, sans-serif" font-size="55" fill="#f030f0">Ni<tspan font-size="38">2</tspan>O<tspan font-size="38">3</tspan></text>
<text x="2294.0" y="1686.0" font-family="'Liberation Sans', Arial, Helvetica, sans-serif" font-size="55" font-weight="bold" fill="#138383" text-anchor="end" >10 mTorr</text>
<text x="2274.0" y="2176.0" font-family="'Liberation Sans', Arial, Helvetica, sans-serif" font-size="55" font-weight="bold" fill="#1a1ae6" text-anchor="end" >5 mTorr</text>
<text x="2274.0" y="2676.0" font-family="'Liberation Sans', Arial, Helvetica, sans-serif" font-size="55" font-weight="bold" fill="#e81c1c" text-anchor="end" >2 mTorr</text>
<text x="2271.0" y="3169.0" font-family="'Liberation Sans', Arial, Helvetica, sans-serif" font-size="55" font-weight="bold" fill="#111" text-anchor="end" >1 mTorr</text>
</g>
<text x="335.0" y="220.5" font-family="'Liberation Serif', 'Times New Roman', serif" font-size="76.5" font-weight="bold" fill="#000" text-anchor="start" >(</text>
<text x="359.5" y="228.5" font-family="'Liberation Serif', 'Times New Roman', serif" font-size="81" font-weight="bold" fill="#000" text-anchor="start" >a</text>
<text x="402.0" y="220.5" font-family="'Liberation Serif', 'Times New Roman', serif" font-size="76.5" font-weight="bold" fill="#000" text-anchor="start" >)</text>
</svg>
</body></html>
